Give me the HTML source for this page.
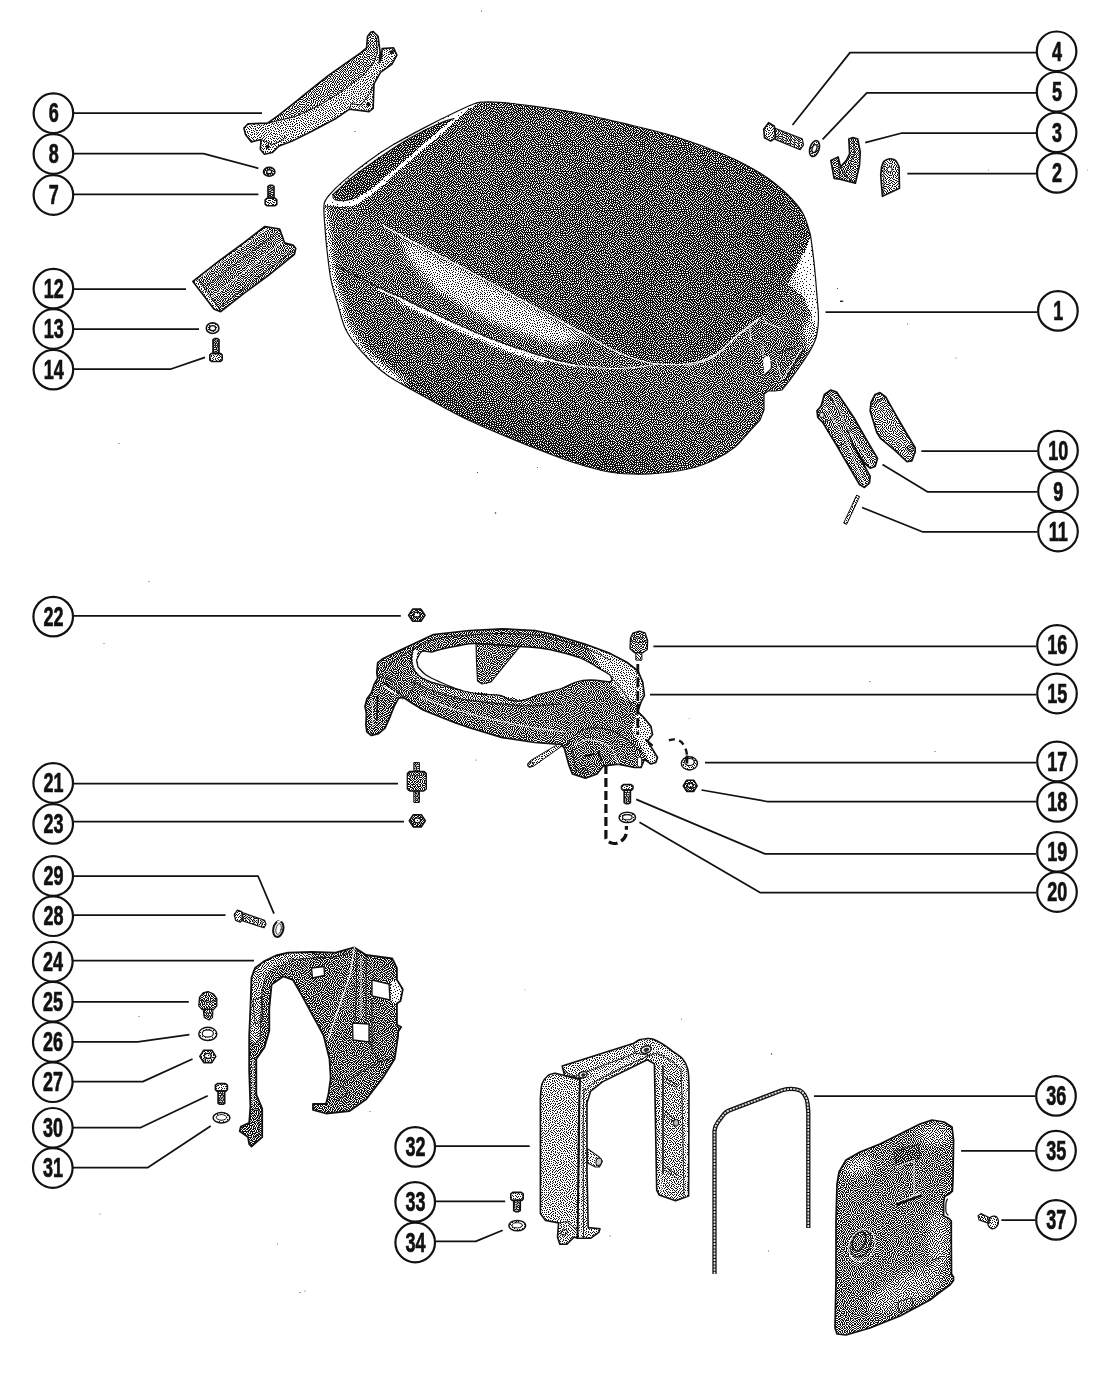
<!DOCTYPE html>
<html lang="en">
<head>
<meta charset="utf-8">
<title>Cowl and support frame - exploded parts diagram</title>
<style>
html,body{margin:0;padding:0;background:#fff;}
body{width:1100px;height:1382px;overflow:hidden;font-family:"Liberation Sans",sans-serif;}
svg{display:block;}
.ld{fill:none;stroke:#111;stroke-width:1.75;stroke-linejoin:round;}
.cc{fill:#fff;stroke:#111;stroke-width:2.2;}
.cn{font-family:"Liberation Sans",sans-serif;font-weight:700;font-size:27.5px;fill:#111;stroke:#111;stroke-width:0.7;text-anchor:middle;}
.o{fill:none;stroke:#111;stroke-width:1.1;stroke-linejoin:round;stroke-linecap:round;}
.o2{fill:none;stroke:#111;stroke-width:1.6;stroke-linejoin:round;stroke-linecap:round;}
.w{fill:none;stroke:#fff;stroke-width:1.2;stroke-linejoin:round;stroke-linecap:round;}
.dash{fill:none;stroke:#111;stroke-width:2.2;stroke-dasharray:7 3.5;}
</style>
</head>
<body>
<svg width="1100" height="1382" viewBox="0 0 1100 1382">
<defs>
<filter id="thr" x="0" y="0" width="1100" height="1382" filterUnits="userSpaceOnUse" color-interpolation-filters="sRGB">
<feComponentTransfer><feFuncR type="discrete" tableValues="0.07 1"/><feFuncG type="discrete" tableValues="0.07 1"/><feFuncB type="discrete" tableValues="0.07 1"/></feComponentTransfer>
</filter>
<pattern id="bn" x="0" y="0" width="64" height="64" patternUnits="userSpaceOnUse" shape-rendering="crispEdges">
<path fill="#020202" d="M36 0h1v1h-1zM63 0h1v1h-1zM29 1h1v1h-1zM46 1h1v1h-1zM17 2h1v1h-1zM8 3h1v1h-1zM56 5h1v1h-1zM37 6h1v1h-1zM42 8h1v1h-1zM51 8h1v1h-1zM23 9h1v1h-1zM12 10h1v1h-1zM61 11h1v1h-1zM5 13h1v1h-1zM36 14h1v1h-1zM20 15h1v1h-1zM29 15h1v1h-1zM42 17h1v1h-1zM55 18h1v1h-1zM0 20h1v1h-1zM7 21h1v1h-1zM17 22h1v1h-1zM24 22h1v1h-1zM33 22h1v1h-1zM49 22h1v1h-1zM1 28h1v1h-1zM17 28h1v1h-1zM41 28h1v1h-1zM58 29h1v1h-1zM5 32h1v1h-1zM23 33h1v1h-1zM31 33h1v1h-1zM11 34h1v1h-1zM51 35h1v1h-1zM58 35h1v1h-1zM36 36h1v1h-1zM42 38h1v1h-1zM1 39h1v1h-1zM28 39h1v1h-1zM16 40h1v1h-1zM6 41h1v1h-1zM52 41h1v1h-1zM38 43h1v1h-1zM20 44h1v1h-1zM5 47h1v1h-1zM51 47h1v1h-1zM59 47h1v1h-1zM44 48h1v1h-1zM28 50h1v1h-1zM10 51h1v1h-1zM17 52h1v1h-1zM33 52h1v1h-1zM51 53h1v1h-1zM43 54h1v1h-1zM59 54h1v1h-1zM4 56h1v1h-1zM37 57h1v1h-1zM27 58h1v1h-1zM13 59h1v1h-1zM21 60h1v1h-1zM7 61h1v1h-1zM41 61h1v1h-1zM57 62h1v1h-1zM51 63h1v1h-1z"/>
<path fill="#060606" d="M22 1h1v1h-1zM3 2h1v1h-1zM12 2h1v1h-1zM51 3h1v1h-1zM27 5h1v1h-1zM45 5h1v1h-1zM1 8h1v1h-1zM5 8h1v1h-1zM18 8h1v1h-1zM33 8h1v1h-1zM29 10h1v1h-1zM46 10h1v1h-1zM39 11h1v1h-1zM17 12h1v1h-1zM1 14h1v1h-1zM25 14h1v1h-1zM48 14h1v1h-1zM52 14h1v1h-1zM57 14h1v1h-1zM10 15h1v1h-1zM26 18h1v1h-1zM50 18h1v1h-1zM14 19h1v1h-1zM38 21h1v1h-1zM11 23h1v1h-1zM42 23h1v1h-1zM61 23h1v1h-1zM52 26h1v1h-1zM22 27h1v1h-1zM31 27h1v1h-1zM48 27h1v1h-1zM6 28h1v1h-1zM27 28h1v1h-1zM10 29h1v1h-1zM35 31h1v1h-1zM0 32h1v1h-1zM42 32h1v1h-1zM54 32h1v1h-1zM18 34h1v1h-1zM46 35h1v1h-1zM21 39h1v1h-1zM56 39h1v1h-1zM34 40h1v1h-1zM11 41h1v1h-1zM47 43h1v1h-1zM61 43h1v1h-1zM26 44h1v1h-1zM10 45h1v1h-1zM1 46h1v1h-1zM13 48h1v1h-1zM55 48h1v1h-1zM21 49h1v1h-1zM36 49h1v1h-1zM0 52h1v1h-1zM39 52h1v1h-1zM25 53h1v1h-1zM20 56h1v1h-1zM31 56h1v1h-1zM47 56h1v1h-1zM0 57h1v1h-1zM54 58h1v1h-1zM32 60h1v1h-1zM46 60h1v1h-1zM17 62h1v1h-1z"/>
<path fill="#0a0a0a" d="M43 0h1v1h-1zM54 1h1v1h-1zM33 2h1v1h-1zM0 4h1v1h-1zM40 4h1v1h-1zM14 5h1v1h-1zM11 6h1v1h-1zM21 6h1v1h-1zM59 7h1v1h-1zM57 10h1v1h-1zM8 11h1v1h-1zM32 12h1v1h-1zM13 13h1v1h-1zM42 13h1v1h-1zM33 16h1v1h-1zM2 17h1v1h-1zM9 18h1v1h-1zM17 18h1v1h-1zM45 19h1v1h-1zM57 21h1v1h-1zM3 22h1v1h-1zM53 22h1v1h-1zM20 24h1v1h-1zM27 24h1v1h-1zM5 25h1v1h-1zM38 25h1v1h-1zM58 25h1v1h-1zM14 26h1v1h-1zM35 27h1v1h-1zM45 29h1v1h-1zM21 30h1v1h-1zM38 32h1v1h-1zM50 32h1v1h-1zM14 33h1v1h-1zM27 33h1v1h-1zM62 35h1v1h-1zM8 38h1v1h-1zM12 38h1v1h-1zM48 38h1v1h-1zM61 39h1v1h-1zM25 41h1v1h-1zM30 42h1v1h-1zM44 42h1v1h-1zM3 43h1v1h-1zM54 44h1v1h-1zM41 45h1v1h-1zM17 46h1v1h-1zM24 47h1v1h-1zM32 49h1v1h-1zM40 49h1v1h-1zM46 51h1v1h-1zM57 51h1v1h-1zM4 52h1v1h-1zM14 53h1v1h-1zM7 54h1v1h-1zM54 54h1v1h-1zM9 58h1v1h-1zM43 58h1v1h-1zM50 59h1v1h-1zM59 59h1v1h-1zM36 60h1v1h-1zM1 61h1v1h-1zM11 62h1v1h-1zM24 62h1v1h-1z"/>
<path fill="#0e0e0e" d="M5 0h1v1h-1zM25 2h1v1h-1zM30 4h1v1h-1zM59 4h1v1h-1zM34 5h1v1h-1zM48 7h1v1h-1zM26 9h1v1h-1zM54 9h1v1h-1zM35 11h1v1h-1zM49 11h1v1h-1zM61 14h1v1h-1zM39 15h1v1h-1zM14 16h1v1h-1zM45 16h1v1h-1zM58 17h1v1h-1zM29 18h1v1h-1zM38 18h1v1h-1zM5 19h1v1h-1zM23 19h1v1h-1zM34 19h1v1h-1zM60 20h1v1h-1zM30 23h1v1h-1zM45 23h1v1h-1zM55 25h1v1h-1zM9 26h1v1h-1zM62 26h1v1h-1zM38 29h1v1h-1zM55 29h1v1h-1zM13 30h1v1h-1zM32 30h1v1h-1zM47 32h1v1h-1zM61 32h1v1h-1zM3 34h1v1h-1zM8 35h1v1h-1zM22 36h1v1h-1zM28 36h1v1h-1zM55 36h1v1h-1zM16 37h1v1h-1zM33 37h1v1h-1zM4 38h1v1h-1zM25 38h1v1h-1zM39 38h1v1h-1zM33 43h1v1h-1zM58 44h1v1h-1zM13 45h1v1h-1zM36 46h1v1h-1zM48 46h1v1h-1zM28 47h1v1h-1zM2 49h1v1h-1zM51 50h1v1h-1zM60 50h1v1h-1zM22 52h1v1h-1zM36 53h1v1h-1zM29 54h1v1h-1zM10 55h1v1h-1zM14 56h1v1h-1zM23 56h1v1h-1zM40 57h1v1h-1zM4 59h1v1h-1zM18 59h1v1h-1zM62 60h1v1h-1zM29 61h1v1h-1zM54 61h1v1h-1zM14 63h1v1h-1z"/>
<path fill="#121212" d="M9 0h1v1h-1zM57 1h1v1h-1zM61 2h1v1h-1zM20 3h1v1h-1zM36 3h1v1h-1zM43 3h1v1h-1zM48 4h1v1h-1zM6 5h1v1h-1zM17 5h1v1h-1zM53 5h1v1h-1zM8 8h1v1h-1zM14 8h1v1h-1zM62 8h1v1h-1zM20 10h1v1h-1zM0 11h1v1h-1zM3 11h1v1h-1zM23 12h1v1h-1zM54 12h1v1h-1zM45 13h1v1h-1zM17 15h1v1h-1zM7 16h1v1h-1zM20 18h1v1h-1zM62 18h1v1h-1zM42 20h1v1h-1zM21 21h1v1h-1zM27 21h1v1h-1zM14 23h1v1h-1zM36 23h1v1h-1zM2 25h1v1h-1zM24 29h1v1h-1zM62 29h1v1h-1zM3 30h1v1h-1zM29 30h1v1h-1zM16 31h1v1h-1zM9 32h1v1h-1zM57 32h1v1h-1zM43 35h1v1h-1zM45 38h1v1h-1zM53 38h1v1h-1zM49 41h1v1h-1zM14 42h1v1h-1zM41 42h1v1h-1zM0 43h1v1h-1zM17 43h1v1h-1zM6 44h1v1h-1zM23 44h1v1h-1zM51 44h1v1h-1zM30 45h1v1h-1zM44 45h1v1h-1zM33 46h1v1h-1zM62 46h1v1h-1zM8 47h1v1h-1zM18 49h1v1h-1zM48 49h1v1h-1zM63 49h1v1h-1zM25 50h1v1h-1zM7 51h1v1h-1zM43 51h1v1h-1zM54 51h1v1h-1zM17 55h1v1h-1zM57 57h1v1h-1zM48 62h1v1h-1zM60 62h1v1h-1zM39 63h1v1h-1z"/>
<path fill="#161616" d="M19 0h1v1h-1zM32 0h1v1h-1zM49 1h1v1h-1zM39 2h1v1h-1zM23 4h1v1h-1zM62 5h1v1h-1zM3 6h1v1h-1zM31 7h1v1h-1zM45 8h1v1h-1zM37 9h1v1h-1zM15 11h1v1h-1zM27 12h1v1h-1zM4 16h1v1h-1zM22 16h1v1h-1zM53 17h1v1h-1zM48 19h1v1h-1zM31 20h1v1h-1zM52 20h1v1h-1zM10 21h1v1h-1zM0 24h1v1h-1zM7 24h1v1h-1zM47 24h1v1h-1zM18 25h1v1h-1zM34 25h1v1h-1zM41 25h1v1h-1zM25 26h1v1h-1zM12 27h1v1h-1zM44 27h1v1h-1zM49 29h1v1h-1zM52 30h1v1h-1zM19 31h1v1h-1zM33 34h1v1h-1zM40 34h1v1h-1zM5 35h1v1h-1zM25 35h1v1h-1zM13 36h1v1h-1zM19 36h1v1h-1zM0 37h1v1h-1zM59 37h1v1h-1zM30 38h1v1h-1zM38 40h1v1h-1zM19 41h1v1h-1zM22 41h1v1h-1zM9 42h1v1h-1zM56 42h1v1h-1zM39 46h1v1h-1zM15 50h1v1h-1zM30 52h1v1h-1zM20 53h1v1h-1zM61 53h1v1h-1zM40 54h1v1h-1zM48 54h1v1h-1zM2 55h1v1h-1zM26 55h1v1h-1zM35 55h1v1h-1zM52 56h1v1h-1zM62 56h1v1h-1zM34 58h1v1h-1zM25 59h1v1h-1zM15 60h1v1h-1zM39 60h1v1h-1zM4 62h1v1h-1zM34 62h1v1h-1zM27 63h1v1h-1z"/>
<path fill="#1a1a1a" d="M2 0h1v1h-1zM15 2h1v1h-1zM5 3h1v1h-1zM9 5h1v1h-1zM42 6h1v1h-1zM24 7h1v1h-1zM28 7h1v1h-1zM39 7h1v1h-1zM56 7h1v1h-1zM43 11h1v1h-1zM52 11h1v1h-1zM10 12h1v1h-1zM59 12h1v1h-1zM20 13h1v1h-1zM30 13h1v1h-1zM55 15h1v1h-1zM49 16h1v1h-1zM63 16h1v1h-1zM36 17h1v1h-1zM12 18h1v1h-1zM18 20h1v1h-1zM40 22h1v1h-1zM56 23h1v1h-1zM23 24h1v1h-1zM50 25h1v1h-1zM29 26h1v1h-1zM60 27h1v1h-1zM19 28h1v1h-1zM7 30h1v1h-1zM26 31h1v1h-1zM44 32h1v1h-1zM21 33h1v1h-1zM36 34h1v1h-1zM53 34h1v1h-1zM1 35h1v1h-1zM30 35h1v1h-1zM49 35h1v1h-1zM36 38h1v1h-1zM51 38h1v1h-1zM32 40h1v1h-1zM46 40h1v1h-1zM58 40h1v1h-1zM3 41h1v1h-1zM63 41h1v1h-1zM28 42h1v1h-1zM36 42h1v1h-1zM56 46h1v1h-1zM20 47h1v1h-1zM10 48h1v1h-1zM5 49h1v1h-1zM12 52h1v1h-1zM45 54h1v1h-1zM56 54h1v1h-1zM12 57h1v1h-1zM45 57h1v1h-1zM49 57h1v1h-1zM60 57h1v1h-1zM6 58h1v1h-1zM22 58h1v1h-1zM30 58h1v1h-1zM10 60h1v1h-1zM52 60h1v1h-1zM21 62h1v1h-1zM45 62h1v1h-1z"/>
<path fill="#1e1e1e" d="M59 0h1v1h-1zM41 1h1v1h-1zM27 2h1v1h-1zM55 3h1v1h-1zM50 6h1v1h-1zM35 8h1v1h-1zM10 9h1v1h-1zM16 9h1v1h-1zM59 9h1v1h-1zM6 10h1v1h-1zM32 10h1v1h-1zM41 10h1v1h-1zM38 13h1v1h-1zM8 14h1v1h-1zM33 14h1v1h-1zM24 16h1v1h-1zM27 16h1v1h-1zM60 16h1v1h-1zM31 17h1v1h-1zM40 19h1v1h-1zM2 20h1v1h-1zM36 20h1v1h-1zM55 20h1v1h-1zM13 21h1v1h-1zM46 21h1v1h-1zM63 22h1v1h-1zM59 23h1v1h-1zM16 25h1v1h-1zM32 25h1v1h-1zM44 25h1v1h-1zM4 27h1v1h-1zM56 27h1v1h-1zM53 28h1v1h-1zM15 29h1v1h-1zM34 29h1v1h-1zM40 31h1v1h-1zM59 31h1v1h-1zM16 34h1v1h-1zM39 36h1v1h-1zM10 37h1v1h-1zM18 38h1v1h-1zM14 39h1v1h-1zM43 40h1v1h-1zM54 41h1v1h-1zM59 42h1v1h-1zM3 46h1v1h-1zM53 46h1v1h-1zM15 47h1v1h-1zM42 47h1v1h-1zM46 47h1v1h-1zM30 48h1v1h-1zM57 49h1v1h-1zM34 50h1v1h-1zM38 50h1v1h-1zM27 52h1v1h-1zM49 52h1v1h-1zM0 54h1v1h-1zM32 54h1v1h-1zM38 55h1v1h-1zM7 56h1v1h-1zM16 57h1v1h-1zM2 58h1v1h-1zM56 60h1v1h-1zM43 61h1v1h-1z"/>
<path fill="#222222" d="M12 0h1v1h-1zM24 0h1v1h-1zM7 1h1v1h-1zM52 1h1v1h-1zM0 2h1v1h-1zM46 3h1v1h-1zM2 4h1v1h-1zM12 4h1v1h-1zM32 4h1v1h-1zM25 5h1v1h-1zM19 6h1v1h-1zM53 7h1v1h-1zM3 9h1v1h-1zM48 9h1v1h-1zM25 11h1v1h-1zM56 12h1v1h-1zM50 13h1v1h-1zM63 13h1v1h-1zM3 14h1v1h-1zM15 14h1v1h-1zM12 15h1v1h-1zM43 15h1v1h-1zM47 17h1v1h-1zM58 19h1v1h-1zM29 21h1v1h-1zM5 22h1v1h-1zM51 23h1v1h-1zM11 25h1v1h-1zM39 27h1v1h-1zM0 30h1v1h-1zM43 30h1v1h-1zM47 30h1v1h-1zM11 31h1v1h-1zM29 32h1v1h-1zM7 33h1v1h-1zM56 34h1v1h-1zM60 34h1v1h-1zM6 37h1v1h-1zM23 38h1v1h-1zM8 40h1v1h-1zM12 43h1v1h-1zM8 44h1v1h-1zM15 44h1v1h-1zM35 44h1v1h-1zM49 44h1v1h-1zM22 46h1v1h-1zM26 48h1v1h-1zM61 48h1v1h-1zM53 49h1v1h-1zM23 50h1v1h-1zM2 51h1v1h-1zM19 51h1v1h-1zM41 51h1v1h-1zM9 53h1v1h-1zM5 54h1v1h-1zM23 54h1v1h-1zM28 56h1v1h-1zM42 56h1v1h-1zM48 59h1v1h-1zM26 61h1v1h-1zM31 62h1v1h-1zM37 62h1v1h-1zM63 62h1v1h-1zM55 63h1v1h-1z"/>
<path fill="#262626" d="M16 0h1v1h-1zM10 2h1v1h-1zM31 2h1v1h-1zM57 3h1v1h-1zM38 4h1v1h-1zM0 6h1v1h-1zM16 7h1v1h-1zM12 8h1v1h-1zM21 8h1v1h-1zM18 10h1v1h-1zM47 12h1v1h-1zM22 14h1v1h-1zM41 15h1v1h-1zM51 16h1v1h-1zM0 18h1v1h-1zM7 18h1v1h-1zM25 20h1v1h-1zM50 20h1v1h-1zM15 21h1v1h-1zM44 21h1v1h-1zM19 22h1v1h-1zM9 23h1v1h-1zM25 24h1v1h-1zM53 24h1v1h-1zM36 25h1v1h-1zM0 26h1v1h-1zM20 26h1v1h-1zM46 26h1v1h-1zM8 28h1v1h-1zM29 28h1v1h-1zM51 28h1v1h-1zM36 29h1v1h-1zM23 31h1v1h-1zM2 32h1v1h-1zM33 32h1v1h-1zM41 36h1v1h-1zM2 37h1v1h-1zM57 37h1v1h-1zM62 37h1v1h-1zM10 39h1v1h-1zM40 40h1v1h-1zM28 45h1v1h-1zM46 45h1v1h-1zM60 45h1v1h-1zM34 48h1v1h-1zM38 48h1v1h-1zM8 49h1v1h-1zM12 50h1v1h-1zM36 51h1v1h-1zM62 51h1v1h-1zM59 52h1v1h-1zM12 54h1v1h-1zM50 55h1v1h-1zM33 56h1v1h-1zM55 56h1v1h-1zM18 57h1v1h-1zM25 57h1v1h-1zM0 59h1v1h-1zM41 59h1v1h-1zM23 60h1v1h-1zM13 61h1v1h-1zM19 61h1v1h-1zM50 61h1v1h-1zM9 62h1v1h-1z"/>
<path fill="#2a2a2a" d="M34 0h1v1h-1zM47 0h1v1h-1zM61 0h1v1h-1zM46 6h1v1h-1zM60 6h1v1h-1zM7 7h1v1h-1zM30 9h1v1h-1zM39 9h1v1h-1zM63 9h1v1h-1zM37 11h1v1h-1zM40 13h1v1h-1zM27 14h1v1h-1zM59 14h1v1h-1zM31 15h1v1h-1zM18 16h1v1h-1zM40 17h1v1h-1zM11 19h1v1h-1zM62 20h1v1h-1zM1 22h1v1h-1zM38 23h1v1h-1zM60 25h1v1h-1zM7 26h1v1h-1zM33 27h1v1h-1zM60 29h1v1h-1zM5 30h1v1h-1zM52 32h1v1h-1zM25 33h1v1h-1zM45 33h1v1h-1zM38 34h1v1h-1zM32 36h1v1h-1zM47 36h1v1h-1zM53 36h1v1h-1zM26 37h1v1h-1zM6 39h1v1h-1zM30 40h1v1h-1zM36 40h1v1h-1zM50 40h1v1h-1zM1 41h1v1h-1zM61 41h1v1h-1zM24 42h1v1h-1zM42 43h1v1h-1zM31 44h1v1h-1zM56 44h1v1h-1zM19 45h1v1h-1zM63 45h1v1h-1zM11 46h1v1h-1zM26 46h1v1h-1zM50 48h1v1h-1zM42 49h1v1h-1zM46 49h1v1h-1zM30 50h1v1h-1zM53 52h1v1h-1zM2 53h1v1h-1zM16 54h1v1h-1zM58 55h1v1h-1zM20 58h1v1h-1zM38 58h1v1h-1zM52 58h1v1h-1zM62 58h1v1h-1zM34 60h1v1h-1zM7 63h1v1h-1zM29 63h1v1h-1zM41 63h1v1h-1zM53 63h1v1h-1z"/>
<path fill="#2e2e2e" d="M37 1h1v1h-1zM44 2h1v1h-1zM59 2h1v1h-1zM18 3h1v1h-1zM53 3h1v1h-1zM15 4h1v1h-1zM28 4h1v1h-1zM30 6h1v1h-1zM26 7h1v1h-1zM44 10h1v1h-1zM51 10h1v1h-1zM21 11h1v1h-1zM2 12h1v1h-1zM34 12h1v1h-1zM7 13h1v1h-1zM18 13h1v1h-1zM46 15h1v1h-1zM35 16h1v1h-1zM56 16h1v1h-1zM15 17h1v1h-1zM4 18h1v1h-1zM44 18h1v1h-1zM60 18h1v1h-1zM28 19h1v1h-1zM32 19h1v1h-1zM8 20h1v1h-1zM22 22h1v1h-1zM35 22h1v1h-1zM4 24h1v1h-1zM13 24h1v1h-1zM27 26h1v1h-1zM37 27h1v1h-1zM42 27h1v1h-1zM58 27h1v1h-1zM56 30h1v1h-1zM18 32h1v1h-1zM12 33h1v1h-1zM48 33h1v1h-1zM63 33h1v1h-1zM21 35h1v1h-1zM15 36h1v1h-1zM44 37h1v1h-1zM50 37h1v1h-1zM20 38h1v1h-1zM63 39h1v1h-1zM13 40h1v1h-1zM27 40h1v1h-1zM21 42h1v1h-1zM52 43h1v1h-1zM4 44h1v1h-1zM39 44h1v1h-1zM7 46h1v1h-1zM0 48h1v1h-1zM16 49h1v1h-1zM56 52h1v1h-1zM42 53h1v1h-1zM46 53h1v1h-1zM19 54h1v1h-1zM32 58h1v1h-1zM7 59h1v1h-1zM45 59h1v1h-1zM28 60h1v1h-1zM3 61h1v1h-1zM59 61h1v1h-1z"/>
<path fill="#323232" d="M21 0h1v1h-1zM26 0h1v1h-1zM22 3h1v1h-1zM34 3h1v1h-1zM49 3h1v1h-1zM62 3h1v1h-1zM4 5h1v1h-1zM43 5h1v1h-1zM51 5h1v1h-1zM35 6h1v1h-1zM40 6h1v1h-1zM56 9h1v1h-1zM5 11h1v1h-1zM12 12h1v1h-1zM29 12h1v1h-1zM54 14h1v1h-1zM5 15h1v1h-1zM38 16h1v1h-1zM10 17h1v1h-1zM24 18h1v1h-1zM21 19h1v1h-1zM53 19h1v1h-1zM48 21h1v1h-1zM32 23h1v1h-1zM29 24h1v1h-1zM22 25h1v1h-1zM48 25h1v1h-1zM16 27h1v1h-1zM24 27h1v1h-1zM3 28h1v1h-1zM13 28h1v1h-1zM21 28h1v1h-1zM26 29h1v1h-1zM31 29h1v1h-1zM41 30h1v1h-1zM36 32h1v1h-1zM28 34h1v1h-1zM42 34h1v1h-1zM10 35h1v1h-1zM34 35h1v1h-1zM34 38h1v1h-1zM54 39h1v1h-1zM59 39h1v1h-1zM4 40h1v1h-1zM17 41h1v1h-1zM46 42h1v1h-1zM1 44h1v1h-1zM37 45h1v1h-1zM18 47h1v1h-1zM31 47h1v1h-1zM57 47h1v1h-1zM3 48h1v1h-1zM23 48h1v1h-1zM5 51h1v1h-1zM14 51h1v1h-1zM48 51h1v1h-1zM34 53h1v1h-1zM62 54h1v1h-1zM21 55h1v1h-1zM10 57h1v1h-1zM35 57h1v1h-1zM16 59h1v1h-1zM57 59h1v1h-1zM1 63h1v1h-1z"/>
<path fill="#363636" d="M45 0h1v1h-1zM14 1h1v1h-1zM41 3h1v1h-1zM10 4h1v1h-1zM13 6h1v1h-1zM23 6h1v1h-1zM32 6h1v1h-1zM58 6h1v1h-1zM10 7h1v1h-1zM44 7h1v1h-1zM61 9h1v1h-1zM1 10h1v1h-1zM14 10h1v1h-1zM27 10h1v1h-1zM34 10h1v1h-1zM1 16h1v1h-1zM16 19h1v1h-1zM4 20h1v1h-1zM59 21h1v1h-1zM26 22h1v1h-1zM55 22h1v1h-1zM16 23h1v1h-1zM40 24h1v1h-1zM62 24h1v1h-1zM54 26h1v1h-1zM10 27h1v1h-1zM50 27h1v1h-1zM46 28h1v1h-1zM63 28h1v1h-1zM9 30h1v1h-1zM18 30h1v1h-1zM50 30h1v1h-1zM14 31h1v1h-1zM62 31h1v1h-1zM58 33h1v1h-1zM4 36h1v1h-1zM24 36h1v1h-1zM60 36h1v1h-1zM24 40h1v1h-1zM48 40h1v1h-1zM7 42h1v1h-1zM34 42h1v1h-1zM39 42h1v1h-1zM50 42h1v1h-1zM10 43h1v1h-1zM24 45h1v1h-1zM50 46h1v1h-1zM40 47h1v1h-1zM59 49h1v1h-1zM44 50h1v1h-1zM55 50h1v1h-1zM21 51h1v1h-1zM32 51h1v1h-1zM24 52h1v1h-1zM38 53h1v1h-1zM27 54h1v1h-1zM52 54h1v1h-1zM44 56h1v1h-1zM14 58h1v1h-1zM47 58h1v1h-1zM11 59h1v1h-1zM5 61h1v1h-1zM15 62h1v1h-1zM49 63h1v1h-1z"/>
<path fill="#3a3a3a" d="M56 0h1v1h-1zM4 1h1v1h-1zM25 3h1v1h-1zM7 4h1v1h-1zM20 5h1v1h-1zM54 6h1v1h-1zM2 7h1v1h-1zM49 8h1v1h-1zM9 10h1v1h-1zM24 10h1v1h-1zM54 10h1v1h-1zM58 11h1v1h-1zM62 12h1v1h-1zM10 13h1v1h-1zM24 13h1v1h-1zM44 13h1v1h-1zM62 15h1v1h-1zM19 17h1v1h-1zM34 18h1v1h-1zM37 19h1v1h-1zM12 21h1v1h-1zM43 22h1v1h-1zM57 24h1v1h-1zM38 30h1v1h-1zM54 30h1v1h-1zM31 31h1v1h-1zM45 31h1v1h-1zM4 33h1v1h-1zM20 33h1v1h-1zM55 33h1v1h-1zM13 35h1v1h-1zM7 36h1v1h-1zM17 36h1v1h-1zM29 37h1v1h-1zM37 37h1v1h-1zM32 38h1v1h-1zM18 39h1v1h-1zM41 39h1v1h-1zM57 41h1v1h-1zM5 42h1v1h-1zM32 42h1v1h-1zM19 43h1v1h-1zM27 43h1v1h-1zM43 44h1v1h-1zM34 45h1v1h-1zM14 46h1v1h-1zM54 47h1v1h-1zM11 49h1v1h-1zM27 49h1v1h-1zM0 50h1v1h-1zM51 51h1v1h-1zM8 52h1v1h-1zM44 52h1v1h-1zM13 55h1v1h-1zM60 55h1v1h-1zM8 56h1v1h-1zM40 56h1v1h-1zM3 57h1v1h-1zM29 57h1v1h-1zM30 60h1v1h-1zM61 60h1v1h-1zM38 61h1v1h-1zM47 61h1v1h-1zM18 63h1v1h-1z"/>
<path fill="#3e3e3e" d="M11 0h1v1h-1zM30 0h1v1h-1zM39 0h1v1h-1zM19 1h1v1h-1zM1 2h1v1h-1zM29 3h1v1h-1zM48 5h1v1h-1zM62 6h1v1h-1zM5 7h1v1h-1zM37 7h1v1h-1zM28 8h1v1h-1zM41 12h1v1h-1zM51 12h1v1h-1zM15 13h1v1h-1zM35 14h1v1h-1zM50 15h1v1h-1zM58 15h1v1h-1zM12 16h1v1h-1zM53 16h1v1h-1zM6 17h1v1h-1zM22 17h1v1h-1zM28 17h1v1h-1zM46 18h1v1h-1zM57 18h1v1h-1zM43 19h1v1h-1zM19 20h1v1h-1zM40 20h1v1h-1zM34 21h1v1h-1zM51 21h1v1h-1zM2 23h1v1h-1zM7 23h1v1h-1zM48 23h1v1h-1zM43 25h1v1h-1zM2 26h1v1h-1zM24 31h1v1h-1zM28 31h1v1h-1zM9 33h1v1h-1zM0 34h1v1h-1zM50 34h1v1h-1zM45 35h1v1h-1zM15 38h1v1h-1zM47 38h1v1h-1zM44 40h1v1h-1zM15 42h1v1h-1zM54 43h1v1h-1zM62 43h1v1h-1zM16 45h1v1h-1zM43 46h1v1h-1zM35 47h1v1h-1zM6 48h1v1h-1zM17 51h1v1h-1zM4 54h1v1h-1zM30 54h1v1h-1zM1 56h1v1h-1zM51 57h1v1h-1zM24 58h1v1h-1zM36 59h1v1h-1zM55 59h1v1h-1zM2 60h1v1h-1zM8 60h1v1h-1zM43 60h1v1h-1zM33 62h1v1h-1zM52 62h1v1h-1zM23 63h1v1h-1z"/>
<path fill="#424242" d="M35 1h1v1h-1zM50 1h1v1h-1zM6 2h1v1h-1zM13 3h1v1h-1zM36 4h1v1h-1zM60 4h1v1h-1zM19 8h1v1h-1zM41 8h1v1h-1zM57 8h1v1h-1zM31 11h1v1h-1zM19 12h1v1h-1zM9 16h1v1h-1zM25 16h1v1h-1zM51 18h1v1h-1zM2 19h1v1h-1zM23 21h1v1h-1zM31 21h1v1h-1zM61 21h1v1h-1zM28 22h1v1h-1zM18 24h1v1h-1zM34 24h1v1h-1zM31 25h1v1h-1zM40 26h1v1h-1zM18 27h1v1h-1zM12 29h1v1h-1zM22 29h1v1h-1zM43 29h1v1h-1zM2 30h1v1h-1zM7 31h1v1h-1zM48 31h1v1h-1zM16 33h1v1h-1zM34 33h1v1h-1zM40 33h1v1h-1zM6 34h1v1h-1zM23 34h1v1h-1zM27 35h1v1h-1zM55 37h1v1h-1zM2 39h1v1h-1zM20 40h1v1h-1zM52 40h1v1h-1zM29 43h1v1h-1zM45 43h1v1h-1zM5 45h1v1h-1zM21 45h1v1h-1zM58 45h1v1h-1zM12 47h1v1h-1zM48 48h1v1h-1zM52 48h1v1h-1zM20 49h1v1h-1zM3 50h1v1h-1zM9 50h1v1h-1zM26 51h1v1h-1zM11 53h1v1h-1zM57 53h1v1h-1zM24 55h1v1h-1zM37 55h1v1h-1zM46 55h1v1h-1zM54 56h1v1h-1zM5 57h1v1h-1zM58 57h1v1h-1zM17 60h1v1h-1zM62 62h1v1h-1zM43 63h1v1h-1zM58 63h1v1h-1z"/>
<path fill="#464646" d="M23 2h1v1h-1zM47 2h1v1h-1zM8 6h1v1h-1zM15 6h1v1h-1zM46 8h1v1h-1zM7 9h1v1h-1zM43 9h1v1h-1zM52 9h1v1h-1zM22 10h1v1h-1zM45 11h1v1h-1zM36 12h1v1h-1zM48 12h1v1h-1zM56 13h1v1h-1zM0 14h1v1h-1zM37 15h1v1h-1zM16 16h1v1h-1zM30 16h1v1h-1zM43 16h1v1h-1zM61 17h1v1h-1zM30 19h1v1h-1zM6 20h1v1h-1zM21 23h1v1h-1zM9 24h1v1h-1zM51 24h1v1h-1zM6 27h1v1h-1zM57 28h1v1h-1zM40 29h1v1h-1zM21 31h1v1h-1zM60 33h1v1h-1zM31 34h1v1h-1zM47 34h1v1h-1zM11 36h1v1h-1zM63 36h1v1h-1zM21 37h1v1h-1zM40 37h1v1h-1zM26 39h1v1h-1zM11 40h1v1h-1zM37 41h1v1h-1zM42 41h1v1h-1zM48 42h1v1h-1zM22 43h1v1h-1zM25 43h1v1h-1zM12 44h1v1h-1zM32 45h1v1h-1zM52 45h1v1h-1zM9 46h1v1h-1zM37 47h1v1h-1zM63 47h1v1h-1zM14 49h1v1h-1zM49 50h1v1h-1zM40 51h1v1h-1zM61 51h1v1h-1zM15 52h1v1h-1zM29 52h1v1h-1zM6 53h1v1h-1zM18 53h1v1h-1zM49 54h1v1h-1zM15 55h1v1h-1zM27 59h1v1h-1zM12 61h1v1h-1zM22 61h1v1h-1zM25 61h1v1h-1zM36 62h1v1h-1zM3 63h1v1h-1z"/>
<path fill="#4a4a4a" d="M9 1h1v1h-1zM63 1h1v1h-1zM38 2h1v1h-1zM45 4h1v1h-1zM55 4h1v1h-1zM1 5h1v1h-1zM18 5h1v1h-1zM25 8h1v1h-1zM4 9h1v1h-1zM36 9h1v1h-1zM17 10h1v1h-1zM60 10h1v1h-1zM7 12h1v1h-1zM4 13h1v1h-1zM53 13h1v1h-1zM60 13h1v1h-1zM28 14h1v1h-1zM32 14h1v1h-1zM47 15h1v1h-1zM13 18h1v1h-1zM26 19h1v1h-1zM10 20h1v1h-1zM47 20h1v1h-1zM54 21h1v1h-1zM37 22h1v1h-1zM58 22h1v1h-1zM45 24h1v1h-1zM13 25h1v1h-1zM61 27h1v1h-1zM33 28h1v1h-1zM48 28h1v1h-1zM16 30h1v1h-1zM60 30h1v1h-1zM57 31h1v1h-1zM12 32h1v1h-1zM52 33h1v1h-1zM2 35h1v1h-1zM19 35h1v1h-1zM37 35h1v1h-1zM57 35h1v1h-1zM52 36h1v1h-1zM43 37h1v1h-1zM61 38h1v1h-1zM23 39h1v1h-1zM55 40h1v1h-1zM60 41h1v1h-1zM2 42h1v1h-1zM2 45h1v1h-1zM48 45h1v1h-1zM29 46h1v1h-1zM60 46h1v1h-1zM45 47h1v1h-1zM35 51h1v1h-1zM41 54h1v1h-1zM33 55h1v1h-1zM63 55h1v1h-1zM11 56h1v1h-1zM18 56h1v1h-1zM60 58h1v1h-1zM20 59h1v1h-1zM40 59h1v1h-1zM49 60h1v1h-1zM53 60h1v1h-1zM6 63h1v1h-1z"/>
<path fill="#4e4e4e" d="M27 1h1v1h-1zM20 2h1v1h-1zM42 2h1v1h-1zM16 3h1v1h-1zM4 4h1v1h-1zM26 4h1v1h-1zM39 5h1v1h-1zM57 5h1v1h-1zM29 6h1v1h-1zM22 7h1v1h-1zM34 7h1v1h-1zM31 8h1v1h-1zM11 10h1v1h-1zM49 10h1v1h-1zM26 12h1v1h-1zM22 13h1v1h-1zM33 17h1v1h-1zM48 17h1v1h-1zM41 18h1v1h-1zM56 19h1v1h-1zM16 20h1v1h-1zM41 22h1v1h-1zM54 24h1v1h-1zM24 25h1v1h-1zM15 27h1v1h-1zM26 27h1v1h-1zM54 27h1v1h-1zM5 29h1v1h-1zM27 30h1v1h-1zM34 30h1v1h-1zM37 31h1v1h-1zM43 33h1v1h-1zM9 37h1v1h-1zM49 37h1v1h-1zM57 38h1v1h-1zM38 39h1v1h-1zM29 40h1v1h-1zM36 43h1v1h-1zM58 43h1v1h-1zM18 44h1v1h-1zM40 44h1v1h-1zM55 45h1v1h-1zM17 48h1v1h-1zM33 48h1v1h-1zM24 49h1v1h-1zM29 49h1v1h-1zM6 50h1v1h-1zM58 50h1v1h-1zM37 52h1v1h-1zM47 52h1v1h-1zM63 52h1v1h-1zM22 53h1v1h-1zM54 53h1v1h-1zM9 54h1v1h-1zM26 56h1v1h-1zM22 57h1v1h-1zM42 57h1v1h-1zM0 60h1v1h-1zM5 60h1v1h-1zM58 60h1v1h-1zM20 62h1v1h-1zM28 62h1v1h-1zM40 62h1v1h-1zM55 62h1v1h-1z"/>
<path fill="#525252" d="M17 0h1v1h-1zM32 1h1v1h-1zM60 1h1v1h-1zM53 2h1v1h-1zM56 2h1v1h-1zM21 4h1v1h-1zM50 4h1v1h-1zM41 5h1v1h-1zM17 7h1v1h-1zM51 7h1v1h-1zM55 7h1v1h-1zM61 7h1v1h-1zM0 8h1v1h-1zM40 10h1v1h-1zM13 11h1v1h-1zM55 11h1v1h-1zM63 11h1v1h-1zM13 14h1v1h-1zM7 15h1v1h-1zM19 15h1v1h-1zM23 15h1v1h-1zM3 16h1v1h-1zM55 17h1v1h-1zM36 18h1v1h-1zM63 19h1v1h-1zM8 22h1v1h-1zM46 22h1v1h-1zM5 23h1v1h-1zM12 23h1v1h-1zM15 24h1v1h-1zM28 25h1v1h-1zM63 25h1v1h-1zM4 26h1v1h-1zM37 26h1v1h-1zM57 26h1v1h-1zM30 28h1v1h-1zM19 29h1v1h-1zM3 32h1v1h-1zM29 33h1v1h-1zM14 34h1v1h-1zM62 34h1v1h-1zM54 35h1v1h-1zM31 36h1v1h-1zM35 36h1v1h-1zM13 37h1v1h-1zM27 37h1v1h-1zM5 38h1v1h-1zM16 39h1v1h-1zM50 39h1v1h-1zM9 41h1v1h-1zM13 41h1v1h-1zM27 41h1v1h-1zM1 47h1v1h-1zM21 47h1v1h-1zM41 48h1v1h-1zM61 49h1v1h-1zM53 50h1v1h-1zM31 53h1v1h-1zM30 56h1v1h-1zM49 56h1v1h-1zM56 56h1v1h-1zM33 59h1v1h-1zM46 62h1v1h-1zM13 63h1v1h-1z"/>
<path fill="#565656" d="M11 3h1v1h-1zM33 4h1v1h-1zM47 6h1v1h-1zM13 8h1v1h-1zM33 9h1v1h-1zM47 10h1v1h-1zM28 11h1v1h-1zM1 12h1v1h-1zM38 12h1v1h-1zM46 13h1v1h-1zM11 14h1v1h-1zM17 14h1v1h-1zM40 14h1v1h-1zM18 18h1v1h-1zM8 19h1v1h-1zM22 20h1v1h-1zM33 20h1v1h-1zM38 20h1v1h-1zM0 22h1v1h-1zM26 23h1v1h-1zM39 24h1v1h-1zM49 24h1v1h-1zM60 24h1v1h-1zM11 26h1v1h-1zM21 26h1v1h-1zM45 27h1v1h-1zM9 28h1v1h-1zM24 28h1v1h-1zM36 28h1v1h-1zM0 29h1v1h-1zM52 29h1v1h-1zM50 31h1v1h-1zM55 31h1v1h-1zM25 32h1v1h-1zM1 33h1v1h-1zM3 37h1v1h-1zM46 37h1v1h-1zM7 39h1v1h-1zM35 39h1v1h-1zM63 40h1v1h-1zM31 41h1v1h-1zM7 44h1v1h-1zM14 44h1v1h-1zM60 44h1v1h-1zM25 46h1v1h-1zM4 47h1v1h-1zM37 49h1v1h-1zM56 49h1v1h-1zM19 50h1v1h-1zM31 50h1v1h-1zM45 50h1v1h-1zM1 53h1v1h-1zM35 54h1v1h-1zM6 55h1v1h-1zM15 57h1v1h-1zM8 58h1v1h-1zM63 58h1v1h-1zM29 59h1v1h-1zM38 59h1v1h-1zM44 59h1v1h-1zM9 61h1v1h-1zM16 61h1v1h-1zM31 61h1v1h-1zM25 63h1v1h-1z"/>
<path fill="#5a5a5a" d="M51 0h1v1h-1zM2 3h1v1h-1zM58 3h1v1h-1zM52 4h1v1h-1zM63 4h1v1h-1zM24 5h1v1h-1zM38 8h1v1h-1zM20 9h1v1h-1zM16 12h1v1h-1zM34 13h1v1h-1zM58 13h1v1h-1zM43 14h1v1h-1zM49 14h1v1h-1zM26 15h1v1h-1zM52 15h1v1h-1zM59 16h1v1h-1zM0 17h1v1h-1zM39 17h1v1h-1zM49 19h1v1h-1zM59 19h1v1h-1zM14 20h1v1h-1zM3 21h1v1h-1zM30 22h1v1h-1zM19 23h1v1h-1zM8 25h1v1h-1zM42 26h1v1h-1zM51 26h1v1h-1zM1 27h1v1h-1zM46 30h1v1h-1zM10 31h1v1h-1zM17 32h1v1h-1zM32 32h1v1h-1zM39 32h1v1h-1zM8 34h1v1h-1zM26 34h1v1h-1zM33 40h1v1h-1zM45 40h1v1h-1zM40 41h1v1h-1zM18 42h1v1h-1zM53 42h1v1h-1zM50 43h1v1h-1zM46 44h1v1h-1zM63 44h1v1h-1zM27 47h1v1h-1zM58 47h1v1h-1zM9 48h1v1h-1zM12 51h1v1h-1zM3 52h1v1h-1zM50 52h1v1h-1zM27 53h1v1h-1zM60 53h1v1h-1zM43 55h1v1h-1zM53 55h1v1h-1zM36 56h1v1h-1zM39 56h1v1h-1zM61 56h1v1h-1zM46 57h1v1h-1zM12 58h1v1h-1zM56 58h1v1h-1zM51 59h1v1h-1zM35 61h1v1h-1zM44 62h1v1h-1zM0 63h1v1h-1zM61 63h1v1h-1z"/>
<path fill="#5e5e5e" d="M48 0h1v1h-1zM54 0h1v1h-1zM40 1h1v1h-1zM44 1h1v1h-1zM8 2h1v1h-1zM30 2h1v1h-1zM12 5h1v1h-1zM31 5h1v1h-1zM37 5h1v1h-1zM6 6h1v1h-1zM43 7h1v1h-1zM9 8h1v1h-1zM58 8h1v1h-1zM2 9h1v1h-1zM15 9h1v1h-1zM42 11h1v1h-1zM9 12h1v1h-1zM31 13h1v1h-1zM2 15h1v1h-1zM21 17h1v1h-1zM52 18h1v1h-1zM28 20h1v1h-1zM44 20h1v1h-1zM25 21h1v1h-1zM52 22h1v1h-1zM17 26h1v1h-1zM30 26h1v1h-1zM34 26h1v1h-1zM47 26h1v1h-1zM39 28h1v1h-1zM59 28h1v1h-1zM14 29h1v1h-1zM42 31h1v1h-1zM63 31h1v1h-1zM6 32h1v1h-1zM22 32h1v1h-1zM35 33h1v1h-1zM49 33h1v1h-1zM41 35h1v1h-1zM59 35h1v1h-1zM23 36h1v1h-1zM18 37h1v1h-1zM0 38h1v1h-1zM31 38h1v1h-1zM59 38h1v1h-1zM23 41h1v1h-1zM10 44h1v1h-1zM38 45h1v1h-1zM32 47h1v1h-1zM49 47h1v1h-1zM43 49h1v1h-1zM1 50h1v1h-1zM22 50h1v1h-1zM39 50h1v1h-1zM42 52h1v1h-1zM21 54h1v1h-1zM3 55h1v1h-1zM32 57h1v1h-1zM17 58h1v1h-1zM3 59h1v1h-1zM23 59h1v1h-1zM10 63h1v1h-1zM32 63h1v1h-1zM37 63h1v1h-1z"/>
<path fill="#626262" d="M15 0h1v1h-1zM2 1h1v1h-1zM24 1h1v1h-1zM35 2h1v1h-1zM43 4h1v1h-1zM27 6h1v1h-1zM53 8h1v1h-1zM4 11h1v1h-1zM21 12h1v1h-1zM6 14h1v1h-1zM14 15h1v1h-1zM34 15h1v1h-1zM11 17h1v1h-1zM44 17h1v1h-1zM3 18h1v1h-1zM31 18h1v1h-1zM17 21h1v1h-1zM20 21h1v1h-1zM56 21h1v1h-1zM10 22h1v1h-1zM62 22h1v1h-1zM23 23h1v1h-1zM43 23h1v1h-1zM2 24h1v1h-1zM36 24h1v1h-1zM43 28h1v1h-1zM55 28h1v1h-1zM28 29h1v1h-1zM53 31h1v1h-1zM14 32h1v1h-1zM59 32h1v1h-1zM19 33h1v1h-1zM16 35h1v1h-1zM44 35h1v1h-1zM38 36h1v1h-1zM11 38h1v1h-1zM52 38h1v1h-1zM47 40h1v1h-1zM0 42h1v1h-1zM4 42h1v1h-1zM16 42h1v1h-1zM56 43h1v1h-1zM28 44h1v1h-1zM42 45h1v1h-1zM6 46h1v1h-1zM19 46h1v1h-1zM61 47h1v1h-1zM15 48h1v1h-1zM7 49h1v1h-1zM24 51h1v1h-1zM28 51h1v1h-1zM10 52h1v1h-1zM58 52h1v1h-1zM14 54h1v1h-1zM25 54h1v1h-1zM57 55h1v1h-1zM20 57h1v1h-1zM27 57h1v1h-1zM53 58h1v1h-1zM14 60h1v1h-1zM19 60h1v1h-1zM57 61h1v1h-1zM50 62h1v1h-1zM22 63h1v1h-1z"/>
<path fill="#666666" d="M48 2h1v1h-1zM14 3h1v1h-1zM19 4h1v1h-1zM61 4h1v1h-1zM49 6h1v1h-1zM3 7h1v1h-1zM63 7h1v1h-1zM23 8h1v1h-1zM28 9h1v1h-1zM50 9h1v1h-1zM19 11h1v1h-1zM53 11h1v1h-1zM41 16h1v1h-1zM57 16h1v1h-1zM5 17h1v1h-1zM26 17h1v1h-1zM15 18h1v1h-1zM54 19h1v1h-1zM35 20h1v1h-1zM14 22h1v1h-1zM50 22h1v1h-1zM33 23h1v1h-1zM6 25h1v1h-1zM56 25h1v1h-1zM19 26h1v1h-1zM59 26h1v1h-1zM7 29h1v1h-1zM11 29h1v1h-1zM25 30h1v1h-1zM4 31h1v1h-1zM30 31h1v1h-1zM46 33h1v1h-1zM29 35h1v1h-1zM48 36h1v1h-1zM61 36h1v1h-1zM28 38h1v1h-1zM3 39h1v1h-1zM43 39h1v1h-1zM35 41h1v1h-1zM12 42h1v1h-1zM20 42h1v1h-1zM43 42h1v1h-1zM33 44h1v1h-1zM23 46h1v1h-1zM47 47h1v1h-1zM4 49h1v1h-1zM50 49h1v1h-1zM33 50h1v1h-1zM6 52h1v1h-1zM20 52h1v1h-1zM52 52h1v1h-1zM55 52h1v1h-1zM16 53h1v1h-1zM44 53h1v1h-1zM39 54h1v1h-1zM47 54h1v1h-1zM51 55h1v1h-1zM1 58h1v1h-1zM49 58h1v1h-1zM42 59h1v1h-1zM60 60h1v1h-1zM27 61h1v1h-1zM42 62h1v1h-1zM8 63h1v1h-1z"/>
<path fill="#6a6a6a" d="M28 0h1v1h-1zM13 1h1v1h-1zM58 1h1v1h-1zM5 2h1v1h-1zM51 2h1v1h-1zM27 3h1v1h-1zM16 5h1v1h-1zM33 6h1v1h-1zM20 7h1v1h-1zM11 8h1v1h-1zM40 8h1v1h-1zM60 8h1v1h-1zM38 10h1v1h-1zM62 10h1v1h-1zM23 11h1v1h-1zM30 11h1v1h-1zM33 11h1v1h-1zM14 12h1v1h-1zM9 14h1v1h-1zM38 14h1v1h-1zM62 14h1v1h-1zM21 15h1v1h-1zM45 15h1v1h-1zM8 17h1v1h-1zM23 18h1v1h-1zM61 19h1v1h-1zM12 20h1v1h-1zM5 21h1v1h-1zM42 21h1v1h-1zM39 22h1v1h-1zM60 22h1v1h-1zM26 25h1v1h-1zM23 26h1v1h-1zM49 26h1v1h-1zM63 27h1v1h-1zM17 29h1v1h-1zM36 30h1v1h-1zM58 30h1v1h-1zM1 31h1v1h-1zM10 33h1v1h-1zM37 33h1v1h-1zM55 34h1v1h-1zM55 38h1v1h-1zM9 39h1v1h-1zM5 40h1v1h-1zM18 40h1v1h-1zM58 41h1v1h-1zM26 42h1v1h-1zM31 43h1v1h-1zM50 45h1v1h-1zM53 47h1v1h-1zM12 48h1v1h-1zM25 48h1v1h-1zM39 48h1v1h-1zM35 49h1v1h-1zM17 50h1v1h-1zM47 50h1v1h-1zM19 55h1v1h-1zM28 55h1v1h-1zM9 56h1v1h-1zM59 56h1v1h-1zM36 58h1v1h-1zM31 59h1v1h-1zM2 62h1v1h-1z"/>
<path fill="#6e6e6e" d="M21 1h1v1h-1zM18 2h1v1h-1zM62 2h1v1h-1zM39 3h1v1h-1zM9 4h1v1h-1zM47 4h1v1h-1zM22 5h1v1h-1zM52 6h1v1h-1zM47 8h1v1h-1zM7 10h1v1h-1zM25 10h1v1h-1zM57 11h1v1h-1zM50 12h1v1h-1zM25 13h1v1h-1zM55 14h1v1h-1zM29 16h1v1h-1zM46 19h1v1h-1zM1 20h1v1h-1zM28 23h1v1h-1zM31 24h1v1h-1zM53 25h1v1h-1zM13 27h1v1h-1zM28 27h1v1h-1zM32 28h1v1h-1zM3 29h1v1h-1zM48 29h1v1h-1zM20 30h1v1h-1zM61 30h1v1h-1zM27 32h1v1h-1zM51 34h1v1h-1zM4 35h1v1h-1zM33 35h1v1h-1zM1 36h1v1h-1zM8 36h1v1h-1zM20 36h1v1h-1zM25 37h1v1h-1zM22 38h1v1h-1zM37 38h1v1h-1zM40 38h1v1h-1zM15 40h1v1h-1zM61 40h1v1h-1zM55 41h1v1h-1zM38 42h1v1h-1zM8 43h1v1h-1zM22 44h1v1h-1zM36 44h1v1h-1zM3 45h1v1h-1zM16 46h1v1h-1zM45 46h1v1h-1zM30 47h1v1h-1zM19 48h1v1h-1zM22 48h1v1h-1zM33 53h1v1h-1zM0 55h1v1h-1zM12 55h1v1h-1zM5 58h1v1h-1zM11 60h1v1h-1zM25 60h1v1h-1zM47 60h1v1h-1zM6 61h1v1h-1zM39 61h1v1h-1zM63 61h1v1h-1zM18 62h1v1h-1zM35 63h1v1h-1z"/>
<path fill="#727272" d="M4 0h1v1h-1zM42 0h1v1h-1zM55 1h1v1h-1zM31 3h1v1h-1zM54 4h1v1h-1zM35 5h1v1h-1zM59 5h1v1h-1zM10 6h1v1h-1zM14 7h1v1h-1zM30 8h1v1h-1zM35 9h1v1h-1zM44 9h1v1h-1zM55 9h1v1h-1zM11 11h1v1h-1zM44 12h1v1h-1zM60 12h1v1h-1zM2 13h1v1h-1zM28 13h1v1h-1zM32 16h1v1h-1zM36 16h1v1h-1zM62 16h1v1h-1zM50 17h1v1h-1zM19 19h1v1h-1zM39 19h1v1h-1zM17 23h1v1h-1zM57 23h1v1h-1zM21 24h1v1h-1zM46 24h1v1h-1zM10 25h1v1h-1zM39 26h1v1h-1zM23 29h1v1h-1zM44 30h1v1h-1zM8 31h1v1h-1zM33 31h1v1h-1zM41 33h1v1h-1zM22 34h1v1h-1zM12 35h1v1h-1zM57 36h1v1h-1zM14 37h1v1h-1zM34 37h1v1h-1zM21 40h1v1h-1zM51 41h1v1h-1zM48 43h1v1h-1zM25 44h1v1h-1zM53 45h1v1h-1zM0 46h1v1h-1zM12 46h1v1h-1zM35 46h1v1h-1zM40 46h1v1h-1zM56 47h1v1h-1zM2 48h1v1h-1zM62 50h1v1h-1zM38 51h1v1h-1zM13 52h1v1h-1zM62 53h1v1h-1zM24 56h1v1h-1zM34 56h1v1h-1zM44 57h1v1h-1zM39 58h1v1h-1zM55 60h1v1h-1zM53 62h1v1h-1zM30 63h1v1h-1zM46 63h1v1h-1zM59 63h1v1h-1z"/>
<path fill="#767676" d="M38 0h1v1h-1zM11 1h1v1h-1zM45 2h1v1h-1zM24 3h1v1h-1zM6 4h1v1h-1zM1 6h1v1h-1zM25 6h1v1h-1zM44 6h1v1h-1zM6 8h1v1h-1zM6 12h1v1h-1zM19 14h1v1h-1zM51 14h1v1h-1zM54 16h1v1h-1zM13 17h1v1h-1zM17 17h1v1h-1zM42 19h1v1h-1zM24 20h1v1h-1zM58 20h1v1h-1zM36 21h1v1h-1zM47 22h1v1h-1zM54 23h1v1h-1zM42 24h1v1h-1zM15 25h1v1h-1zM61 25h1v1h-1zM8 27h1v1h-1zM50 28h1v1h-1zM39 30h1v1h-1zM57 33h1v1h-1zM62 33h1v1h-1zM24 34h1v1h-1zM39 35h1v1h-1zM6 36h1v1h-1zM42 36h1v1h-1zM50 36h1v1h-1zM12 39h1v1h-1zM1 40h1v1h-1zM25 40h1v1h-1zM7 41h1v1h-1zM29 41h1v1h-1zM62 42h1v1h-1zM5 43h1v1h-1zM41 43h1v1h-1zM17 44h1v1h-1zM57 45h1v1h-1zM61 45h1v1h-1zM43 47h1v1h-1zM59 48h1v1h-1zM54 49h1v1h-1zM26 50h1v1h-1zM42 50h1v1h-1zM8 51h1v1h-1zM59 51h1v1h-1zM35 52h1v1h-1zM40 53h1v1h-1zM8 54h1v1h-1zM22 55h1v1h-1zM31 55h1v1h-1zM6 56h1v1h-1zM16 56h1v1h-1zM48 56h1v1h-1zM13 57h1v1h-1zM61 58h1v1h-1zM9 59h1v1h-1zM33 61h1v1h-1z"/>
<path fill="#7a7a7a" d="M33 1h1v1h-1zM37 3h1v1h-1zM3 4h1v1h-1zM29 5h1v1h-1zM56 6h1v1h-1zM36 7h1v1h-1zM17 9h1v1h-1zM59 10h1v1h-1zM40 12h1v1h-1zM36 13h1v1h-1zM47 13h1v1h-1zM30 14h1v1h-1zM0 15h1v1h-1zM60 15h1v1h-1zM46 17h1v1h-1zM1 18h1v1h-1zM6 19h1v1h-1zM10 19h1v1h-1zM27 19h1v1h-1zM51 20h1v1h-1zM32 21h1v1h-1zM6 22h1v1h-1zM0 23h1v1h-1zM3 25h1v1h-1zM32 26h1v1h-1zM52 27h1v1h-1zM20 28h1v1h-1zM61 28h1v1h-1zM12 31h1v1h-1zM51 31h1v1h-1zM15 32h1v1h-1zM45 37h1v1h-1zM31 39h1v1h-1zM49 39h1v1h-1zM57 39h1v1h-1zM53 40h1v1h-1zM46 41h1v1h-1zM2 43h1v1h-1zM60 43h1v1h-1zM44 44h1v1h-1zM8 45h1v1h-1zM27 45h1v1h-1zM10 47h1v1h-1zM28 48h1v1h-1zM10 50h1v1h-1zM13 50h1v1h-1zM31 52h1v1h-1zM45 52h1v1h-1zM3 53h1v1h-1zM49 53h1v1h-1zM37 54h1v1h-1zM55 54h1v1h-1zM41 55h1v1h-1zM45 55h1v1h-1zM54 57h1v1h-1zM26 58h1v1h-1zM58 58h1v1h-1zM37 60h1v1h-1zM45 60h1v1h-1zM23 61h1v1h-1zM51 61h1v1h-1zM14 62h1v1h-1zM20 63h1v1h-1zM57 63h1v1h-1z"/>
<path fill="#7e7e7e" d="M7 0h1v1h-1zM0 1h1v1h-1zM16 1h1v1h-1zM28 2h1v1h-1zM41 4h1v1h-1zM18 6h1v1h-1zM39 6h1v1h-1zM26 8h1v1h-1zM21 9h1v1h-1zM32 9h1v1h-1zM0 10h1v1h-1zM46 11h1v1h-1zM4 14h1v1h-1zM42 14h1v1h-1zM16 15h1v1h-1zM24 15h1v1h-1zM48 16h1v1h-1zM33 18h1v1h-1zM9 21h1v1h-1zM37 24h1v1h-1zM35 26h1v1h-1zM45 26h1v1h-1zM4 28h1v1h-1zM15 28h1v1h-1zM30 29h1v1h-1zM41 29h1v1h-1zM56 29h1v1h-1zM46 31h1v1h-1zM5 33h1v1h-1zM30 33h1v1h-1zM44 33h1v1h-1zM53 33h1v1h-1zM2 34h1v1h-1zM48 34h1v1h-1zM17 35h1v1h-1zM30 36h1v1h-1zM53 37h1v1h-1zM19 38h1v1h-1zM62 38h1v1h-1zM41 40h1v1h-1zM10 42h1v1h-1zM33 42h1v1h-1zM14 43h1v1h-1zM23 43h1v1h-1zM30 44h1v1h-1zM14 47h1v1h-1zM38 47h1v1h-1zM63 48h1v1h-1zM45 49h1v1h-1zM51 49h1v1h-1zM56 50h1v1h-1zM0 51h1v1h-1zM18 52h1v1h-1zM24 53h1v1h-1zM28 53h1v1h-1zM58 54h1v1h-1zM2 56h1v1h-1zM63 57h1v1h-1zM29 58h1v1h-1zM41 58h1v1h-1zM15 59h1v1h-1zM21 59h1v1h-1zM34 59h1v1h-1zM26 63h1v1h-1z"/>
<path fill="#818181" d="M52 0h1v1h-1zM62 0h1v1h-1zM60 2h1v1h-1zM57 4h1v1h-1zM8 5h1v1h-1zM4 6h1v1h-1zM12 6h1v1h-1zM13 9h1v1h-1zM42 9h1v1h-1zM2 10h1v1h-1zM5 10h1v1h-1zM16 11h1v1h-1zM36 11h1v1h-1zM52 12h1v1h-1zM12 13h1v1h-1zM20 17h1v1h-1zM38 17h1v1h-1zM59 18h1v1h-1zM29 20h1v1h-1zM49 20h1v1h-1zM63 20h1v1h-1zM40 21h1v1h-1zM45 21h1v1h-1zM53 21h1v1h-1zM15 22h1v1h-1zM4 23h1v1h-1zM25 23h1v1h-1zM34 23h1v1h-1zM11 24h1v1h-1zM58 24h1v1h-1zM0 25h1v1h-1zM11 28h1v1h-1zM26 28h1v1h-1zM37 28h1v1h-1zM47 28h1v1h-1zM1 29h1v1h-1zM53 29h1v1h-1zM20 32h1v1h-1zM55 32h1v1h-1zM35 34h1v1h-1zM9 35h1v1h-1zM26 35h1v1h-1zM63 35h1v1h-1zM7 38h1v1h-1zM16 38h1v1h-1zM47 45h1v1h-1zM31 46h1v1h-1zM51 46h1v1h-1zM7 48h1v1h-1zM36 48h1v1h-1zM31 49h1v1h-1zM4 51h1v1h-1zM15 51h1v1h-1zM11 54h1v1h-1zM17 54h1v1h-1zM61 55h1v1h-1zM50 57h1v1h-1zM18 58h1v1h-1zM46 58h1v1h-1zM6 59h1v1h-1zM48 61h1v1h-1zM61 61h1v1h-1zM5 62h1v1h-1zM12 62h1v1h-1z"/>
<path fill="#858585" d="M49 0h1v1h-1zM25 1h1v1h-1zM0 3h1v1h-1zM21 3h1v1h-1zM50 3h1v1h-1zM17 4h1v1h-1zM46 5h1v1h-1zM41 7h1v1h-1zM50 7h1v1h-1zM54 7h1v1h-1zM9 9h1v1h-1zM26 11h1v1h-1zM0 13h1v1h-1zM33 13h1v1h-1zM57 13h1v1h-1zM9 15h1v1h-1zM6 16h1v1h-1zM28 16h1v1h-1zM25 18h1v1h-1zM35 18h1v1h-1zM56 18h1v1h-1zM21 20h1v1h-1zM18 21h1v1h-1zM12 22h1v1h-1zM44 23h1v1h-1zM49 23h1v1h-1zM52 24h1v1h-1zM19 25h1v1h-1zM29 25h1v1h-1zM5 26h1v1h-1zM55 26h1v1h-1zM2 27h1v1h-1zM41 27h1v1h-1zM34 28h1v1h-1zM17 31h1v1h-1zM49 31h1v1h-1zM20 34h1v1h-1zM32 34h1v1h-1zM59 34h1v1h-1zM14 35h1v1h-1zM60 37h1v1h-1zM24 38h1v1h-1zM33 39h1v1h-1zM46 39h1v1h-1zM39 40h1v1h-1zM59 40h1v1h-1zM57 42h1v1h-1zM53 43h1v1h-1zM0 44h1v1h-1zM11 44h1v1h-1zM20 45h1v1h-1zM4 46h1v1h-1zM55 46h1v1h-1zM22 51h1v1h-1zM26 52h1v1h-1zM52 53h1v1h-1zM7 57h1v1h-1zM23 57h1v1h-1zM38 57h1v1h-1zM11 58h1v1h-1zM1 60h1v1h-1zM41 60h1v1h-1zM16 62h1v1h-1zM40 63h1v1h-1z"/>
<path fill="#898989" d="M36 1h1v1h-1zM9 2h1v1h-1zM41 2h1v1h-1zM33 3h1v1h-1zM44 3h1v1h-1zM14 4h1v1h-1zM61 6h1v1h-1zM58 7h1v1h-1zM16 8h1v1h-1zM30 10h1v1h-1zM50 10h1v1h-1zM56 10h1v1h-1zM9 11h1v1h-1zM18 12h1v1h-1zM61 12h1v1h-1zM21 13h1v1h-1zM54 13h1v1h-1zM40 15h1v1h-1zM11 16h1v1h-1zM43 17h1v1h-1zM52 17h1v1h-1zM62 17h1v1h-1zM30 18h1v1h-1zM48 18h1v1h-1zM2 21h1v1h-1zM13 26h1v1h-1zM23 27h1v1h-1zM44 28h1v1h-1zM6 30h1v1h-1zM23 30h1v1h-1zM34 31h1v1h-1zM61 31h1v1h-1zM41 32h1v1h-1zM11 33h1v1h-1zM38 33h1v1h-1zM56 36h1v1h-1zM2 38h1v1h-1zM43 38h1v1h-1zM27 39h1v1h-1zM36 39h1v1h-1zM10 40h1v1h-1zM14 40h1v1h-1zM45 42h1v1h-1zM35 43h1v1h-1zM51 43h1v1h-1zM38 44h1v1h-1zM17 47h1v1h-1zM34 47h1v1h-1zM47 48h1v1h-1zM20 50h1v1h-1zM41 50h1v1h-1zM29 51h1v1h-1zM33 51h1v1h-1zM49 51h1v1h-1zM60 52h1v1h-1zM1 54h1v1h-1zM5 55h1v1h-1zM29 55h1v1h-1zM3 58h1v1h-1zM53 59h1v1h-1zM8 61h1v1h-1zM30 61h1v1h-1zM44 61h1v1h-1zM56 62h1v1h-1z"/>
<path fill="#8d8d8d" d="M1 0h1v1h-1zM23 0h1v1h-1zM31 0h1v1h-1zM44 0h1v1h-1zM6 1h1v1h-1zM18 1h1v1h-1zM54 2h1v1h-1zM11 4h1v1h-1zM8 7h1v1h-1zM29 7h1v1h-1zM33 7h1v1h-1zM4 8h1v1h-1zM24 8h1v1h-1zM46 9h1v1h-1zM53 10h1v1h-1zM3 12h1v1h-1zM24 12h1v1h-1zM43 12h1v1h-1zM49 13h1v1h-1zM26 14h1v1h-1zM45 14h1v1h-1zM56 15h1v1h-1zM4 19h1v1h-1zM13 19h1v1h-1zM57 20h1v1h-1zM26 21h1v1h-1zM20 22h1v1h-1zM31 22h1v1h-1zM62 23h1v1h-1zM41 24h1v1h-1zM9 29h1v1h-1zM14 30h1v1h-1zM63 30h1v1h-1zM24 32h1v1h-1zM7 34h1v1h-1zM52 35h1v1h-1zM5 37h1v1h-1zM11 37h1v1h-1zM29 38h1v1h-1zM51 39h1v1h-1zM19 40h1v1h-1zM22 40h1v1h-1zM2 41h1v1h-1zM48 41h1v1h-1zM20 43h1v1h-1zM15 45h1v1h-1zM41 46h1v1h-1zM59 46h1v1h-1zM58 49h1v1h-1zM52 50h1v1h-1zM37 51h1v1h-1zM7 53h1v1h-1zM47 53h1v1h-1zM34 54h1v1h-1zM21 56h1v1h-1zM53 56h1v1h-1zM33 57h1v1h-1zM56 57h1v1h-1zM62 59h1v1h-1zM18 60h1v1h-1zM27 60h1v1h-1zM58 61h1v1h-1zM10 62h1v1h-1zM34 63h1v1h-1z"/>
<path fill="#919191" d="M4 3h1v1h-1zM7 3h1v1h-1zM35 4h1v1h-1zM49 5h1v1h-1zM54 5h1v1h-1zM63 5h1v1h-1zM22 6h1v1h-1zM45 7h1v1h-1zM19 9h1v1h-1zM62 9h1v1h-1zM39 10h1v1h-1zM48 11h1v1h-1zM8 13h1v1h-1zM16 13h1v1h-1zM2 16h1v1h-1zM34 16h1v1h-1zM23 17h1v1h-1zM8 18h1v1h-1zM54 18h1v1h-1zM17 19h1v1h-1zM55 23h1v1h-1zM6 24h1v1h-1zM17 24h1v1h-1zM33 25h1v1h-1zM47 25h1v1h-1zM43 26h1v1h-1zM58 28h1v1h-1zM32 29h1v1h-1zM51 29h1v1h-1zM27 31h1v1h-1zM43 31h1v1h-1zM1 32h1v1h-1zM8 32h1v1h-1zM13 33h1v1h-1zM17 33h1v1h-1zM61 34h1v1h-1zM3 36h1v1h-1zM35 37h1v1h-1zM38 37h1v1h-1zM41 37h1v1h-1zM58 37h1v1h-1zM13 38h1v1h-1zM56 40h1v1h-1zM27 42h1v1h-1zM6 43h1v1h-1zM16 43h1v1h-1zM40 43h1v1h-1zM55 43h1v1h-1zM62 45h1v1h-1zM23 47h1v1h-1zM1 49h1v1h-1zM41 52h1v1h-1zM13 53h1v1h-1zM63 53h1v1h-1zM50 54h1v1h-1zM31 58h1v1h-1zM48 58h1v1h-1zM24 59h1v1h-1zM4 60h1v1h-1zM13 60h1v1h-1zM20 61h1v1h-1zM0 62h1v1h-1zM38 62h1v1h-1zM47 63h1v1h-1z"/>
<path fill="#959595" d="M13 2h1v1h-1zM57 2h1v1h-1zM47 3h1v1h-1zM29 4h1v1h-1zM2 5h1v1h-1zM26 5h1v1h-1zM38 5h1v1h-1zM42 5h1v1h-1zM0 7h1v1h-1zM27 9h1v1h-1zM58 9h1v1h-1zM35 10h1v1h-1zM14 11h1v1h-1zM29 13h1v1h-1zM23 14h1v1h-1zM37 14h1v1h-1zM53 15h1v1h-1zM15 16h1v1h-1zM41 19h1v1h-1zM37 21h1v1h-1zM60 21h1v1h-1zM23 22h1v1h-1zM8 23h1v1h-1zM39 23h1v1h-1zM59 25h1v1h-1zM26 26h1v1h-1zM38 26h1v1h-1zM7 27h1v1h-1zM21 27h1v1h-1zM62 27h1v1h-1zM18 28h1v1h-1zM36 31h1v1h-1zM58 31h1v1h-1zM50 33h1v1h-1zM45 34h1v1h-1zM27 36h1v1h-1zM22 37h1v1h-1zM48 37h1v1h-1zM54 38h1v1h-1zM62 40h1v1h-1zM43 41h1v1h-1zM59 43h1v1h-1zM18 45h1v1h-1zM33 45h1v1h-1zM8 46h1v1h-1zM2 47h1v1h-1zM26 47h1v1h-1zM44 47h1v1h-1zM20 48h1v1h-1zM62 48h1v1h-1zM10 49h1v1h-1zM5 50h1v1h-1zM16 50h1v1h-1zM19 53h1v1h-1zM56 53h1v1h-1zM25 55h1v1h-1zM10 56h1v1h-1zM43 56h1v1h-1zM36 57h1v1h-1zM59 58h1v1h-1zM50 60h1v1h-1zM3 62h1v1h-1zM54 62h1v1h-1zM60 63h1v1h-1z"/>
<path fill="#999999" d="M20 0h1v1h-1zM3 1h1v1h-1zM38 1h1v1h-1zM23 3h1v1h-1zM32 5h1v1h-1zM52 5h1v1h-1zM37 8h1v1h-1zM48 8h1v1h-1zM52 8h1v1h-1zM22 11h1v1h-1zM32 11h1v1h-1zM39 13h1v1h-1zM19 16h1v1h-1zM50 16h1v1h-1zM58 16h1v1h-1zM28 18h1v1h-1zM37 18h1v1h-1zM7 20h1v1h-1zM29 23h1v1h-1zM1 24h1v1h-1zM22 24h1v1h-1zM16 26h1v1h-1zM50 26h1v1h-1zM30 30h1v1h-1zM3 31h1v1h-1zM39 31h1v1h-1zM28 33h1v1h-1zM24 35h1v1h-1zM36 35h1v1h-1zM18 36h1v1h-1zM44 36h1v1h-1zM32 37h1v1h-1zM51 37h1v1h-1zM63 37h1v1h-1zM6 40h1v1h-1zM32 41h1v1h-1zM36 41h1v1h-1zM13 42h1v1h-1zM23 42h1v1h-1zM3 44h1v1h-1zM12 45h1v1h-1zM25 45h1v1h-1zM29 45h1v1h-1zM49 45h1v1h-1zM29 48h1v1h-1zM54 48h1v1h-1zM13 49h1v1h-1zM25 49h1v1h-1zM39 49h1v1h-1zM45 51h1v1h-1zM55 51h1v1h-1zM1 52h1v1h-1zM5 53h1v1h-1zM10 53h1v1h-1zM23 53h1v1h-1zM43 53h1v1h-1zM15 54h1v1h-1zM36 54h1v1h-1zM14 57h1v1h-1zM19 57h1v1h-1zM28 57h1v1h-1zM35 60h1v1h-1zM25 62h1v1h-1zM28 63h1v1h-1z"/>
<path fill="#9d9d9d" d="M10 0h1v1h-1zM14 0h1v1h-1zM42 1h1v1h-1zM26 2h1v1h-1zM52 2h1v1h-1zM19 3h1v1h-1zM60 3h1v1h-1zM5 5h1v1h-1zM15 7h1v1h-1zM19 7h1v1h-1zM11 9h1v1h-1zM41 11h1v1h-1zM55 12h1v1h-1zM63 12h1v1h-1zM11 13h1v1h-1zM4 15h1v1h-1zM13 15h1v1h-1zM32 15h1v1h-1zM10 18h1v1h-1zM22 19h1v1h-1zM15 20h1v1h-1zM34 20h1v1h-1zM46 20h1v1h-1zM54 20h1v1h-1zM43 21h1v1h-1zM63 21h1v1h-1zM35 23h1v1h-1zM14 24h1v1h-1zM9 25h1v1h-1zM29 27h1v1h-1zM54 28h1v1h-1zM25 29h1v1h-1zM46 29h1v1h-1zM11 30h1v1h-1zM19 30h1v1h-1zM22 31h1v1h-1zM56 31h1v1h-1zM5 34h1v1h-1zM54 34h1v1h-1zM40 35h1v1h-1zM47 35h1v1h-1zM9 38h1v1h-1zM17 40h1v1h-1zM4 41h1v1h-1zM8 41h1v1h-1zM29 42h1v1h-1zM63 42h1v1h-1zM45 44h1v1h-1zM37 46h1v1h-1zM6 47h1v1h-1zM49 48h1v1h-1zM60 49h1v1h-1zM35 50h1v1h-1zM31 54h1v1h-1zM18 55h1v1h-1zM39 55h1v1h-1zM47 55h1v1h-1zM51 56h1v1h-1zM1 57h1v1h-1zM4 57h1v1h-1zM44 58h1v1h-1zM32 61h1v1h-1zM42 61h1v1h-1zM50 63h1v1h-1z"/>
<path fill="#a1a1a1" d="M57 0h1v1h-1zM30 1h1v1h-1zM47 1h1v1h-1zM16 2h1v1h-1zM58 5h1v1h-1zM2 8h1v1h-1zM55 8h1v1h-1zM22 9h1v1h-1zM5 12h1v1h-1zM58 12h1v1h-1zM18 14h1v1h-1zM60 14h1v1h-1zM48 15h1v1h-1zM41 17h1v1h-1zM45 17h1v1h-1zM60 17h1v1h-1zM32 18h1v1h-1zM63 18h1v1h-1zM51 19h1v1h-1zM11 21h1v1h-1zM49 21h1v1h-1zM57 22h1v1h-1zM3 23h1v1h-1zM27 23h1v1h-1zM24 24h1v1h-1zM50 24h1v1h-1zM5 28h1v1h-1zM38 28h1v1h-1zM16 29h1v1h-1zM35 29h1v1h-1zM52 31h1v1h-1zM31 32h1v1h-1zM46 32h1v1h-1zM43 34h1v1h-1zM57 34h1v1h-1zM0 35h1v1h-1zM11 35h1v1h-1zM15 35h1v1h-1zM20 37h1v1h-1zM0 39h1v1h-1zM25 39h1v1h-1zM44 39h1v1h-1zM60 39h1v1h-1zM38 41h1v1h-1zM42 44h1v1h-1zM22 45h1v1h-1zM52 47h1v1h-1zM32 48h1v1h-1zM42 48h1v1h-1zM57 48h1v1h-1zM23 49h1v1h-1zM8 50h1v1h-1zM18 50h1v1h-1zM27 50h1v1h-1zM11 51h1v1h-1zM60 54h1v1h-1zM8 55h1v1h-1zM55 55h1v1h-1zM63 56h1v1h-1zM41 57h1v1h-1zM16 58h1v1h-1zM54 60h1v1h-1zM7 62h1v1h-1zM22 62h1v1h-1z"/>
<path fill="#a5a5a5" d="M34 1h1v1h-1zM49 2h1v1h-1zM44 5h1v1h-1zM12 7h1v1h-1zM27 7h1v1h-1zM35 7h1v1h-1zM39 8h1v1h-1zM7 11h1v1h-1zM20 11h1v1h-1zM52 13h1v1h-1zM44 15h1v1h-1zM8 16h1v1h-1zM26 16h1v1h-1zM37 16h1v1h-1zM2 18h1v1h-1zM20 19h1v1h-1zM30 20h1v1h-1zM4 21h1v1h-1zM47 23h1v1h-1zM60 23h1v1h-1zM45 25h1v1h-1zM62 25h1v1h-1zM36 26h1v1h-1zM53 26h1v1h-1zM0 27h1v1h-1zM11 27h1v1h-1zM57 27h1v1h-1zM42 29h1v1h-1zM48 30h1v1h-1zM5 31h1v1h-1zM60 32h1v1h-1zM63 32h1v1h-1zM3 33h1v1h-1zM26 33h1v1h-1zM33 33h1v1h-1zM22 35h1v1h-1zM4 39h1v1h-1zM48 39h1v1h-1zM34 41h1v1h-1zM25 42h1v1h-1zM49 43h1v1h-1zM9 44h1v1h-1zM1 45h1v1h-1zM6 45h1v1h-1zM54 45h1v1h-1zM4 48h1v1h-1zM16 48h1v1h-1zM63 50h1v1h-1zM31 51h1v1h-1zM47 51h1v1h-1zM53 51h1v1h-1zM21 53h1v1h-1zM3 54h1v1h-1zM53 54h1v1h-1zM27 55h1v1h-1zM58 56h1v1h-1zM10 58h1v1h-1zM51 58h1v1h-1zM22 59h1v1h-1zM56 59h1v1h-1zM63 60h1v1h-1zM52 61h1v1h-1zM5 63h1v1h-1zM17 63h1v1h-1z"/>
<path fill="#a9a9a9" d="M53 0h1v1h-1zM62 1h1v1h-1zM11 2h1v1h-1zM1 3h1v1h-1zM40 3h1v1h-1zM15 5h1v1h-1zM21 5h1v1h-1zM7 6h1v1h-1zM60 7h1v1h-1zM32 8h1v1h-1zM0 9h1v1h-1zM6 9h1v1h-1zM37 10h1v1h-1zM43 10h1v1h-1zM29 11h1v1h-1zM14 13h1v1h-1zM35 13h1v1h-1zM2 14h1v1h-1zM0 16h1v1h-1zM21 16h1v1h-1zM4 17h1v1h-1zM25 19h1v1h-1zM44 19h1v1h-1zM39 20h1v1h-1zM51 22h1v1h-1zM10 23h1v1h-1zM12 25h1v1h-1zM20 25h1v1h-1zM40 25h1v1h-1zM31 26h1v1h-1zM60 28h1v1h-1zM21 29h1v1h-1zM28 30h1v1h-1zM48 32h1v1h-1zM19 34h1v1h-1zM54 36h1v1h-1zM1 37h1v1h-1zM17 38h1v1h-1zM30 39h1v1h-1zM39 39h1v1h-1zM12 40h1v1h-1zM15 41h1v1h-1zM50 41h1v1h-1zM53 41h1v1h-1zM11 42h1v1h-1zM19 42h1v1h-1zM37 43h1v1h-1zM57 44h1v1h-1zM35 45h1v1h-1zM10 46h1v1h-1zM3 51h1v1h-1zM16 52h1v1h-1zM38 52h1v1h-1zM29 53h1v1h-1zM58 53h1v1h-1zM12 56h1v1h-1zM25 58h1v1h-1zM8 59h1v1h-1zM37 59h1v1h-1zM47 59h1v1h-1zM29 60h1v1h-1zM59 60h1v1h-1zM40 61h1v1h-1zM12 63h1v1h-1z"/>
<path fill="#adadad" d="M22 2h1v1h-1zM37 2h1v1h-1zM32 3h1v1h-1zM56 3h1v1h-1zM24 4h1v1h-1zM10 5h1v1h-1zM47 7h1v1h-1zM24 9h1v1h-1zM15 10h1v1h-1zM2 11h1v1h-1zM12 11h1v1h-1zM51 11h1v1h-1zM60 11h1v1h-1zM46 12h1v1h-1zM27 13h1v1h-1zM41 14h1v1h-1zM6 15h1v1h-1zM30 15h1v1h-1zM16 17h1v1h-1zM57 17h1v1h-1zM6 18h1v1h-1zM14 18h1v1h-1zM61 20h1v1h-1zM16 22h1v1h-1zM31 23h1v1h-1zM56 24h1v1h-1zM3 26h1v1h-1zM24 26h1v1h-1zM49 27h1v1h-1zM14 28h1v1h-1zM2 29h1v1h-1zM8 29h1v1h-1zM54 31h1v1h-1zM10 32h1v1h-1zM39 34h1v1h-1zM31 35h1v1h-1zM60 35h1v1h-1zM34 36h1v1h-1zM7 37h1v1h-1zM46 38h1v1h-1zM41 41h1v1h-1zM1 42h1v1h-1zM60 42h1v1h-1zM27 44h1v1h-1zM32 44h1v1h-1zM47 44h1v1h-1zM52 44h1v1h-1zM13 46h1v1h-1zM20 46h1v1h-1zM46 48h1v1h-1zM43 50h1v1h-1zM50 51h1v1h-1zM58 51h1v1h-1zM25 52h1v1h-1zM34 52h1v1h-1zM44 54h1v1h-1zM32 55h1v1h-1zM34 57h1v1h-1zM61 57h1v1h-1zM2 59h1v1h-1zM12 60h1v1h-1zM15 61h1v1h-1zM36 63h1v1h-1zM45 63h1v1h-1z"/>
<path fill="#b1b1b1" d="M8 0h1v1h-1zM40 0h1v1h-1zM28 1h1v1h-1zM59 1h1v1h-1zM45 3h1v1h-1zM27 4h1v1h-1zM62 4h1v1h-1zM17 6h1v1h-1zM42 7h1v1h-1zM57 7h1v1h-1zM29 8h1v1h-1zM45 9h1v1h-1zM18 11h1v1h-1zM31 12h1v1h-1zM20 14h1v1h-1zM63 14h1v1h-1zM39 16h1v1h-1zM36 19h1v1h-1zM47 19h1v1h-1zM56 20h1v1h-1zM1 21h1v1h-1zM8 21h1v1h-1zM28 21h1v1h-1zM33 21h1v1h-1zM41 21h1v1h-1zM13 22h1v1h-1zM18 23h1v1h-1zM37 23h1v1h-1zM27 25h1v1h-1zM46 27h1v1h-1zM40 28h1v1h-1zM63 29h1v1h-1zM33 30h1v1h-1zM59 30h1v1h-1zM15 31h1v1h-1zM36 33h1v1h-1zM50 35h1v1h-1zM9 36h1v1h-1zM25 36h1v1h-1zM29 36h1v1h-1zM15 37h1v1h-1zM41 38h1v1h-1zM56 38h1v1h-1zM20 39h1v1h-1zM28 40h1v1h-1zM39 45h1v1h-1zM28 46h1v1h-1zM58 46h1v1h-1zM63 46h1v1h-1zM40 48h1v1h-1zM34 49h1v1h-1zM9 52h1v1h-1zM61 52h1v1h-1zM42 55h1v1h-1zM17 56h1v1h-1zM37 56h1v1h-1zM46 56h1v1h-1zM30 57h1v1h-1zM18 61h1v1h-1zM24 61h1v1h-1zM49 61h1v1h-1zM27 62h1v1h-1zM61 62h1v1h-1zM33 63h1v1h-1z"/>
<path fill="#b5b5b5" d="M55 0h1v1h-1zM13 5h1v1h-1zM36 5h1v1h-1zM50 5h1v1h-1zM55 5h1v1h-1zM24 6h1v1h-1zM31 6h1v1h-1zM9 7h1v1h-1zM50 8h1v1h-1zM60 9h1v1h-1zM27 11h1v1h-1zM34 11h1v1h-1zM37 12h1v1h-1zM47 14h1v1h-1zM58 14h1v1h-1zM11 15h1v1h-1zM35 15h1v1h-1zM55 16h1v1h-1zM24 17h1v1h-1zM30 17h1v1h-1zM21 22h1v1h-1zM53 23h1v1h-1zM43 24h1v1h-1zM7 25h1v1h-1zM19 27h1v1h-1zM28 28h1v1h-1zM37 30h1v1h-1zM13 31h1v1h-1zM41 31h1v1h-1zM44 31h1v1h-1zM7 32h1v1h-1zM19 32h1v1h-1zM22 33h1v1h-1zM34 39h1v1h-1zM53 39h1v1h-1zM21 41h1v1h-1zM31 42h1v1h-1zM55 42h1v1h-1zM43 43h1v1h-1zM24 44h1v1h-1zM46 46h1v1h-1zM60 47h1v1h-1zM11 48h1v1h-1zM18 48h1v1h-1zM29 50h1v1h-1zM37 50h1v1h-1zM6 51h1v1h-1zM20 51h1v1h-1zM23 51h1v1h-1zM40 52h1v1h-1zM14 55h1v1h-1zM49 55h1v1h-1zM8 57h1v1h-1zM21 57h1v1h-1zM32 59h1v1h-1zM39 59h1v1h-1zM43 59h1v1h-1zM6 60h1v1h-1zM10 61h1v1h-1zM36 61h1v1h-1zM46 61h1v1h-1zM1 62h1v1h-1zM30 62h1v1h-1zM42 63h1v1h-1z"/>
<path fill="#b9b9b9" d="M4 2h1v1h-1zM43 2h1v1h-1zM9 3h1v1h-1zM30 3h1v1h-1zM35 3h1v1h-1zM19 5h1v1h-1zM60 5h1v1h-1zM21 7h1v1h-1zM62 7h1v1h-1zM8 9h1v1h-1zM34 9h1v1h-1zM41 9h1v1h-1zM4 10h1v1h-1zM48 10h1v1h-1zM10 11h1v1h-1zM50 14h1v1h-1zM28 15h1v1h-1zM18 17h1v1h-1zM39 18h1v1h-1zM49 18h1v1h-1zM12 19h1v1h-1zM23 20h1v1h-1zM45 22h1v1h-1zM59 22h1v1h-1zM56 26h1v1h-1zM60 26h1v1h-1zM9 27h1v1h-1zM34 27h1v1h-1zM50 29h1v1h-1zM57 29h1v1h-1zM25 31h1v1h-1zM15 33h1v1h-1zM51 33h1v1h-1zM9 34h1v1h-1zM29 34h1v1h-1zM6 35h1v1h-1zM42 35h1v1h-1zM12 36h1v1h-1zM46 36h1v1h-1zM27 38h1v1h-1zM37 39h1v1h-1zM58 39h1v1h-1zM23 40h1v1h-1zM17 42h1v1h-1zM47 42h1v1h-1zM21 43h1v1h-1zM34 43h1v1h-1zM13 44h1v1h-1zM62 44h1v1h-1zM50 47h1v1h-1zM8 48h1v1h-1zM21 48h1v1h-1zM2 50h1v1h-1zM14 50h1v1h-1zM48 50h1v1h-1zM32 53h1v1h-1zM20 55h1v1h-1zM23 55h1v1h-1zM55 58h1v1h-1zM19 59h1v1h-1zM56 61h1v1h-1zM59 62h1v1h-1zM19 63h1v1h-1zM63 63h1v1h-1z"/>
<path fill="#bdbdbd" d="M22 0h1v1h-1zM25 0h1v1h-1zM15 3h1v1h-1zM52 3h1v1h-1zM47 5h1v1h-1zM38 6h1v1h-1zM4 7h1v1h-1zM18 9h1v1h-1zM53 9h1v1h-1zM56 11h1v1h-1zM23 13h1v1h-1zM43 13h1v1h-1zM7 14h1v1h-1zM16 14h1v1h-1zM61 15h1v1h-1zM42 16h1v1h-1zM52 16h1v1h-1zM27 18h1v1h-1zM1 19h1v1h-1zM9 19h1v1h-1zM52 19h1v1h-1zM60 19h1v1h-1zM17 20h1v1h-1zM25 22h1v1h-1zM41 23h1v1h-1zM5 24h1v1h-1zM33 24h1v1h-1zM63 24h1v1h-1zM51 25h1v1h-1zM15 26h1v1h-1zM43 27h1v1h-1zM23 28h1v1h-1zM54 29h1v1h-1zM56 33h1v1h-1zM1 34h1v1h-1zM37 36h1v1h-1zM58 36h1v1h-1zM4 37h1v1h-1zM23 37h1v1h-1zM61 37h1v1h-1zM50 38h1v1h-1zM8 39h1v1h-1zM0 40h1v1h-1zM26 41h1v1h-1zM45 41h1v1h-1zM8 42h1v1h-1zM5 44h1v1h-1zM17 45h1v1h-1zM32 46h1v1h-1zM42 46h1v1h-1zM25 47h1v1h-1zM37 48h1v1h-1zM55 49h1v1h-1zM61 50h1v1h-1zM51 52h1v1h-1zM12 53h1v1h-1zM37 53h1v1h-1zM26 54h1v1h-1zM63 54h1v1h-1zM5 56h1v1h-1zM26 57h1v1h-1zM52 57h1v1h-1zM14 59h1v1h-1zM28 59h1v1h-1z"/>
<path fill="#c1c1c1" d="M1 1h1v1h-1zM6 3h1v1h-1zM17 3h1v1h-1zM0 5h1v1h-1zM28 5h1v1h-1zM40 5h1v1h-1zM14 9h1v1h-1zM31 9h1v1h-1zM24 11h1v1h-1zM62 11h1v1h-1zM39 12h1v1h-1zM32 13h1v1h-1zM13 16h1v1h-1zM46 16h1v1h-1zM34 17h1v1h-1zM43 18h1v1h-1zM32 20h1v1h-1zM6 21h1v1h-1zM35 21h1v1h-1zM55 21h1v1h-1zM38 24h1v1h-1zM17 25h1v1h-1zM30 25h1v1h-1zM1 26h1v1h-1zM48 26h1v1h-1zM31 28h1v1h-1zM4 29h1v1h-1zM61 29h1v1h-1zM17 30h1v1h-1zM29 31h1v1h-1zM34 32h1v1h-1zM59 33h1v1h-1zM13 34h1v1h-1zM17 34h1v1h-1zM20 35h1v1h-1zM48 35h1v1h-1zM55 35h1v1h-1zM14 38h1v1h-1zM42 39h1v1h-1zM3 40h1v1h-1zM40 42h1v1h-1zM51 42h1v1h-1zM58 42h1v1h-1zM56 45h1v1h-1zM15 46h1v1h-1zM1 48h1v1h-1zM44 49h1v1h-1zM52 49h1v1h-1zM54 52h1v1h-1zM45 53h1v1h-1zM48 53h1v1h-1zM1 55h1v1h-1zM34 55h1v1h-1zM56 55h1v1h-1zM60 56h1v1h-1zM39 57h1v1h-1zM48 57h1v1h-1zM0 58h1v1h-1zM35 58h1v1h-1zM60 59h1v1h-1zM3 60h1v1h-1zM21 61h1v1h-1zM15 63h1v1h-1zM48 63h1v1h-1z"/>
<path fill="#c5c5c5" d="M3 0h1v1h-1zM20 1h1v1h-1zM45 1h1v1h-1zM51 1h1v1h-1zM55 2h1v1h-1zM63 2h1v1h-1zM38 3h1v1h-1zM59 3h1v1h-1zM42 4h1v1h-1zM33 5h1v1h-1zM2 6h1v1h-1zM6 7h1v1h-1zM52 7h1v1h-1zM44 8h1v1h-1zM57 9h1v1h-1zM44 11h1v1h-1zM54 11h1v1h-1zM0 12h1v1h-1zM49 12h1v1h-1zM9 13h1v1h-1zM56 14h1v1h-1zM22 15h1v1h-1zM21 18h1v1h-1zM58 18h1v1h-1zM3 19h1v1h-1zM19 21h1v1h-1zM47 21h1v1h-1zM35 25h1v1h-1zM22 26h1v1h-1zM41 26h1v1h-1zM25 28h1v1h-1zM52 28h1v1h-1zM13 29h1v1h-1zM44 29h1v1h-1zM1 30h1v1h-1zM9 31h1v1h-1zM24 33h1v1h-1zM42 33h1v1h-1zM3 35h1v1h-1zM31 37h1v1h-1zM39 37h1v1h-1zM31 40h1v1h-1zM6 42h1v1h-1zM29 44h1v1h-1zM59 44h1v1h-1zM51 45h1v1h-1zM44 46h1v1h-1zM48 47h1v1h-1zM55 47h1v1h-1zM14 48h1v1h-1zM27 48h1v1h-1zM6 49h1v1h-1zM40 50h1v1h-1zM56 51h1v1h-1zM14 52h1v1h-1zM43 52h1v1h-1zM10 54h1v1h-1zM51 54h1v1h-1zM3 56h1v1h-1zM49 59h1v1h-1zM16 60h1v1h-1zM26 60h1v1h-1zM34 61h1v1h-1zM38 63h1v1h-1z"/>
<path fill="#c9c9c9" d="M6 0h1v1h-1zM12 1h1v1h-1zM31 1h1v1h-1zM26 3h1v1h-1zM48 3h1v1h-1zM11 7h1v1h-1zM25 7h1v1h-1zM28 10h1v1h-1zM20 12h1v1h-1zM3 13h1v1h-1zM61 13h1v1h-1zM53 14h1v1h-1zM25 15h1v1h-1zM38 15h1v1h-1zM10 16h1v1h-1zM54 17h1v1h-1zM62 19h1v1h-1zM27 20h1v1h-1zM14 21h1v1h-1zM52 21h1v1h-1zM1 23h1v1h-1zM12 24h1v1h-1zM48 24h1v1h-1zM25 25h1v1h-1zM58 26h1v1h-1zM5 27h1v1h-1zM17 27h1v1h-1zM20 31h1v1h-1zM38 31h1v1h-1zM53 32h1v1h-1zM62 32h1v1h-1zM47 33h1v1h-1zM27 34h1v1h-1zM17 37h1v1h-1zM52 37h1v1h-1zM11 39h1v1h-1zM62 41h1v1h-1zM15 43h1v1h-1zM2 44h1v1h-1zM36 45h1v1h-1zM5 46h1v1h-1zM30 46h1v1h-1zM22 47h1v1h-1zM62 47h1v1h-1zM30 49h1v1h-1zM11 50h1v1h-1zM24 50h1v1h-1zM32 50h1v1h-1zM27 51h1v1h-1zM63 51h1v1h-1zM7 52h1v1h-1zM4 53h1v1h-1zM17 53h1v1h-1zM40 55h1v1h-1zM15 56h1v1h-1zM29 56h1v1h-1zM45 56h1v1h-1zM24 57h1v1h-1zM42 58h1v1h-1zM10 59h1v1h-1zM52 59h1v1h-1zM58 59h1v1h-1zM44 60h1v1h-1zM51 62h1v1h-1z"/>
<path fill="#cdcdcd" d="M27 0h1v1h-1zM60 0h1v1h-1zM17 1h1v1h-1zM3 3h1v1h-1zM12 3h1v1h-1zM8 4h1v1h-1zM22 4h1v1h-1zM53 4h1v1h-1zM14 6h1v1h-1zM45 6h1v1h-1zM40 7h1v1h-1zM49 7h1v1h-1zM17 8h1v1h-1zM22 8h1v1h-1zM17 11h1v1h-1zM59 11h1v1h-1zM6 13h1v1h-1zM14 14h1v1h-1zM34 14h1v1h-1zM31 16h1v1h-1zM16 18h1v1h-1zM39 21h1v1h-1zM7 22h1v1h-1zM29 22h1v1h-1zM15 23h1v1h-1zM20 23h1v1h-1zM58 23h1v1h-1zM54 25h1v1h-1zM27 27h1v1h-1zM35 28h1v1h-1zM6 29h1v1h-1zM39 29h1v1h-1zM26 30h1v1h-1zM32 31h1v1h-1zM0 33h1v1h-1zM39 33h1v1h-1zM33 36h1v1h-1zM43 36h1v1h-1zM62 36h1v1h-1zM21 38h1v1h-1zM35 38h1v1h-1zM5 39h1v1h-1zM45 39h1v1h-1zM55 39h1v1h-1zM60 40h1v1h-1zM10 41h1v1h-1zM19 44h1v1h-1zM23 45h1v1h-1zM40 45h1v1h-1zM3 47h1v1h-1zM35 48h1v1h-1zM46 50h1v1h-1zM59 50h1v1h-1zM19 52h1v1h-1zM35 53h1v1h-1zM39 53h1v1h-1zM7 55h1v1h-1zM7 58h1v1h-1zM13 58h1v1h-1zM31 60h1v1h-1zM38 60h1v1h-1zM13 62h1v1h-1zM43 62h1v1h-1zM9 63h1v1h-1z"/>
<path fill="#d1d1d1" d="M8 1h1v1h-1zM23 1h1v1h-1zM14 2h1v1h-1zM29 2h1v1h-1zM34 2h1v1h-1zM40 2h1v1h-1zM30 5h1v1h-1zM57 6h1v1h-1zM36 8h1v1h-1zM1 9h1v1h-1zM12 9h1v1h-1zM25 9h1v1h-1zM51 9h1v1h-1zM26 13h1v1h-1zM41 13h1v1h-1zM1 15h1v1h-1zM18 15h1v1h-1zM49 17h1v1h-1zM5 18h1v1h-1zM11 18h1v1h-1zM19 18h1v1h-1zM37 20h1v1h-1zM43 20h1v1h-1zM58 21h1v1h-1zM61 22h1v1h-1zM3 24h1v1h-1zM44 24h1v1h-1zM10 26h1v1h-1zM32 27h1v1h-1zM2 28h1v1h-1zM56 28h1v1h-1zM47 29h1v1h-1zM4 32h1v1h-1zM34 34h1v1h-1zM37 34h1v1h-1zM52 34h1v1h-1zM63 38h1v1h-1zM24 39h1v1h-1zM51 40h1v1h-1zM18 41h1v1h-1zM56 41h1v1h-1zM3 42h1v1h-1zM37 42h1v1h-1zM9 45h1v1h-1zM26 45h1v1h-1zM19 47h1v1h-1zM33 47h1v1h-1zM39 47h1v1h-1zM49 49h1v1h-1zM4 50h1v1h-1zM21 50h1v1h-1zM2 52h1v1h-1zM22 54h1v1h-1zM42 54h1v1h-1zM61 54h1v1h-1zM36 55h1v1h-1zM32 56h1v1h-1zM21 58h1v1h-1zM5 59h1v1h-1zM46 59h1v1h-1zM62 61h1v1h-1zM23 62h1v1h-1zM31 63h1v1h-1zM54 63h1v1h-1z"/>
<path fill="#d5d5d5" d="M35 0h1v1h-1zM58 0h1v1h-1zM61 3h1v1h-1zM20 4h1v1h-1zM34 6h1v1h-1zM63 8h1v1h-1zM38 9h1v1h-1zM47 9h1v1h-1zM8 10h1v1h-1zM21 10h1v1h-1zM40 11h1v1h-1zM13 12h1v1h-1zM44 14h1v1h-1zM51 15h1v1h-1zM59 15h1v1h-1zM7 17h1v1h-1zM27 17h1v1h-1zM63 17h1v1h-1zM40 18h1v1h-1zM31 19h1v1h-1zM0 21h1v1h-1zM24 21h1v1h-1zM50 21h1v1h-1zM11 22h1v1h-1zM22 23h1v1h-1zM8 24h1v1h-1zM28 24h1v1h-1zM61 26h1v1h-1zM38 27h1v1h-1zM12 28h1v1h-1zM10 30h1v1h-1zM22 30h1v1h-1zM49 30h1v1h-1zM30 32h1v1h-1zM45 32h1v1h-1zM58 32h1v1h-1zM6 33h1v1h-1zM10 36h1v1h-1zM49 36h1v1h-1zM28 37h1v1h-1zM32 39h1v1h-1zM47 39h1v1h-1zM14 41h1v1h-1zM28 41h1v1h-1zM11 43h1v1h-1zM30 43h1v1h-1zM44 43h1v1h-1zM63 43h1v1h-1zM48 44h1v1h-1zM53 44h1v1h-1zM11 47h1v1h-1zM58 48h1v1h-1zM17 49h1v1h-1zM57 52h1v1h-1zM30 53h1v1h-1zM11 55h1v1h-1zM54 55h1v1h-1zM57 56h1v1h-1zM17 57h1v1h-1zM63 59h1v1h-1zM2 61h1v1h-1zM29 62h1v1h-1zM41 62h1v1h-1zM4 63h1v1h-1z"/>
<path fill="#d9d9d9" d="M46 0h1v1h-1zM50 2h1v1h-1zM58 4h1v1h-1zM5 6h1v1h-1zM16 6h1v1h-1zM43 6h1v1h-1zM27 8h1v1h-1zM54 8h1v1h-1zM59 8h1v1h-1zM3 10h1v1h-1zM33 10h1v1h-1zM30 12h1v1h-1zM37 13h1v1h-1zM10 14h1v1h-1zM3 17h1v1h-1zM35 17h1v1h-1zM45 18h1v1h-1zM55 19h1v1h-1zM9 20h1v1h-1zM4 22h1v1h-1zM34 22h1v1h-1zM54 22h1v1h-1zM32 24h1v1h-1zM14 25h1v1h-1zM20 27h1v1h-1zM53 27h1v1h-1zM62 28h1v1h-1zM35 30h1v1h-1zM42 30h1v1h-1zM55 30h1v1h-1zM2 31h1v1h-1zM18 31h1v1h-1zM11 32h1v1h-1zM49 32h1v1h-1zM21 34h1v1h-1zM14 36h1v1h-1zM26 36h1v1h-1zM45 36h1v1h-1zM1 38h1v1h-1zM58 38h1v1h-1zM17 39h1v1h-1zM35 40h1v1h-1zM42 40h1v1h-1zM49 40h1v1h-1zM54 42h1v1h-1zM24 43h1v1h-1zM34 44h1v1h-1zM61 44h1v1h-1zM0 47h1v1h-1zM7 47h1v1h-1zM53 48h1v1h-1zM41 49h1v1h-1zM9 51h1v1h-1zM34 51h1v1h-1zM46 52h1v1h-1zM28 54h1v1h-1zM59 55h1v1h-1zM50 56h1v1h-1zM22 60h1v1h-1zM33 60h1v1h-1zM40 60h1v1h-1zM55 61h1v1h-1zM19 62h1v1h-1zM49 62h1v1h-1z"/>
<path fill="#dddddd" d="M19 2h1v1h-1zM1 4h1v1h-1zM25 4h1v1h-1zM37 4h1v1h-1zM46 4h1v1h-1zM11 5h1v1h-1zM51 6h1v1h-1zM55 6h1v1h-1zM30 7h1v1h-1zM20 8h1v1h-1zM42 10h1v1h-1zM61 10h1v1h-1zM50 11h1v1h-1zM45 12h1v1h-1zM55 13h1v1h-1zM5 14h1v1h-1zM29 14h1v1h-1zM23 16h1v1h-1zM47 16h1v1h-1zM61 16h1v1h-1zM14 17h1v1h-1zM24 19h1v1h-1zM48 20h1v1h-1zM42 22h1v1h-1zM50 23h1v1h-1zM39 25h1v1h-1zM46 25h1v1h-1zM6 26h1v1h-1zM16 28h1v1h-1zM45 28h1v1h-1zM29 29h1v1h-1zM59 29h1v1h-1zM51 30h1v1h-1zM30 34h1v1h-1zM18 35h1v1h-1zM61 35h1v1h-1zM5 36h1v1h-1zM40 36h1v1h-1zM56 37h1v1h-1zM13 39h1v1h-1zM7 40h1v1h-1zM39 41h1v1h-1zM7 43h1v1h-1zM14 45h1v1h-1zM45 45h1v1h-1zM29 47h1v1h-1zM26 49h1v1h-1zM16 51h1v1h-1zM23 52h1v1h-1zM0 53h1v1h-1zM53 53h1v1h-1zM6 54h1v1h-1zM20 54h1v1h-1zM2 57h1v1h-1zM11 57h1v1h-1zM53 57h1v1h-1zM62 57h1v1h-1zM28 58h1v1h-1zM57 58h1v1h-1zM17 59h1v1h-1zM9 60h1v1h-1zM6 62h1v1h-1zM11 63h1v1h-1zM16 63h1v1h-1z"/>
<path fill="#e1e1e1" d="M0 0h1v1h-1zM37 0h1v1h-1zM43 1h1v1h-1zM56 1h1v1h-1zM49 4h1v1h-1zM10 10h1v1h-1zM1 11h1v1h-1zM6 11h1v1h-1zM25 12h1v1h-1zM35 12h1v1h-1zM17 13h1v1h-1zM48 13h1v1h-1zM21 14h1v1h-1zM53 18h1v1h-1zM29 19h1v1h-1zM33 19h1v1h-1zM5 20h1v1h-1zM13 20h1v1h-1zM20 20h1v1h-1zM38 22h1v1h-1zM19 24h1v1h-1zM61 24h1v1h-1zM23 25h1v1h-1zM52 25h1v1h-1zM57 25h1v1h-1zM20 29h1v1h-1zM16 32h1v1h-1zM23 32h1v1h-1zM26 32h1v1h-1zM40 32h1v1h-1zM12 34h1v1h-1zM44 34h1v1h-1zM23 35h1v1h-1zM53 35h1v1h-1zM2 36h1v1h-1zM8 37h1v1h-1zM38 38h1v1h-1zM19 39h1v1h-1zM26 40h1v1h-1zM22 42h1v1h-1zM41 44h1v1h-1zM4 45h1v1h-1zM49 46h1v1h-1zM54 46h1v1h-1zM24 48h1v1h-1zM45 48h1v1h-1zM9 49h1v1h-1zM62 49h1v1h-1zM36 50h1v1h-1zM50 50h1v1h-1zM13 51h1v1h-1zM42 51h1v1h-1zM26 53h1v1h-1zM13 54h1v1h-1zM9 55h1v1h-1zM19 56h1v1h-1zM25 56h1v1h-1zM38 56h1v1h-1zM31 57h1v1h-1zM43 57h1v1h-1zM35 59h1v1h-1zM26 62h1v1h-1zM58 62h1v1h-1zM52 63h1v1h-1z"/>
<path fill="#e5e5e5" d="M10 1h1v1h-1zM26 1h1v1h-1zM48 1h1v1h-1zM32 2h1v1h-1zM54 3h1v1h-1zM5 4h1v1h-1zM18 4h1v1h-1zM9 6h1v1h-1zM28 6h1v1h-1zM63 6h1v1h-1zM23 7h1v1h-1zM3 8h1v1h-1zM15 8h1v1h-1zM53 12h1v1h-1zM57 12h1v1h-1zM3 15h1v1h-1zM33 15h1v1h-1zM42 15h1v1h-1zM37 17h1v1h-1zM56 17h1v1h-1zM59 17h1v1h-1zM16 21h1v1h-1zM46 23h1v1h-1zM10 24h1v1h-1zM26 24h1v1h-1zM35 24h1v1h-1zM63 26h1v1h-1zM36 27h1v1h-1zM42 28h1v1h-1zM49 28h1v1h-1zM8 30h1v1h-1zM62 30h1v1h-1zM35 32h1v1h-1zM56 32h1v1h-1zM8 33h1v1h-1zM58 34h1v1h-1zM63 34h1v1h-1zM32 35h1v1h-1zM10 38h1v1h-1zM60 38h1v1h-1zM29 39h1v1h-1zM0 41h1v1h-1zM59 41h1v1h-1zM49 42h1v1h-1zM18 43h1v1h-1zM26 43h1v1h-1zM32 43h1v1h-1zM37 44h1v1h-1zM0 45h1v1h-1zM21 46h1v1h-1zM57 46h1v1h-1zM61 46h1v1h-1zM16 47h1v1h-1zM36 47h1v1h-1zM30 51h1v1h-1zM60 51h1v1h-1zM57 54h1v1h-1zM16 55h1v1h-1zM48 55h1v1h-1zM54 59h1v1h-1zM24 60h1v1h-1zM51 60h1v1h-1zM37 61h1v1h-1zM45 61h1v1h-1z"/>
<path fill="#e9e9e9" d="M33 0h1v1h-1zM41 0h1v1h-1zM61 1h1v1h-1zM7 2h1v1h-1zM44 4h1v1h-1zM61 5h1v1h-1zM36 6h1v1h-1zM7 8h1v1h-1zM34 8h1v1h-1zM31 10h1v1h-1zM45 10h1v1h-1zM55 10h1v1h-1zM38 11h1v1h-1zM11 12h1v1h-1zM15 12h1v1h-1zM22 12h1v1h-1zM63 15h1v1h-1zM17 16h1v1h-1zM9 17h1v1h-1zM51 17h1v1h-1zM42 18h1v1h-1zM0 19h1v1h-1zM45 20h1v1h-1zM59 20h1v1h-1zM32 22h1v1h-1zM63 23h1v1h-1zM55 24h1v1h-1zM42 25h1v1h-1zM8 26h1v1h-1zM12 26h1v1h-1zM28 26h1v1h-1zM3 27h1v1h-1zM45 30h1v1h-1zM13 32h1v1h-1zM2 33h1v1h-1zM24 37h1v1h-1zM36 37h1v1h-1zM42 37h1v1h-1zM49 38h1v1h-1zM52 39h1v1h-1zM33 41h1v1h-1zM44 41h1v1h-1zM13 43h1v1h-1zM57 43h1v1h-1zM52 46h1v1h-1zM13 47h1v1h-1zM41 47h1v1h-1zM31 48h1v1h-1zM3 49h1v1h-1zM54 50h1v1h-1zM18 51h1v1h-1zM39 51h1v1h-1zM50 53h1v1h-1zM33 54h1v1h-1zM46 54h1v1h-1zM4 55h1v1h-1zM0 56h1v1h-1zM22 56h1v1h-1zM4 58h1v1h-1zM40 58h1v1h-1zM12 59h1v1h-1zM48 60h1v1h-1zM0 61h1v1h-1zM60 61h1v1h-1z"/>
<path fill="#ededed" d="M15 1h1v1h-1zM39 1h1v1h-1zM24 2h1v1h-1zM13 4h1v1h-1zM34 4h1v1h-1zM3 5h1v1h-1zM41 6h1v1h-1zM18 7h1v1h-1zM46 7h1v1h-1zM61 8h1v1h-1zM40 9h1v1h-1zM49 9h1v1h-1zM13 10h1v1h-1zM26 10h1v1h-1zM51 13h1v1h-1zM59 13h1v1h-1zM31 14h1v1h-1zM39 14h1v1h-1zM46 14h1v1h-1zM27 15h1v1h-1zM22 18h1v1h-1zM18 19h1v1h-1zM11 20h1v1h-1zM2 22h1v1h-1zM27 22h1v1h-1zM16 24h1v1h-1zM4 25h1v1h-1zM49 25h1v1h-1zM27 29h1v1h-1zM12 30h1v1h-1zM24 30h1v1h-1zM31 30h1v1h-1zM53 30h1v1h-1zM6 31h1v1h-1zM60 31h1v1h-1zM41 34h1v1h-1zM49 34h1v1h-1zM28 35h1v1h-1zM56 35h1v1h-1zM16 36h1v1h-1zM21 36h1v1h-1zM3 38h1v1h-1zM22 39h1v1h-1zM37 40h1v1h-1zM54 40h1v1h-1zM16 41h1v1h-1zM4 43h1v1h-1zM9 43h1v1h-1zM28 43h1v1h-1zM46 43h1v1h-1zM18 46h1v1h-1zM9 47h1v1h-1zM7 50h1v1h-1zM57 50h1v1h-1zM1 51h1v1h-1zM38 54h1v1h-1zM35 56h1v1h-1zM45 58h1v1h-1zM7 60h1v1h-1zM20 60h1v1h-1zM14 61h1v1h-1zM28 61h1v1h-1zM2 63h1v1h-1zM21 63h1v1h-1z"/>
<path fill="#f1f1f1" d="M50 0h1v1h-1zM2 2h1v1h-1zM28 3h1v1h-1zM39 4h1v1h-1zM51 4h1v1h-1zM56 4h1v1h-1zM23 5h1v1h-1zM56 8h1v1h-1zM19 10h1v1h-1zM1 13h1v1h-1zM12 14h1v1h-1zM8 15h1v1h-1zM57 15h1v1h-1zM25 17h1v1h-1zM32 17h1v1h-1zM38 19h1v1h-1zM50 19h1v1h-1zM9 22h1v1h-1zM36 22h1v1h-1zM56 22h1v1h-1zM24 23h1v1h-1zM40 23h1v1h-1zM30 24h1v1h-1zM21 25h1v1h-1zM33 26h1v1h-1zM59 27h1v1h-1zM0 28h1v1h-1zM7 28h1v1h-1zM18 29h1v1h-1zM40 30h1v1h-1zM37 32h1v1h-1zM18 33h1v1h-1zM46 34h1v1h-1zM7 35h1v1h-1zM35 35h1v1h-1zM62 39h1v1h-1zM2 40h1v1h-1zM12 41h1v1h-1zM50 44h1v1h-1zM43 45h1v1h-1zM59 45h1v1h-1zM2 46h1v1h-1zM27 46h1v1h-1zM34 46h1v1h-1zM38 46h1v1h-1zM12 49h1v1h-1zM22 49h1v1h-1zM47 49h1v1h-1zM25 51h1v1h-1zM44 51h1v1h-1zM52 51h1v1h-1zM28 52h1v1h-1zM32 52h1v1h-1zM62 52h1v1h-1zM8 53h1v1h-1zM15 53h1v1h-1zM27 56h1v1h-1zM41 56h1v1h-1zM9 57h1v1h-1zM59 57h1v1h-1zM15 58h1v1h-1zM32 62h1v1h-1zM44 63h1v1h-1zM56 63h1v1h-1z"/>
<path fill="#f5f5f5" d="M18 0h1v1h-1zM46 2h1v1h-1zM31 4h1v1h-1zM7 5h1v1h-1zM59 6h1v1h-1zM13 7h1v1h-1zM29 9h1v1h-1zM36 10h1v1h-1zM63 10h1v1h-1zM4 12h1v1h-1zM19 13h1v1h-1zM40 16h1v1h-1zM1 17h1v1h-1zM12 17h1v1h-1zM47 18h1v1h-1zM61 18h1v1h-1zM7 19h1v1h-1zM15 19h1v1h-1zM26 20h1v1h-1zM18 22h1v1h-1zM44 22h1v1h-1zM52 23h1v1h-1zM14 27h1v1h-1zM40 27h1v1h-1zM47 27h1v1h-1zM55 27h1v1h-1zM22 28h1v1h-1zM33 29h1v1h-1zM4 30h1v1h-1zM47 31h1v1h-1zM54 33h1v1h-1zM61 33h1v1h-1zM15 34h1v1h-1zM25 34h1v1h-1zM51 36h1v1h-1zM12 37h1v1h-1zM30 37h1v1h-1zM47 37h1v1h-1zM6 38h1v1h-1zM40 39h1v1h-1zM24 41h1v1h-1zM42 42h1v1h-1zM21 44h1v1h-1zM55 44h1v1h-1zM7 45h1v1h-1zM60 48h1v1h-1zM15 49h1v1h-1zM5 52h1v1h-1zM21 52h1v1h-1zM36 52h1v1h-1zM55 53h1v1h-1zM44 55h1v1h-1zM62 55h1v1h-1zM55 57h1v1h-1zM19 58h1v1h-1zM23 58h1v1h-1zM33 58h1v1h-1zM50 58h1v1h-1zM30 59h1v1h-1zM61 59h1v1h-1zM4 61h1v1h-1zM11 61h1v1h-1zM53 61h1v1h-1zM39 62h1v1h-1z"/>
<path fill="#f9f9f9" d="M13 0h1v1h-1zM21 2h1v1h-1zM58 2h1v1h-1zM10 3h1v1h-1zM63 3h1v1h-1zM20 6h1v1h-1zM53 6h1v1h-1zM38 7h1v1h-1zM43 8h1v1h-1zM5 9h1v1h-1zM23 10h1v1h-1zM58 10h1v1h-1zM47 11h1v1h-1zM8 12h1v1h-1zM33 12h1v1h-1zM42 12h1v1h-1zM24 14h1v1h-1zM15 15h1v1h-1zM36 15h1v1h-1zM54 15h1v1h-1zM44 16h1v1h-1zM29 17h1v1h-1zM35 19h1v1h-1zM57 19h1v1h-1zM3 20h1v1h-1zM22 21h1v1h-1zM62 21h1v1h-1zM48 22h1v1h-1zM1 25h1v1h-1zM30 27h1v1h-1zM37 29h1v1h-1zM15 30h1v1h-1zM51 32h1v1h-1zM32 33h1v1h-1zM4 34h1v1h-1zM0 36h1v1h-1zM19 37h1v1h-1zM54 37h1v1h-1zM9 40h1v1h-1zM57 40h1v1h-1zM20 41h1v1h-1zM30 41h1v1h-1zM47 41h1v1h-1zM35 42h1v1h-1zM1 43h1v1h-1zM16 44h1v1h-1zM47 46h1v1h-1zM43 48h1v1h-1zM56 48h1v1h-1zM0 49h1v1h-1zM19 49h1v1h-1zM28 49h1v1h-1zM33 49h1v1h-1zM38 49h1v1h-1zM48 52h1v1h-1zM2 54h1v1h-1zM13 56h1v1h-1zM47 57h1v1h-1zM26 59h1v1h-1zM42 60h1v1h-1zM8 62h1v1h-1zM35 62h1v1h-1zM24 63h1v1h-1zM62 63h1v1h-1z"/>
<path fill="#fdfdfd" d="M29 0h1v1h-1zM5 1h1v1h-1zM53 1h1v1h-1zM36 2h1v1h-1zM42 3h1v1h-1zM16 4h1v1h-1zM26 6h1v1h-1zM48 6h1v1h-1zM1 7h1v1h-1zM32 7h1v1h-1zM10 8h1v1h-1zM16 10h1v1h-1zM52 10h1v1h-1zM28 12h1v1h-1zM62 13h1v1h-1zM49 15h1v1h-1zM5 16h1v1h-1zM20 16h1v1h-1zM41 20h1v1h-1zM53 20h1v1h-1zM30 21h1v1h-1zM6 23h1v1h-1zM13 23h1v1h-1zM59 24h1v1h-1zM37 25h1v1h-1zM18 26h1v1h-1zM44 26h1v1h-1zM25 27h1v1h-1zM51 27h1v1h-1zM10 28h1v1h-1zM57 30h1v1h-1zM0 31h1v1h-1zM21 32h1v1h-1zM28 32h1v1h-1zM43 32h1v1h-1zM10 34h1v1h-1zM38 35h1v1h-1zM59 36h1v1h-1zM26 38h1v1h-1zM33 38h1v1h-1zM44 38h1v1h-1zM15 39h1v1h-1zM5 41h1v1h-1zM52 42h1v1h-1zM61 42h1v1h-1zM39 43h1v1h-1zM11 45h1v1h-1zM31 45h1v1h-1zM24 46h1v1h-1zM5 48h1v1h-1zM51 48h1v1h-1zM11 52h1v1h-1zM41 53h1v1h-1zM59 53h1v1h-1zM18 54h1v1h-1zM24 54h1v1h-1zM30 55h1v1h-1zM52 55h1v1h-1zM6 57h1v1h-1zM37 58h1v1h-1zM1 59h1v1h-1zM57 60h1v1h-1zM17 61h1v1h-1zM47 62h1v1h-1z"/>
</pattern>

<filter id="blur1" x="-20%" y="-20%" width="140%" height="140%"><feGaussianBlur stdDeviation="1"/></filter>
<filter id="blur2" x="-20%" y="-20%" width="140%" height="140%"><feGaussianBlur stdDeviation="2"/></filter>
<filter id="blur3" x="-20%" y="-20%" width="140%" height="140%"><feGaussianBlur stdDeviation="3.2"/></filter>
<filter id="blur5" x="-20%" y="-20%" width="140%" height="140%"><feGaussianBlur stdDeviation="5"/></filter>
<linearGradient id="cowlSkirt" gradientUnits="userSpaceOnUse" x1="560" y1="330" x2="520" y2="450">
<stop offset="0" stop-color="#626262"/><stop offset="0.6" stop-color="#585858"/><stop offset="1" stop-color="#3c3c3c"/></linearGradient>
<linearGradient id="cowlTop" gradientUnits="userSpaceOnUse" x1="480" y1="110" x2="700" y2="340">
<stop offset="0" stop-color="#5a5a5a"/><stop offset="1" stop-color="#4e4e4e"/></linearGradient>
<linearGradient id="cowlWedge" gradientUnits="userSpaceOnUse" x1="790" y1="292" x2="816" y2="284">
<stop offset="0" stop-color="#a0a0a0"/><stop offset="0.5" stop-color="#dcdcdc"/><stop offset="1" stop-color="#f4f4f4"/></linearGradient>
<clipPath id="cowlClip"><path d="M482,102C485,102 492.8,101.8 500,102.3C507.2,102.8 512.5,103.3 525,105C537.5,106.7 558.3,109.4 575,112.5C591.7,115.6 608.3,119.7 625,123.7C641.7,127.7 658.3,131.3 675,136.5C691.7,141.7 710.4,148.7 725,155C739.6,161.3 752.1,167.9 762.5,174.5C772.9,181.1 780.8,188 787.5,194.5C794.2,201 799.2,206.8 803,213.5C806.8,220.2 809.2,231.4 810.5,235L810.5,235C811.1,239.5 813,252.8 814,262C815,271.2 815.8,280.7 816.5,290C817.2,299.3 818.5,310.3 818.5,318C818.5,325.7 817.8,330.7 816.5,336C815.2,341.3 813.2,345 810.5,350C807.8,355 803.4,361 800,366C796.6,371 793,376 790,380C787,384 783.3,388.3 782,390L782,390 L775,391 L768,391 L764,394 L764,410 L760,420L760,420C758,422.2 752.2,428.5 748,433C743.8,437.5 740.5,442.6 735,447C729.5,451.4 722.5,455.9 715,459.5C707.5,463.1 700.8,466.1 690,468.5C679.2,470.9 663,473.1 650,473.8C637,474.5 624.5,474.3 612,472.5C599.5,470.7 587.5,466.9 575,463C562.5,459.1 549.5,453.8 537,449C524.5,444.2 512.5,439.3 500,434C487.5,428.7 474.5,423.2 462,417C449.5,410.8 437.5,404 425,397C412.5,390 397.5,382.5 387,375C376.5,367.5 368.8,359.5 362,352C355.2,344.5 350,337.8 346,330C342,322.2 340.5,313.3 338,305C335.5,296.7 332.8,289.2 331,280C329.2,270.8 328.1,259.7 327,250C325.9,240.3 324.9,226.7 324.5,222L324.5,222C324.4,220 323.9,213.2 323.9,210C323.9,206.8 323.6,205.1 324.5,202.5C325.4,199.9 326.6,198.2 329.6,194.7C332.6,191.2 336.4,187 342.7,181.6C349,176.2 359.1,168 367.3,162C375.5,156 382.3,151.3 391.8,145.6C401.3,139.9 413.6,133.3 424.5,127.6C435.4,121.9 449.1,115.2 457.3,111.3C465.5,107.4 469.5,105.5 473.6,104C477.7,102.5 480.6,102.3 482,102Z"/></clipPath>

<clipPath id="covClip"><path d="M837,1184 L839,1172 L846,1160 L860,1152 L880,1144 L900,1134 L920,1124 L932,1120 L944,1122 L952,1127 L953.6,1140 L953,1180 L952.4,1191 L949,1194 L944.7,1196.4 L943.6,1202 L943.6,1216 L949,1218.5 L951.3,1221 L951.3,1240 L951.5,1274 L953.5,1277 L953.5,1280.5 L950.2,1284.7 L938.2,1293.5 L930,1300 L900,1316 L870,1328 L846,1335 L837,1334 L835,1328 L836,1280 L836,1220Z"/></clipPath>
</defs>
<rect x="0" y="0" width="1100" height="1382" fill="#fff"/>
<g id="shade" filter="url(#thr)">
<rect x="0" y="0" width="1100" height="1382" fill="#fff"/>
<!-- 10_cowl.shade -->
<path d="M482,102C485,102 492.8,101.8 500,102.3C507.2,102.8 512.5,103.3 525,105C537.5,106.7 558.3,109.4 575,112.5C591.7,115.6 608.3,119.7 625,123.7C641.7,127.7 658.3,131.3 675,136.5C691.7,141.7 710.4,148.7 725,155C739.6,161.3 752.1,167.9 762.5,174.5C772.9,181.1 780.8,188 787.5,194.5C794.2,201 799.2,206.8 803,213.5C806.8,220.2 809.2,231.4 810.5,235L810.5,235C811.1,239.5 813,252.8 814,262C815,271.2 815.8,280.7 816.5,290C817.2,299.3 818.5,310.3 818.5,318C818.5,325.7 817.8,330.7 816.5,336C815.2,341.3 813.2,345 810.5,350C807.8,355 803.4,361 800,366C796.6,371 793,376 790,380C787,384 783.3,388.3 782,390L782,390 L775,391 L768,391 L764,394 L764,410 L760,420L760,420C758,422.2 752.2,428.5 748,433C743.8,437.5 740.5,442.6 735,447C729.5,451.4 722.5,455.9 715,459.5C707.5,463.1 700.8,466.1 690,468.5C679.2,470.9 663,473.1 650,473.8C637,474.5 624.5,474.3 612,472.5C599.5,470.7 587.5,466.9 575,463C562.5,459.1 549.5,453.8 537,449C524.5,444.2 512.5,439.3 500,434C487.5,428.7 474.5,423.2 462,417C449.5,410.8 437.5,404 425,397C412.5,390 397.5,382.5 387,375C376.5,367.5 368.8,359.5 362,352C355.2,344.5 350,337.8 346,330C342,322.2 340.5,313.3 338,305C335.5,296.7 332.8,289.2 331,280C329.2,270.8 328.1,259.7 327,250C325.9,240.3 324.9,226.7 324.5,222L324.5,222C324.4,220 323.9,213.2 323.9,210C323.9,206.8 323.6,205.1 324.5,202.5C325.4,199.9 326.6,198.2 329.6,194.7C332.6,191.2 336.4,187 342.7,181.6C349,176.2 359.1,168 367.3,162C375.5,156 382.3,151.3 391.8,145.6C401.3,139.9 413.6,133.3 424.5,127.6C435.4,121.9 449.1,115.2 457.3,111.3C465.5,107.4 469.5,105.5 473.6,104C477.7,102.5 480.6,102.3 482,102Z" fill="url(#cowlSkirt)"/>
<g clip-path="url(#cowlClip)">
<path d="M318,200C318.3,204.2 319.2,216.7 320,225C320.8,233.3 321.8,240.8 323,250C324.2,259.2 325.2,270.8 327,280C328.8,289.2 331.5,296.7 334,305C336.5,313.3 338.3,322.2 342,330C345.7,337.8 350,345 356,352C362,359 370.7,366 378,372C385.3,378 396.3,385.3 400,388" fill="none" stroke="#fff" stroke-width="16" filter="url(#blur3)"/>
<path d="M400,238 L450,263 L500,290 L540,312 L585,337 L560,345 L520,333 L480,316 L440,292 L410,262Z" fill="#fff" fill-opacity="0.62" filter="url(#blur3)"/>
<path d="M400,301C405,303.3 418.3,309.5 430,315C441.7,320.5 456.7,328.2 470,334C483.3,339.8 497.5,345.5 510,350C522.5,354.5 539.2,359.2 545,361" fill="none" stroke="#fff" stroke-opacity="0.9" stroke-width="4" filter="url(#blur1)"/>
</g>
<path d="M482,102C485,102 492.8,101.8 500,102.3C507.2,102.8 512.5,103.3 525,105C537.5,106.7 558.3,109.4 575,112.5C591.7,115.6 608.3,119.7 625,123.7C641.7,127.7 658.3,131.3 675,136.5C691.7,141.7 710.4,148.7 725,155C739.6,161.3 752.1,167.9 762.5,174.5C772.9,181.1 780.8,188 787.5,194.5C794.2,201 799.2,206.8 803,213.5C806.8,220.2 809.2,231.4 810.5,235L810.5,238C809.2,242 806.4,253.3 803,262C799.6,270.7 797.2,280.8 790,290C782.8,299.2 768.8,310 760,317.5C751.2,325 745,328.8 737.5,335C730,341.2 723.3,350.2 715,355C706.7,359.8 697.1,362.5 687.5,364C677.9,365.5 665.4,364.6 657.5,364C649.6,363.4 647.5,362.8 640,360.5C632.5,358.2 621.3,354.2 612.5,350C603.7,345.8 599.1,341.7 587,335C574.9,328.3 554.5,317.8 540,310C525.5,302.2 515,296.2 500,288C485,279.8 466.7,269.8 450,261C433.3,252.2 411.1,240.9 400,235C388.9,229.1 390.3,229.3 383.6,225.8C376.9,222.3 366.3,217.1 360,214C353.7,210.9 348.3,208.2 346,207L346,207C348.2,206.3 354.2,205.5 359.1,202.9C364,200.3 370.1,195.9 375.5,191.5C380.9,187.1 385,182.7 391.8,176.7C398.6,170.7 408.2,162.6 416.4,155.5C424.6,148.4 433,141.3 440.9,134.2C448.8,127.1 458.3,117.6 463.8,112.9C469.3,108.2 471,107.8 474,106C477,104.2 480.7,102.7 482,102Z" fill="url(#cowlTop)"/>
<path d="M324.5,202.5C325.4,201.2 326.6,198.2 329.6,194.7C332.6,191.2 336.4,187 342.7,181.6C349,176.2 359.1,168 367.3,162C375.5,156 382.3,151.3 391.8,145.6C401.3,139.9 413.6,133.3 424.5,127.6C435.4,121.9 449.1,115.2 457.3,111.3C465.5,107.4 469.5,105.5 473.6,104C477.7,102.5 480.6,102.3 482,102L482,102C480.7,102.7 477,104.2 474,106C471,107.8 469.3,108.2 463.8,112.9C458.3,117.6 448.8,127.1 440.9,134.2C433,141.3 424.6,148.4 416.4,155.5C408.2,162.6 398.6,170.7 391.8,176.7C385,182.7 380.9,187.1 375.5,191.5C370.1,195.9 364,200.3 359.1,202.9C354.2,205.5 348.2,206.3 346,207L336,206 L326,204Z" fill="#f5f5f5"/>
<path d="M332.9,194.7C335.9,192 343.8,184.1 350.9,178.4C358,172.7 365.9,167 375.5,160.4C385.1,153.8 397.3,145.4 408.2,139.1C419.1,132.8 433.3,126.1 440.9,122.7C448.5,119.3 451.8,119.3 454,118.6L454,118.6C451.8,120.4 447.2,124 440.9,129.3C434.6,134.6 424.6,143.4 416.4,150.5C408.2,157.6 399.2,165.5 391.8,171.8C384.4,178.1 377.6,184.1 372.2,188.2C366.8,192.3 363.5,194.3 359.1,196.4C354.7,198.5 350.1,200 346,200.5C341.9,201 336.7,200.6 334.5,199.6C332.3,198.6 333.2,195.5 332.9,194.7Z" fill="#474747"/>
<path d="M810.7,237.5 L800.9,259.1 L795.5,270 L787.8,284.2 L796,291 L804.2,297.3 L808.5,308.2 L815.1,324.5 L817.5,335 L818.5,318 L816.2,286.4 L812.9,259.1Z" fill="url(#cowlWedge)"/>
<g clip-path="url(#cowlClip)"><path d="M819,300L819,345L808,352L803,330Z" fill="#fff" fill-opacity="0.5" filter="url(#blur2)"/></g>
<!-- 20_p06.shade -->
<path d="M373.2,31.5 L378.1,36.4 L380.2,52.7 L379.2,62.5 L381.4,57.6 L382.2,48.6 L393.6,47.8 L396.9,55.2 L392,64.2 L380.5,72.4 L374,83.8 L373.2,108.4 L369.1,111.6 L349.5,109.2 L336.4,118.2 L311.8,131.3 L292.2,141.1 L279.1,146 L272.5,152.5 L264.4,154.2 L260.3,149.3 L261.1,139.5 L251.3,141.9 L245.5,134.5 L243.9,128 L248,123.9 L267.6,123.1 L279.1,114.9 L295.5,101.8 L311.8,88.7 L328.2,75.6 L344.5,64.2 L360.9,52.7 L366.6,47.8 L367.5,36.4 L370.7,32.3Z" fill="#b2b2b2"/>
<path d="M269.3,122.8 L279.1,114.9 L295.5,101.8 L311.8,88.7 L328.2,75.6 L344.5,64.2 L360.9,52.7 L366.6,47.8 L368.3,38 L372.4,33.1 L376.5,38 L377.3,52.7 L374,62.5 L364.2,74 L344.5,89.5 L320,105.1 L295.5,116.5Z" fill="#858585"/>
<!-- 21_small_tl.shade -->
<ellipse cx="269.2" cy="171.8" rx="5.7" ry="4.4" fill="#8c8c8c"/>
<ellipse cx="269.2" cy="171.8" rx="2.6" ry="2" fill="#fff"/>
<path d="M268,186.4 L269.5,185.4 L272.5,185.4 L274,186.4 L274,198.3 L268,198.3Z" fill="#8c8c8c"/>
<path d="M265.2,199.8 L266.8,198.3 L275.2,198.3 L276.8,199.8 L276.8,204.3 L274.8,205.8 L267.2,205.8 L265.2,204.3Z" fill="#a3a3a3"/>
<path d="M264.9,226.5 L279.6,229 L282.9,238 L284.5,242.9 L293.5,245.4 L295.7,248.6 L294.4,254.4 L268.2,275.6 L243.6,293.6 L220.7,311.6 L214.2,309.2 L192.9,281.4 L219.1,260.9 L243.6,242.9Z" fill="#7a7a7a"/>
<path d="M192.9,281.4 L198.1,279.2 L218.8,308 L220.7,311.6 L214.2,309.2Z" fill="#b2b2b2"/>
<ellipse cx="212.6" cy="328.2" rx="6.3" ry="5.3" fill="#cccccc"/>
<ellipse cx="212.6" cy="328.2" rx="3.1" ry="2.6" fill="#fff"/>
<path d="M213,339.6 L214.5,338.6 L217.5,338.6 L219,339.6 L219,353.5 L213,353.5Z" fill="#8c8c8c"/>
<path d="M209.8,355 L211.2,353.5 L220.8,353.5 L222.2,355 L222.2,360 L220.2,361.5 L211.8,361.5 L209.8,360Z" fill="#a3a3a3"/>
<!-- 22_small_tr.shade -->
<path d="M774.4,128 L802.2,138.8 L803.5,144.8 L800.2,149.7 L775.2,139.4Z" fill="#949494"/>
<path d="M763.7,129.3 L768.6,122.7 L774.4,126.3 L775.7,137.5 L770.8,141.1 L764.5,137.8Z" fill="#a6a6a6"/>
<ellipse cx="814.5" cy="148.6" rx="4.6" ry="8.2" fill="#bfbfbf" transform="rotate(18 814.5 148.6)"/>
<ellipse cx="814.5" cy="148.6" rx="2.3" ry="4.1" fill="#fff" transform="rotate(18 814.5 148.6)"/>
<path d="M848.8,139.1 L852.9,137.5 L857.8,139.1 L860.3,152.2 L859.5,165.3 L855.4,183.3 L839.8,179.2 L834.1,178.4 L830.8,160.4 L838.2,157.1 L840.6,166.9 L846.4,160.4 L849.6,153.8Z" fill="#808080"/>
<path d="M881.5,166.9C882,166 882.6,162.5 884,161.2C885.4,159.8 887.8,158.9 889.7,158.7C891.6,158.6 893.9,159 895.5,160.4C897,161.7 898.5,165.8 899.1,166.9L899.1,166.9 L899.5,188.2 L882.4,196.4 L880.7,175.1 L881.5,166.9Z" fill="#999999"/>
<circle class="" style="fill:#fff;" cx="889.7" cy="169.4" r="2.6"/>
<!-- 23_small_rm.shade -->
<path d="M824.4,394.5 L830.9,390 L836.6,392.1 L853.8,417.5 L866.9,440.4 L877.5,458.4 L875.1,466.5 L870.2,468.2 L864.5,463.3 L860.4,456.7 L852.2,443.6 L870.2,476.4 L869.4,482.9 L864.5,487.5 L859.5,484.5 L837.5,446.9 L822.7,422.4 L817.8,417.5 L817,410.9 L821.1,406Z" fill="#808080"/>
<path d="M875.1,394.5 L880,392.6 L885.7,397 L896.4,415.8 L907.8,435.5 L915.2,447.7 L915.2,451.8 L911.9,460.8 L907,461.6 L894.7,450.2 L880.8,438.7 L876.7,432.2 L870.2,410.9 L871,402.7Z" fill="#949494"/>
<path d="M857,495.3 L859.6,496.6 L846.6,524.4 L844,523.2Z" fill="#a6a6a6"/>
<!-- 30_frame.shade -->
<path d="M376.8,672.7 L377.7,662.7 L382.3,659.1 L391.4,654.5 L400.5,650 L410.6,645.2 L433.5,634.5 L469.5,630.5 L502.3,628.8 L535,630.5 L552.7,634.4 L585.5,644.2 L610,653.4 L626.4,662 L637.8,670.7 L642.7,682.2 L644.4,695.3 L641.1,701.8 L637.8,711.6 L644.4,718.2 L650.9,726.4 L652.5,734.5 L647.6,741.1 L657.5,757.5 L655.8,762.4 L650.9,764 L644.4,759.3 L641.1,767.5 L634.5,767.5 L618.2,764.2 L603.5,765.8 L596.9,774 L585.5,778.1 L572.4,774 L569.1,765.8 L564.2,747.8 L560.9,744.5 L535,742.5 L502.3,737.6 L469.5,727.8 L455,722.7 L436.8,715.5 L423.2,710 L411.4,702.7 L403.2,697.3 L398.6,698.2 L394.1,706.4 L389.5,718.2 L385,728.2 L378.6,733.6 L371.4,735.5 L366.8,731.8 L365.9,724.5 L366.4,713.6 L365,706.4 L366.8,699.1 L371.4,692.7 L374.1,684.5 L377.7,678.2Z" fill="#6b6b6b"/>
<path d="M416.5,660C417.4,658.6 419.4,652.8 422,651.5C424.6,650.2 429,652.3 432,652C435,651.7 435.3,650.6 440,649.5C444.7,648.4 454,646.5 460,645.5C466,644.5 466,643.3 476,643.5C486,643.7 509.3,645.8 520,646.5C530.7,647.2 533.3,647.1 540,648C546.7,648.9 553.3,650.3 560,652C566.7,653.7 574.7,656 580,658C585.3,660 588.7,662.2 592,664C595.3,665.8 597,667.2 600,669C603,670.8 608,673.2 610,675C612,676.8 611.7,679.2 612,680L610,682C606.7,681.7 595.7,680 590,680C584.3,680 581,680.5 576,682C571,683.5 566,687 560,689C554,691 545,692.5 540,694C535,695.5 533.3,696.8 530,698C526.7,699.2 523.3,700.7 520,701C516.7,701.3 513.3,700.9 510,700C506.7,699.1 505,696.5 500,695.5C495,694.5 486.7,694.9 480,694C473.3,693.1 466.7,692 460,690C453.3,688 445.7,684.5 440,682C434.3,679.5 429.7,677.5 426,675C422.3,672.5 419.3,668.3 418,667Z" fill="#ffffff"/>
<path d="M476,643.5 L476.5,662 L477.5,681 L482,684 L491,682 L520,646.5Z" fill="#737373"/>
<path d="M585.5,644.2 L610,653.4 L626.4,662 L637.8,670.7 L642.7,682.2 L644.4,695.3 L641.1,701.8 L625,700 L612,684 L610.8,677.3 L601.8,669Z" fill="#bfbfbf"/>
<path d="M415.5,662.4 L420.5,675.5 L436.8,683.6 L461.4,691 L502.3,695 L518.6,699.5 L528.2,698.5 L530,704 L500,702 L460,698 L430,690 L412,678Z" fill="#8c8c8c"/>
<path d="M637.8,711.6 L644.4,718.2 L650.9,726.4 L652.5,734.5 L647.6,741.1 L657.5,757.5 L655.8,762.4 L650.9,764 L640,745 L632,730Z" fill="#cccccc"/>
<path d="M560,743.5 L562,746 L533,766.5 L529,767 L527.5,764 L530,761Z" fill="#b2b2b2"/>
<!-- 31_frame_hw.shade -->
<path d="M425,615.2 L420.9,621.3 L412.7,621.3 L408.6,615.2 L412.7,609.1 L420.9,609.1Z" fill="#666666"/>
<ellipse cx="416.8" cy="614.7" rx="3.3" ry="2.4" fill="#d9d9d9"/>
<path d="M414.2,762.5 L419.4,762.5 L419.4,771.5 L414.2,771.5Z" fill="#8c8c8c"/>
<path d="M414.2,791 L419.4,791 L419.4,802.5 L414.2,802.5Z" fill="#8c8c8c"/>
<path d="M407.3,773.5 L409.3,771.5 L424.3,771.5 L426.3,773.5 L426.3,789 L423.8,791 L409.8,791 L407.3,789Z" fill="#737373"/>
<path d="M425.3,820.8 L421.3,826.9 L413.3,826.9 L409.3,820.8 L413.3,814.7 L421.3,814.7Z" fill="#666666"/>
<ellipse cx="417.3" cy="820.3" rx="3.2" ry="2.4" fill="#d9d9d9"/>
<path d="M630.5,638 L632.9,633.1 L639.5,631.1 L645.2,633.1 L647.6,640.5 L647.3,649.5 L642.7,652.7 L634.5,652.7 L630,648.6Z" fill="#808080"/>
<path d="M636.2,652.7 L641.9,652.7 L641.9,660.1 L636.2,660.1Z" fill="#999999"/>
<ellipse cx="689.4" cy="763.4" rx="8" ry="6.6" fill="#b2b2b2"/>
<ellipse cx="689.4" cy="762" rx="4.6" ry="3.4" fill="#fff"/>
<path d="M697.2,785.8 L693.7,791.4 L686.7,791.4 L683.2,785.8 L686.7,780.2 L693.7,780.2Z" fill="#737373"/>
<ellipse cx="690.2" cy="785.3" rx="2.8" ry="2.3" fill="#d9d9d9"/>
<path d="M624.2,790.1 L630.4,790.1 L630.4,802.6 L628.8,803.6 L625.8,803.6 L624.2,802.6Z" fill="#a6a6a6"/>
<path d="M621.5,786.1 L623.5,784.6 L631,784.6 L633,786.1 L633,788.6 L631.5,790.1 L623,790.1 L621.5,788.6Z" fill="#b8b8b8"/>
<ellipse cx="627.3" cy="817.4" rx="8.2" ry="5.2" fill="#d9d9d9"/>
<!-- 40_bracket.shade -->
<path d="M251.5,977.5 L255,968 L264.5,961 L276,955.5 L288.2,952.6 L311.8,952 L335.5,952.6 L354.4,947.4 L366.2,955 L392.2,958.5 L396.9,968 L396.9,979.8 L402.8,989.3 L400.5,1001 L396.9,1003.5 L396.9,1024.7 L401.2,1027 L398.1,1031.8 L398.1,1035.5 L394.6,1059.1 L382.7,1078 L366.2,1099.3 L349.6,1111.1 L326,1113.5 L313,1110 L313,1104 L326,1104 L328.4,1094.5 L330.7,1078 L329.5,1059.1 L323.6,1035.5 L316.5,1022.4 L302.4,996.4 L292.9,979.8 L283.5,976.3 L271.6,984.5 L269.3,1008.2 L269.3,1030.7 L264.5,1047.3 L256.3,1059.1 L256.3,1094.5 L262.2,1108.7 L262.2,1137.1 L251.5,1146.5 L249.2,1144.2 L248,1137.1 L239.7,1131.2 L240.9,1126.5 L249.2,1122.9 L250.4,1106.4 L249.2,1070.9 L249.2,1035.5 L250.4,1008.2Z" fill="#666666"/>
<path d="M251.5,977.5 L255,968 L264.5,961 L276,955.5 L288.2,952.6 L311.8,952 L312,958 L290,960 L275,966 L266,975 L262,990 L260,1040 L249.2,1043 L250.4,1008.2Z" fill="#999999"/>
<path d="M391,982 L396.9,979.8 L402.8,989.3 L400.5,1001 L396.9,1003.5 L391,1001Z" fill="#d9d9d9"/>
<path d="M311.5,968 L324,966.5 L324.5,975.5 L312.5,978Z" fill="#ffffff"/>
<path d="M372,980 L389,984 L390,1000 L372,996Z" fill="#ffffff"/>
<path d="M352.5,1023 L369,1024 L369,1042 L353,1040Z" fill="#ffffff"/>
<!-- 41_bracket_hw.shade -->
<path d="M242.1,912.5 L264.5,920.3 L266,924.3 L264.1,927.8 L242.1,920.7Z" fill="#999999"/>
<path d="M234.3,914.8 L237.4,910.1 L241.6,911.7 L243.3,917.9 L240.4,922.1 L235.7,920.3Z" fill="#b2b2b2"/>
<path d="M199.5,997.5 L203.1,992.8 L207.8,991.6 L213.7,994 L216.8,998.7 L216.8,1005.8 L213.7,1009.4 L201.9,1009.4 L198.8,1005.8Z" fill="#737373"/>
<path d="M203.1,1009.4 L213,1009.4 L212.5,1017.6 L209,1020 L204.3,1017.6Z" fill="#808080"/>
<ellipse cx="207.8" cy="1033.9" rx="9" ry="6.6" fill="#e0e0e0"/>
<path d="M215.8,1056.4 L211.8,1062.6 L203.8,1062.6 L199.8,1056.4 L203.8,1050.2 L211.8,1050.2Z" fill="#a6a6a6"/>
<ellipse cx="207.8" cy="1055.9" rx="3.2" ry="2.5" fill="#d9d9d9"/>
<path d="M218.1,1091.1 L224.7,1091.1 L224.7,1103.2 L223.1,1104.2 L219.8,1104.2 L218.1,1103.2Z" fill="#a6a6a6"/>
<path d="M215.4,1085.1 L217.4,1083.6 L225.4,1083.6 L227.4,1085.1 L227.4,1089.6 L225.9,1091.1 L216.9,1091.1 L215.4,1089.6Z" fill="#b8b8b8"/>
<ellipse cx="221.5" cy="1117.7" rx="8.4" ry="5.2" fill="#d9d9d9"/>
<!-- 50_housing.shade -->
<path d="M540.4,1098C540.7,1095.6 540.8,1087.6 542.1,1083.8C543.4,1080.1 545.8,1077.3 548,1075.5C550.2,1073.8 553.9,1073.6 555.1,1073.2L564.5,1075.5 L579.9,1079.1L578.7,1170.9 L577.5,1238.3 L574,1237.1 L566.9,1244.2 L559.8,1244.2 L557.5,1237.1 L558.6,1222.9 L545.6,1220.5 L540.4,1213.5Z" fill="#adadad"/>
<path d="M562.2,1066.1 L633.1,1043.6L633.1,1043.6C634.2,1043 637.4,1040.6 639.5,1039.8C641.6,1039 643.8,1038.8 646,1038.7C648.2,1038.6 649.8,1038.2 652.6,1039.1C655.4,1040 659.8,1042.3 663,1044.3C666.2,1046.2 668.8,1048.4 672,1050.8C675.2,1053.2 679.9,1055.7 682.5,1058.7C685.1,1061.7 686.6,1064.6 687.7,1069C688.8,1073.4 688.8,1082.3 689,1085L688.6,1196.1 L675.6,1200.8 L659.1,1194.9 L656.7,1190.2 L654.4,1063.7 L647.3,1059.7 L602.4,1081.9 L590.5,1091.4 L587,1102.7 L587,1170.9 L588.2,1227.6 L600,1228.8 L598.8,1232.4 L590.5,1238.3 L577.5,1238.3 L578.7,1114.5 L579.9,1079.1 L564.5,1075.5 L563.4,1070.8Z" fill="#b2b2b2"/>
<path d="M654.4,1063.7 L663.8,1060.2 L678,1067.3 L681.5,1081.5 L682.7,1194.9 L675.6,1200.8 L659.1,1194.9 L656.7,1190.2Z" fill="#a3a3a3"/>
<path d="M587.5,1148.8 L598.8,1156.6 L602.4,1161.3 L599.5,1167 L595.3,1167 L587.5,1163Z" fill="#bfbfbf"/>
<!-- 51_housing_hw.shade -->
<path d="M513.7,1200.4 L520.3,1200.4 L520.3,1210.6 L518.6,1211.6 L515.4,1211.6 L513.7,1210.6Z" fill="#a6a6a6"/>
<path d="M510.8,1193.9 L512.8,1192.4 L521.2,1192.4 L523.2,1193.9 L523.2,1198.9 L521.8,1200.4 L512.2,1200.4 L510.8,1198.9Z" fill="#b8b8b8"/>
<ellipse cx="517.3" cy="1225.6" rx="8.4" ry="5.2" fill="#cccccc"/>
<path d="M978,1215.6 L981,1213.6 L990,1218 L989,1223.6 L979,1220Z" fill="#8c8c8c"/>
<ellipse cx="993.2" cy="1222.4" rx="5.2" ry="6.4" fill="#b2b2b2" transform="rotate(15 993.2 1222.4)"/>
<!-- 52_cover.shade -->
<path d="M837,1184 L839,1172 L846,1160 L860,1152 L880,1144 L900,1134 L920,1124 L932,1120 L944,1122 L952,1127 L953.6,1140 L953,1180 L952.4,1191 L949,1194 L944.7,1196.4 L943.6,1202 L943.6,1216 L949,1218.5 L951.3,1221 L951.3,1240 L951.5,1274 L953.5,1277 L953.5,1280.5 L950.2,1284.7 L938.2,1293.5 L930,1300 L900,1316 L870,1328 L846,1335 L837,1334 L835,1328 L836,1280 L836,1220Z" fill="#737373"/>
<g clip-path="url(#covClip)">
<ellipse cx="858" cy="1166" rx="14" ry="8" fill="#fff" fill-opacity="0.45" filter="url(#blur3)" transform="rotate(-25 858 1166)"/>
<ellipse cx="935" cy="1135" rx="16" ry="10" fill="#fff" fill-opacity="0.35" filter="url(#blur3)"/>
<ellipse cx="905" cy="1290" rx="40" ry="14" fill="#fff" fill-opacity="0.3" filter="url(#blur3)" transform="rotate(-25 905 1290)"/>
<ellipse cx="938" cy="1240" rx="10" ry="30" fill="#fff" fill-opacity="0.3" filter="url(#blur3)"/>
</g>
<path d="M894,1151 L918,1144.4 L920,1158 L912,1166 L896.4,1167Z" fill="#525252"/>
<!-- 90_specks.shade -->

<rect x="0" y="0" width="1100" height="1382" fill="url(#bn)" opacity="0.5"/>
</g>
<g id="lines">
<!-- 10_cowl.line -->
<path class="o" style="stroke-width:1.2" d="M482,102C485,102 492.8,101.8 500,102.3C507.2,102.8 512.5,103.3 525,105C537.5,106.7 558.3,109.4 575,112.5C591.7,115.6 608.3,119.7 625,123.7C641.7,127.7 658.3,131.3 675,136.5C691.7,141.7 710.4,148.7 725,155C739.6,161.3 752.1,167.9 762.5,174.5C772.9,181.1 780.8,188 787.5,194.5C794.2,201 799.2,206.8 803,213.5C806.8,220.2 809.2,231.4 810.5,235L810.5,235C811.1,239.5 813,252.8 814,262C815,271.2 815.8,280.7 816.5,290C817.2,299.3 818.5,310.3 818.5,318C818.5,325.7 817.8,330.7 816.5,336C815.2,341.3 813.2,345 810.5,350C807.8,355 803.4,361 800,366C796.6,371 793,376 790,380C787,384 783.3,388.3 782,390L782,390 L775,391 L768,391 L764,394 L764,410 L760,420L760,420C758,422.2 752.2,428.5 748,433C743.8,437.5 740.5,442.6 735,447C729.5,451.4 722.5,455.9 715,459.5C707.5,463.1 700.8,466.1 690,468.5C679.2,470.9 663,473.1 650,473.8C637,474.5 624.5,474.3 612,472.5C599.5,470.7 587.5,466.9 575,463C562.5,459.1 549.5,453.8 537,449C524.5,444.2 512.5,439.3 500,434C487.5,428.7 474.5,423.2 462,417C449.5,410.8 437.5,404 425,397C412.5,390 397.5,382.5 387,375C376.5,367.5 368.8,359.5 362,352C355.2,344.5 350,337.8 346,330C342,322.2 340.5,313.3 338,305C335.5,296.7 332.8,289.2 331,280C329.2,270.8 328.1,259.7 327,250C325.9,240.3 324.9,226.7 324.5,222L324.5,222C324.4,220 323.9,213.2 323.9,210C323.9,206.8 323.6,205.1 324.5,202.5C325.4,199.9 326.6,198.2 329.6,194.7C332.6,191.2 336.4,187 342.7,181.6C349,176.2 359.1,168 367.3,162C375.5,156 382.3,151.3 391.8,145.6C401.3,139.9 413.6,133.3 424.5,127.6C435.4,121.9 449.1,115.2 457.3,111.3C465.5,107.4 469.5,105.5 473.6,104C477.7,102.5 480.6,102.3 482,102Z"/>
<path class="o" style="stroke-width:1.2" d="M332.9,194.7C335.9,192 343.8,184.1 350.9,178.4C358,172.7 365.9,167 375.5,160.4C385.1,153.8 397.3,145.4 408.2,139.1C419.1,132.8 433.3,126.1 440.9,122.7C448.5,119.3 451.8,119.3 454,118.6"/>
<path class="o" style="stroke-width:1.0" d="M359.1,196.4C356.9,197.1 350.1,200 346,200.5C341.9,201 336.7,200.6 334.5,199.6C332.3,198.6 333.2,195.5 332.9,194.7"/>
<path class="w" style="stroke-width:1.0" d="M574.5,365.6C580.4,366.1 599.1,368.3 610,368.5C620.9,368.7 632.1,367.8 640,367C647.9,366.2 654.6,364.5 657.5,364"/>
<path class="w" style="stroke-width:1.6" d="M378.5,289.3C382.1,290.9 388.1,293.4 400,299C411.9,304.6 433.3,315.5 450,323C466.7,330.5 483.3,337.8 500,344C516.7,350.2 537.6,356.4 550,360C562.4,363.6 570.4,364.7 574.5,365.6"/>
<path class="o" style="stroke-width:1.0" d="M336.6,266C339.3,267.3 345.5,270.4 352.6,274C359.7,277.6 371.1,283.5 379.1,287.3C387.1,291.1 388.7,291.4 400.6,297C412.5,302.6 433.9,313.5 450.6,321C467.3,328.5 483.9,335.8 500.6,342C517.3,348.2 538.2,354.4 550.6,358C563,361.6 571,362.7 575.1,363.6"/>
<path class="w" style="stroke-width:1.3" d="M383.6,225.8C386.3,227.3 388.9,229.1 400,235C411.1,240.9 433.3,252.2 450,261C466.7,269.8 485,279.8 500,288C515,296.2 525.5,302.2 540,310C554.5,317.8 579.2,330.8 587,335"/>
<path class="w" style="stroke-width:1.1" d="M587,335C591.2,337.5 603.7,345.8 612.5,350C621.3,354.2 632.5,358.2 640,360.5C647.5,362.8 649.6,363.4 657.5,364C665.4,364.6 677.9,365.5 687.5,364C697.1,362.5 706.7,359.8 715,355C723.3,350.2 730,341.2 737.5,335C745,328.8 756.2,320.4 760,317.5"/>
<path class="o" style="stroke-width:0.8" d="M325,206.5 L337,207.5 L347,207.5"/>
<path d="M763,359.5L765,356.5L769,356.3L770.3,360L771,369L764.3,375.2Z" fill="#fff"/>
<path class="o" style="stroke-width:1.1" d="M764.3,375.2 L771,369 L772,362"/>
<path class="w" style="stroke-width:0.9" d="M763,345 L763,356"/>
<path class="w" style="stroke-width:0.9" d="M750,327 L750.5,340"/>
<path class="w" style="stroke-width:1.0" d="M763,317 L766,323 L780,328"/>
<path class="w" style="stroke-width:0.9" d="M776,360 L782,380 L802,348"/>
<path class="o" style="stroke-width:1.1" d="M784.5,381 L803.5,350"/>
<path class="o" style="stroke-width:0.9" d="M779,352 L795,348"/>
<path class="w" style="stroke-width:0.9" d="M685.9,366.4C690.5,364.9 705.1,362.2 713.4,357.4C721.7,352.6 728.4,343.6 735.9,337.4C743.4,331.1 754.6,322.8 758.4,319.9"/>
<!-- 20_p06.line -->
<path class="o" style="stroke-width:1.6" d="M373.2,31.5 L378.1,36.4 L380.2,52.7 L379.2,62.5 L381.4,57.6 L382.2,48.6 L393.6,47.8 L396.9,55.2 L392,64.2 L380.5,72.4 L374,83.8 L373.2,108.4 L369.1,111.6 L349.5,109.2 L336.4,118.2 L311.8,131.3 L292.2,141.1 L279.1,146 L272.5,152.5 L264.4,154.2 L260.3,149.3 L261.1,139.5 L251.3,141.9 L245.5,134.5 L243.9,128 L248,123.9 L267.6,123.1 L279.1,114.9 L295.5,101.8 L311.8,88.7 L328.2,75.6 L344.5,64.2 L360.9,52.7 L366.6,47.8 L367.5,36.4 L370.7,32.3Z"/>
<path class="o" style="stroke-width:1.0" d="M269.3,122.8 L295.5,116.5 L320,105.1 L344.5,89.5 L364.2,74 L374,62.5 L377.3,52.7 L376.5,38"/>
<path class="o" style="stroke-width:1.0" d="M261.1,139.5 L272.5,144.4 L282.4,140.3 L285.6,136.2"/>
<path class="o" style="stroke-width:1.0" d="M349.5,109.2 L351.1,103.5 L360.9,105.1 L370.7,92 L373.7,84.6"/>
<circle class="o" style="fill:#111;stroke-width:0.8;" cx="391.7" cy="52.1" r="1.7"/>
<circle class="o" style="fill:#111;stroke-width:0.8;" cx="368.3" cy="104.3" r="1.7"/>
<circle class="o" style="fill:#111;stroke-width:0.8;" cx="267.6" cy="146.8" r="1.7"/>
<!-- 21_small_tl.line -->
<ellipse class="o" style="stroke-width:1.6;" cx="269.2" cy="171.8" rx="5.7" ry="4.4"/>
<ellipse class="o" style="stroke-width:1.36;" cx="269.2" cy="171.8" rx="2.6" ry="2"/>
<path class="o" style="stroke-width:1.6" d="M268,186.4 L269.5,185.4 L272.5,185.4 L274,186.4 L274,198.3 L268,198.3Z"/>
<path class="o" style="stroke-width:1.6" d="M265.2,199.8 L266.8,198.3 L275.2,198.3 L276.8,199.8 L276.8,204.3 L274.8,205.8 L267.2,205.8 L265.2,204.3Z"/>
<path class="o" style="stroke-width:0.9" d="M268,187.4L274,188.2"/>
<path class="o" style="stroke-width:0.9" d="M268,189.6L274,190.4"/>
<path class="o" style="stroke-width:0.9" d="M268,191.8L274,192.6"/>
<path class="o" style="stroke-width:0.9" d="M268,194L274,194.8"/>
<path class="o" style="stroke-width:0.9" d="M268,196.2L274,197"/>
<path class="o" style="stroke-width:1.7" d="M264.9,226.5 L279.6,229 L282.9,238 L284.5,242.9 L293.5,245.4 L295.7,248.6 L294.4,254.4 L268.2,275.6 L243.6,293.6 L220.7,311.6 L214.2,309.2 L192.9,281.4 L219.1,260.9 L243.6,242.9Z"/>
<path class="o" style="stroke-width:0.9" d="M198.1,279.2 L218.8,308 L220.7,311.6"/>
<path class="w" style="stroke-width:1.0" d="M198.1,279.2 L266.5,229"/>
<path class="o" style="stroke-width:0.9" d="M218.8,308 L293.5,250.3"/>
<path class="w" style="stroke-width:0.9" d="M212.5,296.9 L282.9,241.3"/>
<path class="o" style="stroke-width:0.7" d="M205.2,287.1 L276.4,233.1"/>
<ellipse class="o" style="stroke-width:1.6;" cx="212.6" cy="328.2" rx="6.3" ry="5.3"/>
<ellipse class="o" style="stroke-width:1.36;" cx="212.6" cy="328.2" rx="3.1" ry="2.6"/>
<path class="o" style="stroke-width:1.6" d="M213,339.6 L214.5,338.6 L217.5,338.6 L219,339.6 L219,353.5 L213,353.5Z"/>
<path class="o" style="stroke-width:1.6" d="M209.8,355 L211.2,353.5 L220.8,353.5 L222.2,355 L222.2,360 L220.2,361.5 L211.8,361.5 L209.8,360Z"/>
<path class="o" style="stroke-width:0.9" d="M213,340.6L219,341.4"/>
<path class="o" style="stroke-width:0.9" d="M213,342.8L219,343.6"/>
<path class="o" style="stroke-width:0.9" d="M213,345L219,345.8"/>
<path class="o" style="stroke-width:0.9" d="M213,347.2L219,348"/>
<path class="o" style="stroke-width:0.9" d="M213,349.4L219,350.2"/>
<path class="o" style="stroke-width:0.9" d="M213,351.6L219,352.4"/>
<!-- 22_small_tr.line -->
<path class="o" style="stroke-width:1.2" d="M774.4,128 L802.2,138.8 L803.5,144.8 L800.2,149.7 L775.2,139.4Z"/>
<path class="o" style="stroke-width:1.6" d="M763.7,129.3 L768.6,122.7 L774.4,126.3 L775.7,137.5 L770.8,141.1 L764.5,137.8Z"/>
<path class="o" style="stroke-width:0.7" d="M778.5,130.1L778,139.9"/>
<path class="o" style="stroke-width:0.7" d="M782.5,131.7L782.1,141.5"/>
<path class="o" style="stroke-width:0.7" d="M786.6,133.4L786.1,143.2"/>
<path class="o" style="stroke-width:0.7" d="M790.7,135L790.2,144.8"/>
<path class="o" style="stroke-width:0.7" d="M794.8,136.6L794.3,146.5"/>
<path class="o" style="stroke-width:0.7" d="M798.9,138.3L798.4,148.1"/>
<ellipse class="o" style="stroke-width:1.6;" cx="814.5" cy="148.6" rx="4.6" ry="8.2" transform="rotate(18 814.5 148.6)"/>
<ellipse class="o" style="stroke-width:1.36;" cx="814.5" cy="148.6" rx="2.3" ry="4.1" transform="rotate(18 814.5 148.6)"/>
<path class="o" style="stroke-width:1.6" d="M848.8,139.1 L852.9,137.5 L857.8,139.1 L860.3,152.2 L859.5,165.3 L855.4,183.3 L839.8,179.2 L834.1,178.4 L830.8,160.4 L838.2,157.1 L840.6,166.9 L846.4,160.4 L849.6,153.8Z"/>
<path class="o" style="stroke-width:0.9" d="M838.2,157.1 L839.8,179.2"/>
<path class="o" style="stroke-width:0.9" d="M852.9,137.5 L854.5,153.8 L844.7,175.1"/>
<path class="o" style="stroke-width:0.8" d="M840.6,166.9 L844.7,175.1 L855.4,183.3"/>
<path class="o" style="stroke-width:1.6" d="M881.5,166.9C882,166 882.6,162.5 884,161.2C885.4,159.8 887.8,158.9 889.7,158.7C891.6,158.6 893.9,159 895.5,160.4C897,161.7 898.5,165.8 899.1,166.9L899.1,166.9 L899.5,188.2 L882.4,196.4 L880.7,175.1 L881.5,166.9Z"/>
<circle class="o" style="stroke-width:1.0;" cx="889.7" cy="169.4" r="2.6"/>
<path class="o" style="stroke-width:0.7" d="M884,162 L883.7,194.7"/>
<!-- 23_small_rm.line -->
<path class="o" style="stroke-width:1.7" d="M824.4,394.5 L830.9,390 L836.6,392.1 L853.8,417.5 L866.9,440.4 L877.5,458.4 L875.1,466.5 L870.2,468.2 L864.5,463.3 L860.4,456.7 L852.2,443.6 L870.2,476.4 L869.4,482.9 L864.5,487.5 L859.5,484.5 L837.5,446.9 L822.7,422.4 L817.8,417.5 L817,410.9 L821.1,406Z"/>
<path class="o" style="stroke-width:1.0" d="M828.5,394.5 L844,419.1 L852.2,443.6"/>
<path class="w" style="stroke-width:0.9" d="M832.5,396.2 L848.9,430.5 L871.8,466.5"/>
<path class="w" style="stroke-width:0.9" d="M825.2,407.6 L844,435.5 L864.5,484.5"/>
<path class="o" style="stroke-width:0.9" d="M822.7,422.4 L832.5,419.1"/>
<path class="o" style="stroke-width:0.9" d="M837.5,446.9 L844.8,442.8"/>
<path class="o" style="stroke-width:0.9" d="M848.9,430.5 L857.1,427.3"/>
<circle class="o" style="fill:#ddd;stroke-width:0.9;" cx="821.9" cy="415" r="2.6"/>
<path class="o" style="stroke-width:1.7" d="M875.1,394.5 L880,392.6 L885.7,397 L896.4,415.8 L907.8,435.5 L915.2,447.7 L915.2,451.8 L911.9,460.8 L907,461.6 L894.7,450.2 L880.8,438.7 L876.7,432.2 L870.2,410.9 L871,402.7Z"/>
<path class="o" style="stroke-width:0.8" d="M871,405.2 L878.4,401.1 L885.7,397"/>
<ellipse class="o" style="stroke-width:0.9;" cx="910.3" cy="448.5" rx="3.2" ry="2.4" transform="rotate(30 910.3 448.5)"/>
<path class="o" style="stroke-width:1.0" d="M857,495.3 L859.6,496.6 L846.6,524.4 L844,523.2Z"/>
<!-- 30_frame.line -->
<path class="o" style="stroke-width:1.7" d="M376.8,672.7 L377.7,662.7 L382.3,659.1 L391.4,654.5 L400.5,650 L410.6,645.2 L433.5,634.5 L469.5,630.5 L502.3,628.8 L535,630.5 L552.7,634.4 L585.5,644.2 L610,653.4 L626.4,662 L637.8,670.7 L642.7,682.2 L644.4,695.3 L641.1,701.8 L637.8,711.6 L644.4,718.2 L650.9,726.4 L652.5,734.5 L647.6,741.1 L657.5,757.5 L655.8,762.4 L650.9,764 L644.4,759.3 L641.1,767.5 L634.5,767.5 L618.2,764.2 L603.5,765.8 L596.9,774 L585.5,778.1 L572.4,774 L569.1,765.8 L564.2,747.8 L560.9,744.5 L535,742.5 L502.3,737.6 L469.5,727.8 L455,722.7 L436.8,715.5 L423.2,710 L411.4,702.7 L403.2,697.3 L398.6,698.2 L394.1,706.4 L389.5,718.2 L385,728.2 L378.6,733.6 L371.4,735.5 L366.8,731.8 L365.9,724.5 L366.4,713.6 L365,706.4 L366.8,699.1 L371.4,692.7 L374.1,684.5 L377.7,678.2Z"/>
<path d="M416,650C415.8,651.5 414.5,656.3 414.5,659.1C414.5,661.9 414.9,664.6 416,667C417.1,669.4 418.8,671.6 421,673.5C423.2,675.4 424.8,676.8 429,678.5C433.2,680.2 440.7,682.4 446,684C451.3,685.6 458.5,687.3 461,688" fill="none" stroke="#fff" stroke-width="4"/>
<path class="o" style="stroke-width:1.2" d="M414,648C413.7,648.7 412.7,650.1 412.3,652C411.9,653.9 411.2,656.4 411.4,659.1C411.5,661.8 412,665.5 413.2,668.2C414.4,670.9 416.2,673.4 418.6,675.5C421,677.6 423.1,679.1 427.7,680.9C432.2,682.7 440.3,684.9 445.9,686.4C451.4,687.9 458.5,689.4 461,690"/>
<path class="o" style="stroke-width:1.3" d="M416.5,660C417.4,658.6 419.4,652.8 422,651.5C424.6,650.2 429,652.3 432,652C435,651.7 435.3,650.6 440,649.5C444.7,648.4 454,646.5 460,645.5C466,644.5 466,643.3 476,643.5C486,643.7 509.3,645.8 520,646.5C530.7,647.2 533.3,647.1 540,648C546.7,648.9 553.3,650.3 560,652C566.7,653.7 574.7,656 580,658C585.3,660 588.7,662.2 592,664C595.3,665.8 597,667.2 600,669C603,670.8 608,673.2 610,675C612,676.8 611.7,679.2 612,680L610,682C606.7,681.7 595.7,680 590,680C584.3,680 581,680.5 576,682C571,683.5 566,687 560,689C554,691 545,692.5 540,694C535,695.5 533.3,696.8 530,698C526.7,699.2 523.3,700.7 520,701C516.7,701.3 513.3,700.9 510,700C506.7,699.1 505,696.5 500,695.5C495,694.5 486.7,694.9 480,694C473.3,693.1 466.7,692 460,690C453.3,688 445.7,684.5 440,682C434.3,679.5 429.7,677.5 426,675C422.3,672.5 419.3,668.3 418,667Z"/>
<path class="o" style="stroke-width:1.1" d="M476,643.5 L476.5,662 L477.5,681 L482,684 L491,682 L520,646.5Z"/>
<path class="o" style="stroke-width:0.9" d="M384,668C385.8,666.7 390,663.2 395,660C400,656.8 407.2,652.5 414,649C420.8,645.5 426.7,641.3 436,639C445.3,636.7 459,635.9 470,635C481,634.1 491.2,633.5 502,633.5C512.8,633.5 525.3,633.9 535,635C544.7,636.1 550.8,637.5 560,640C569.2,642.5 581.7,646.7 590,650C598.3,653.3 606.7,658.3 610,660"/>
<path class="o" style="stroke-width:0.9" d="M402.5,699.2C404.1,697.7 409.8,693.5 412,690C414.2,686.5 415.3,680 416,678"/>
<path class="o" style="stroke-width:0.9" d="M412,682C416.1,683.7 428.6,689.2 436.8,692C445,694.8 450.5,697 461.4,699C472.3,701 490.9,702.8 502.3,704C513.7,705.2 520.4,706 530,706C539.6,706 555,704.3 560,704"/>
<path class="w" style="stroke-width:0.9" d="M420,697C425,698.8 438.3,704.3 450,708C461.7,711.7 475.8,715.7 490,719C504.2,722.3 522.5,725.8 535,728C547.5,730.2 560,731.3 565,732"/>
<path class="o" style="stroke-width:0.9" d="M377,675.5C379.2,676.2 385.8,677.6 390,680C394.2,682.4 400.4,688.3 402.5,690"/>
<path class="o" style="stroke-width:1.6" d="M377.5,696 L377,720"/>
<path class="w" style="stroke-width:0.9" d="M372,700 L373,726"/>
<path class="o" style="stroke-width:1.4" d="M383,682 L398,691 L403,697"/>
<path class="w" style="stroke-width:1.2" d="M383,686 L396,694"/>
<path class="o" style="stroke-width:1.0" d="M564.2,747.8C566,745.7 570.7,738.3 575,735C579.3,731.7 584.2,728.8 590,728C595.8,727.2 604.2,728.3 610,730C615.8,731.7 619.8,734.3 625,738C630.2,741.7 638.3,749.7 641,752"/>
<path class="w" style="stroke-width:0.9" d="M575,745C576.7,744.2 580.8,740.5 585,740C589.2,739.5 595.5,740.3 600,742C604.5,743.7 609,746.3 612,750C615,753.7 617,761.7 618,764"/>
<path class="o" style="stroke-width:0.9" d="M610.8,677.3C612.7,679.4 618.5,685.2 622,690C625.5,694.8 630.3,703.3 632,706"/>
<path class="o" style="stroke-width:0.9" d="M572,748 L576,772"/>
<path class="o" style="stroke-width:2.2" d="M585,756 L594,754"/>
<path class="o" style="stroke-width:2.0" d="M598,752 L602,760"/>
<path class="o" style="stroke-width:2.2" d="M646,740 L652,745"/>
<rect x="637.5" y="757" width="4" height="10" rx="2" fill="#fff" stroke="#111" stroke-width="0.8"/>
<ellipse class="o" style="stroke-width:0.9;" cx="583" cy="771" rx="5" ry="2.4"/>
<path class="o" style="stroke-width:1.0" d="M560,743.5 L562,746 L533,766.5 L529,767 L527.5,764 L530,761Z"/>
<ellipse class="o" style="stroke-width:0.9;" cx="530.6" cy="764.6" rx="3.2" ry="2.2" transform="rotate(-35 530.6 764.6)"/>
<!-- 31_frame_hw.line -->
<path class="o" style="stroke-width:1.6" d="M425,615.2 L420.9,621.3 L412.7,621.3 L408.6,615.2 L412.7,609.1 L420.9,609.1Z"/>
<ellipse class="o" style="stroke-width:1.2800000000000002;" cx="416.8" cy="614.7" rx="3.4" ry="2.5"/>
<path class="o" style="stroke-width:0.8" d="M412.7,621.2L413.1,617.7"/>
<path class="o" style="stroke-width:0.8" d="M420.9,621.2L420.5,617.7"/>
<path class="o" style="stroke-width:1.0" d="M414.2,762.5 L419.4,762.5 L419.4,771.5 L414.2,771.5Z"/>
<path class="o" style="stroke-width:0.7" d="M414.2,764L419.4,764.6"/>
<path class="o" style="stroke-width:0.7" d="M414.2,766L419.4,766.6"/>
<path class="o" style="stroke-width:0.7" d="M414.2,768L419.4,768.6"/>
<path class="o" style="stroke-width:0.7" d="M414.2,770L419.4,770.6"/>
<path class="o" style="stroke-width:1.0" d="M414.2,791 L419.4,791 L419.4,802.5 L414.2,802.5Z"/>
<path class="o" style="stroke-width:0.7" d="M414.2,792.5L419.4,793.1"/>
<path class="o" style="stroke-width:0.7" d="M414.2,794.5L419.4,795.1"/>
<path class="o" style="stroke-width:0.7" d="M414.2,796.5L419.4,797.1"/>
<path class="o" style="stroke-width:0.7" d="M414.2,798.5L419.4,799.1"/>
<path class="o" style="stroke-width:0.7" d="M414.2,800.5L419.4,801.1"/>
<path class="o" style="stroke-width:1.3" d="M407.3,773.5 L409.3,771.5 L424.3,771.5 L426.3,773.5 L426.3,789 L423.8,791 L409.8,791 L407.3,789Z"/>
<ellipse class="o" style="stroke-width:0.8;" cx="416.8" cy="773.7" rx="8.9" ry="2"/>
<path class="o" style="stroke-width:1.6" d="M425.3,820.8 L421.3,826.9 L413.3,826.9 L409.3,820.8 L413.3,814.7 L421.3,814.7Z"/>
<ellipse class="o" style="stroke-width:1.2800000000000002;" cx="417.3" cy="820.3" rx="3.4" ry="2.5"/>
<path class="o" style="stroke-width:0.8" d="M413.3,826.8L413.7,823.2"/>
<path class="o" style="stroke-width:0.8" d="M421.3,826.8L420.9,823.2"/>
<path class="o" style="stroke-width:1.3" d="M630.5,638 L632.9,633.1 L639.5,631.1 L645.2,633.1 L647.6,640.5 L647.3,649.5 L642.7,652.7 L634.5,652.7 L630,648.6Z"/>
<path class="o" style="stroke-width:1.0" d="M636.2,652.7 L641.9,652.7 L641.9,660.1 L636.2,660.1Z"/>
<path class="o" style="stroke-width:0.9" d="M630.5,640.5 L638.6,642.9 L647.6,640.5"/>
<path class="o" style="stroke-width:0.8" d="M634.5,633.9 L634.5,638 L642.7,638 L642.7,633.9"/>
<path class="dash" style="stroke-width:2.8;stroke-dasharray:10 3.5" d="M637.8,664L637.8,735"/>
<path class="dash" style="stroke-width:2.4;stroke-dasharray:6 4.5" d="M668.9,740.3C676,738 681,740 684,745.5C686,749 687,753 687,756"/>
<path d="M687,755.5L687,763.5" stroke="#111" stroke-width="2.6" fill="none"/>
<ellipse class="o" style="stroke-width:1.4;" cx="689.4" cy="763.4" rx="8" ry="6.6"/>
<ellipse class="o" style="stroke-width:1.1;" cx="689.4" cy="762" rx="4.8" ry="3.5"/>
<path class="o" style="stroke-width:1.6" d="M697.2,785.8 L693.7,791.4 L686.7,791.4 L683.2,785.8 L686.7,780.2 L693.7,780.2Z"/>
<ellipse class="o" style="stroke-width:1.2800000000000002;" cx="690.2" cy="785.3" rx="2.9" ry="2.3"/>
<path class="o" style="stroke-width:0.8" d="M686.7,791.3L687.1,788.1"/>
<path class="o" style="stroke-width:0.8" d="M693.7,791.3L693.4,788.1"/>
<path class="o" style="stroke-width:1.6" d="M624.2,790.1 L630.4,790.1 L630.4,802.6 L628.8,803.6 L625.8,803.6 L624.2,802.6Z"/>
<path class="o" style="stroke-width:1.6" d="M621.5,786.1 L623.5,784.6 L631,784.6 L633,786.1 L633,788.6 L631.5,790.1 L623,790.1 L621.5,788.6Z"/>
<path class="o" style="stroke-width:0.9" d="M624.2,792.1L630.4,792.9"/>
<path class="o" style="stroke-width:0.9" d="M624.2,794.3L630.4,795.1"/>
<path class="o" style="stroke-width:0.9" d="M624.2,796.5L630.4,797.3"/>
<path class="o" style="stroke-width:0.9" d="M624.2,798.7L630.4,799.5"/>
<path class="o" style="stroke-width:0.9" d="M624.2,800.9L630.4,801.7"/>
<ellipse class="o" style="stroke-width:1.5;" cx="627.3" cy="817.4" rx="8.2" ry="5.2"/>
<ellipse class="o" style="fill:#fff;stroke-width:1.1;" cx="627.3" cy="817.2" rx="4.8" ry="2.6"/>
<path class="dash" style="stroke-width:3.2;stroke-dasharray:9 4" d="M605.9,765L605.9,838C606.5,841.5 611,843.5 614,843.5C620,843.5 626.4,838 626.4,832L626.4,826"/>
<!-- 40_bracket.line -->
<path class="o" style="stroke-width:1.3" d="M311.5,968 L324,966.5 L324.5,975.5 L312.5,978Z"/>
<path class="o" style="stroke-width:1.3" d="M372,980 L389,984 L390,1000 L372,996Z"/>
<path class="o" style="stroke-width:1.3" d="M352.5,1023 L369,1024 L369,1042 L353,1040Z"/>
<path class="o" style="stroke-width:1.8" d="M251.5,977.5 L255,968 L264.5,961 L276,955.5 L288.2,952.6 L311.8,952 L335.5,952.6 L354.4,947.4 L366.2,955 L392.2,958.5 L396.9,968 L396.9,979.8 L402.8,989.3 L400.5,1001 L396.9,1003.5 L396.9,1024.7 L401.2,1027 L398.1,1031.8 L398.1,1035.5 L394.6,1059.1 L382.7,1078 L366.2,1099.3 L349.6,1111.1 L326,1113.5 L313,1110 L313,1104 L326,1104 L328.4,1094.5 L330.7,1078 L329.5,1059.1 L323.6,1035.5 L316.5,1022.4 L302.4,996.4 L292.9,979.8 L283.5,976.3 L271.6,984.5 L269.3,1008.2 L269.3,1030.7 L264.5,1047.3 L256.3,1059.1 L256.3,1094.5 L262.2,1108.7 L262.2,1137.1 L251.5,1146.5 L249.2,1144.2 L248,1137.1 L239.7,1131.2 L240.9,1126.5 L249.2,1122.9 L250.4,1106.4 L249.2,1070.9 L249.2,1035.5 L250.4,1008.2Z"/>
<path class="w" style="stroke-width:1.1" d="M354.4,947.4 L350,975 L338,1010 L328,1040"/>
<path class="o" style="stroke-width:0.9" d="M357,950 L356,1000 L355,1021"/>
<path class="o" style="stroke-width:0.9" d="M366.2,955 L366,1021"/>
<path class="w" style="stroke-width:0.8" d="M361,958 L361,1018"/>
<path class="o" style="stroke-width:0.9" d="M290,960 L312,958 L335.5,957 L352,952"/>
<path class="o" style="stroke-width:0.9" d="M266,975 L262,990 L260,1040 L252,1046"/>
<path class="o" style="stroke-width:0.9" d="M372,1000 L372,1050 L380,1062 L392,1058"/>
<path class="o" style="stroke-width:0.8" d="M330,1078 L345,1082 L368,1068 L380,1062"/>
<path class="o" style="stroke-width:0.8" d="M369.7,1041.3 L372,1050"/>
<path class="w" style="stroke-width:0.8" d="M253,1060 L253,1104"/>
<path class="o" style="stroke-width:0.8" d="M253,1110 L259,1110 L259,1134 L253,1138"/>
<path class="o" style="stroke-width:0.8" d="M253,1000 L262,997 L263,1020 L255,1024 L253,1000"/>
<path class="o" style="stroke-width:0.8" d="M333,1090 L343,1086 L348,1094 L338,1100"/>
<!-- 41_bracket_hw.line -->
<path class="o" style="stroke-width:1.2" d="M242.1,912.5 L264.5,920.3 L266,924.3 L264.1,927.8 L242.1,920.7Z"/>
<path class="o" style="stroke-width:1.3" d="M234.3,914.8 L237.4,910.1 L241.6,911.7 L243.3,917.9 L240.4,922.1 L235.7,920.3Z"/>
<path class="o" style="stroke-width:0.7" d="M246.1,914.1L245.6,921.7"/>
<path class="o" style="stroke-width:0.7" d="M250.1,915.5L249.7,923.1"/>
<path class="o" style="stroke-width:0.7" d="M254.1,916.9L253.7,924.5"/>
<path class="o" style="stroke-width:0.7" d="M258.2,918.4L257.7,925.9"/>
<path class="o" style="stroke-width:0.7" d="M262.2,919.8L261.7,927.3"/>
<ellipse class="o" style="stroke-width:2.0;" cx="278.3" cy="929" rx="5" ry="8" transform="rotate(12 278.3 929)"/>
<ellipse class="o" style="fill:#fff;stroke-width:0.8;" cx="278.6" cy="929" rx="2.6" ry="5.4" transform="rotate(12 278.6 929)"/>
<path d="M277.3,922l5,-2" stroke="#fff" stroke-width="1.6" fill="none"/>
<path class="o" style="stroke-width:1.3" d="M199.5,997.5 L203.1,992.8 L207.8,991.6 L213.7,994 L216.8,998.7 L216.8,1005.8 L213.7,1009.4 L201.9,1009.4 L198.8,1005.8Z"/>
<path class="o" style="stroke-width:1.1" d="M203.1,1009.4 L213,1009.4 L212.5,1017.6 L209,1020 L204.3,1017.6Z"/>
<path class="o" style="stroke-width:0.9" d="M199.5,999.9 L207.8,1002.3 L216.8,999.9"/>
<path class="o" style="stroke-width:0.8" d="M203.6,1012.9 L212.8,1013.4"/>
<path class="o" style="stroke-width:0.8" d="M203.8,1015.7 L212.5,1016.2"/>
<ellipse class="o" style="stroke-width:1.5;" cx="207.8" cy="1033.9" rx="9" ry="6.6"/>
<ellipse class="o" style="fill:#fff;stroke-width:1.1;" cx="207.8" cy="1033.5" rx="5.6" ry="3.6"/>
<path class="o" style="stroke-width:1.6" d="M215.8,1056.4 L211.8,1062.6 L203.8,1062.6 L199.8,1056.4 L203.8,1050.2 L211.8,1050.2Z"/>
<ellipse class="o" style="stroke-width:1.2800000000000002;" cx="207.8" cy="1055.9" rx="3.4" ry="2.6"/>
<path class="o" style="stroke-width:0.8" d="M203.8,1062.5L204.2,1058.9"/>
<path class="o" style="stroke-width:0.8" d="M211.8,1062.5L211.4,1058.9"/>
<path class="o" style="stroke-width:1.6" d="M218.1,1091.1 L224.7,1091.1 L224.7,1103.2 L223.1,1104.2 L219.8,1104.2 L218.1,1103.2Z"/>
<path class="o" style="stroke-width:1.6" d="M215.4,1085.1 L217.4,1083.6 L225.4,1083.6 L227.4,1085.1 L227.4,1089.6 L225.9,1091.1 L216.9,1091.1 L215.4,1089.6Z"/>
<path class="o" style="stroke-width:0.9" d="M218.1,1093.1L224.7,1093.9"/>
<path class="o" style="stroke-width:0.9" d="M218.1,1095.3L224.7,1096.1"/>
<path class="o" style="stroke-width:0.9" d="M218.1,1097.5L224.7,1098.3"/>
<path class="o" style="stroke-width:0.9" d="M218.1,1099.7L224.7,1100.5"/>
<path class="o" style="stroke-width:0.9" d="M218.1,1101.9L224.7,1102.7"/>
<ellipse class="o" style="stroke-width:1.5;" cx="221.5" cy="1117.7" rx="8.4" ry="5.2"/>
<ellipse class="o" style="fill:#fff;stroke-width:1.0;" cx="221.5" cy="1117.4" rx="5.2" ry="2.8"/>
<!-- 50_housing.line -->
<path class="o" style="stroke-width:1.6" d="M540.4,1098C540.7,1095.6 540.8,1087.6 542.1,1083.8C543.4,1080.1 545.8,1077.3 548,1075.5C550.2,1073.8 553.9,1073.6 555.1,1073.2L564.5,1075.5 L579.9,1079.1L578.7,1170.9 L577.5,1238.3 L574,1237.1 L566.9,1244.2 L559.8,1244.2 L557.5,1237.1 L558.6,1222.9 L545.6,1220.5 L540.4,1213.5Z"/>
<path class="o" style="stroke-width:1.6" d="M562.2,1066.1 L633.1,1043.6L633.1,1043.6C634.2,1043 637.4,1040.6 639.5,1039.8C641.6,1039 643.8,1038.8 646,1038.7C648.2,1038.6 649.8,1038.2 652.6,1039.1C655.4,1040 659.8,1042.3 663,1044.3C666.2,1046.2 668.8,1048.4 672,1050.8C675.2,1053.2 679.9,1055.7 682.5,1058.7C685.1,1061.7 686.6,1064.6 687.7,1069C688.8,1073.4 688.8,1082.3 689,1085L688.6,1196.1 L675.6,1200.8 L659.1,1194.9 L656.7,1190.2 L654.4,1063.7 L647.3,1059.7 L602.4,1081.9 L590.5,1091.4 L587,1102.7 L587,1170.9 L588.2,1227.6 L600,1228.8 L598.8,1232.4 L590.5,1238.3 L577.5,1238.3 L578.7,1114.5 L579.9,1079.1 L564.5,1075.5 L563.4,1070.8Z"/>
<path class="o" style="stroke-width:0.9" d="M583.5,1237C583.5,1214.6 582.9,1127.3 583.5,1102.7C584,1078.2 584.2,1093.7 587,1089.7C589.8,1085.8 589.6,1084.8 600,1079.1C610.4,1073.4 639.4,1059.4 649.6,1055.5C659.9,1051.5 656.7,1053.5 661.5,1055.5C666.2,1057.4 674.7,1062.9 678,1067.3C681.3,1071.6 680.6,1060.2 681.5,1081.5C682.5,1102.7 683.5,1176 683.9,1194.9"/>
<path class="w" style="stroke-width:0.9" d="M580.6,1237C580.7,1214.2 580.4,1125.5 581.1,1100.4C581.8,1075.2 581.9,1090.2 584.6,1086.2C587.4,1082.2 587.2,1081.8 597.6,1076.3C608.1,1070.7 636.2,1057.1 647.3,1053.1C658.3,1049 658.1,1049.9 663.8,1051.9C669.5,1053.9 677.9,1060 681.5,1064.9C685.2,1069.8 684.7,1059.6 685.6,1081.5C686.4,1103.3 686.4,1177 686.5,1196.1"/>
<path class="o" style="stroke-width:0.9" d="M563.4,1070.8 L574,1076.7 L635.5,1053.1 L633.1,1043.6"/>
<path class="o" style="stroke-width:0.9" d="M574,1076.7 L581.1,1081.5"/>
<path class="o" style="stroke-width:0.9" d="M635.5,1053.1 L649.6,1055.5"/>
<path class="o" style="stroke-width:1.5" d="M663,1066 L663,1173"/>
<path class="w" style="stroke-width:0.8" d="M660.3,1064.9 L661,1191.4"/>
<ellipse class="o" style="fill:#fff;stroke-width:1.5;" cx="646" cy="1049.6" rx="5.2" ry="3.6" transform="rotate(-18 646 1049.6)"/>
<ellipse class="o" style="fill:#333;stroke-width:0.8;" cx="646.3" cy="1049.8" rx="2.4" ry="1.6" transform="rotate(-18 646.3 1049.8)"/>
<ellipse class="o" style="fill:#fff;stroke-width:1.4;" cx="583" cy="1074.8" rx="4.2" ry="3" transform="rotate(-18 583 1074.8)"/>
<ellipse class="o" style="fill:#333;stroke-width:0.8;" cx="583.3" cy="1075" rx="1.8" ry="1.3" transform="rotate(-18 583.3 1075)"/>
<path class="o" style="stroke-width:1.0" d="M665,1077.9L678,1085"/>
<path class="o" style="stroke-width:0.8" d="M665,1081.4L677,1088"/>
<path class="o" style="stroke-width:1.0" d="M665,1111L676.8,1121.6"/>
<path class="o" style="stroke-width:0.8" d="M665,1114.5L675.8,1124.6"/>
<path class="o" style="stroke-width:1.0" d="M665,1166.5L679.2,1176"/>
<path class="o" style="stroke-width:0.8" d="M665,1170L678.2,1179"/>
<ellipse class="o" style="fill:#bbb;stroke-width:1.0;" cx="676.1" cy="1122.8" rx="2.6" ry="3.4"/>
<path class="o" style="stroke-width:1.1" d="M587.5,1148.8 L598.8,1156.6 L602.4,1161.3 L599.5,1167 L595.3,1167 L587.5,1163Z"/>
<ellipse class="o" style="fill:#ccc;stroke-width:1.0;" cx="598.8" cy="1161.8" rx="2.8" ry="3.8" transform="rotate(10 598.8 1161.8)"/>
<path class="o" style="stroke-width:0.9" d="M558.6,1222.9 L566.9,1221.7 L574,1227.6 L577.5,1228.8"/>
<ellipse class="o" style="stroke-width:0.9;" cx="564.1" cy="1232.4" rx="3.4" ry="2.4" transform="rotate(-30 564.1 1232.4)"/>
<!-- 51_housing_hw.line -->
<path class="o" style="stroke-width:1.6" d="M513.7,1200.4 L520.3,1200.4 L520.3,1210.6 L518.6,1211.6 L515.4,1211.6 L513.7,1210.6Z"/>
<path class="o" style="stroke-width:1.6" d="M510.8,1193.9 L512.8,1192.4 L521.2,1192.4 L523.2,1193.9 L523.2,1198.9 L521.8,1200.4 L512.2,1200.4 L510.8,1198.9Z"/>
<path class="o" style="stroke-width:0.9" d="M513.7,1202.4L520.3,1203.2"/>
<path class="o" style="stroke-width:0.9" d="M513.7,1204.6L520.3,1205.4"/>
<path class="o" style="stroke-width:0.9" d="M513.7,1206.8L520.3,1207.6"/>
<path class="o" style="stroke-width:0.9" d="M513.7,1209L520.3,1209.8"/>
<ellipse class="o" style="stroke-width:1.5;" cx="517.3" cy="1225.6" rx="8.4" ry="5.2"/>
<ellipse class="o" style="fill:#fff;stroke-width:1.0;" cx="517.3" cy="1225.3" rx="5.2" ry="2.6"/>
<path d="M714.5,1274L714.5,1131Q715,1126 718,1122L724,1114Q726,1112 729,1110.5L782,1090.3Q792,1087.5 800,1090.5Q806,1094 807.5,1103L808.3,1112L808.3,1228" fill="none" stroke="#111" stroke-width="4.3" stroke-linejoin="round"/>
<path d="M714.5,1274L714.5,1131Q715,1126 718,1122L724,1114Q726,1112 729,1110.5L782,1090.3Q792,1087.5 800,1090.5Q806,1094 807.5,1103L808.3,1112L808.3,1228" fill="none" stroke="#e4e4e4" stroke-width="1.7" stroke-linejoin="round" stroke-dasharray="2.2 1"/>
<path class="o" style="stroke-width:1.1" d="M978,1215.6 L981,1213.6 L990,1218 L989,1223.6 L979,1220Z"/>
<ellipse class="o" style="stroke-width:1.3;" cx="993.2" cy="1222.4" rx="5.2" ry="6.4" transform="rotate(15 993.2 1222.4)"/>
<!-- 52_cover.line -->
<path class="o" style="stroke-width:1.7" d="M837,1184 L839,1172 L846,1160 L860,1152 L880,1144 L900,1134 L920,1124 L932,1120 L944,1122 L952,1127 L953.6,1140 L953,1180 L952.4,1191 L949,1194 L944.7,1196.4 L943.6,1202 L943.6,1216 L949,1218.5 L951.3,1221 L951.3,1240 L951.5,1274 L953.5,1277 L953.5,1280.5 L950.2,1284.7 L938.2,1293.5 L930,1300 L900,1316 L870,1328 L846,1335 L837,1334 L835,1328 L836,1280 L836,1220Z"/>
<path class="o" style="stroke-width:0.8" d="M894,1151 L918,1144.4 L920,1158 L896.4,1167 L894,1151"/>
<path class="w" style="stroke-width:1.0" d="M896.4,1167 L915,1160"/>
<path class="w" style="stroke-width:0.9" d="M914,1161 L914,1196"/>
<path class="o" style="stroke-width:2.2" d="M897,1204.4 L921,1195.6"/>
<path class="w" style="stroke-width:0.9" d="M897,1202 L921,1193.2"/>
<ellipse class="o" style="stroke-width:1.0;" cx="860.5" cy="1243.4" rx="10" ry="14" transform="rotate(22 860.5 1243.4)"/>
<ellipse class="o" style="stroke-width:1.4;" cx="859" cy="1241.4" rx="6" ry="10" transform="rotate(22 859 1241.4)"/>
<ellipse class="w" style="stroke-width:0.9;" cx="862" cy="1245.4" rx="12.5" ry="16.5" transform="rotate(22 862 1245.4)"/>
<path class="o" style="stroke-width:0.9" d="M898,1302 L912,1297.6 L913,1308 L899.4,1312.4Z"/>
<path class="o" style="stroke-width:1.2" d="M947.5,1199C947.2,1199.7 946.2,1200.8 946,1203C945.8,1205.2 945.7,1210 946,1212C946.3,1214 947.7,1214.5 948,1215"/>
<path class="o" style="stroke-width:1.2" d="M932,1260 L940,1258"/>
<!-- 90_specks.line -->
<circle cx="837.5" cy="288.5" r="0.6" fill="#333"/>
<path d="M840,301.3h3.2" stroke="#222" stroke-width="1.4" fill="none"/>
<circle cx="907.5" cy="324" r="0.5" fill="#333"/>
<circle cx="956" cy="358" r="0.5" fill="#333"/>
<circle cx="988.5" cy="170" r="0.4" fill="#333"/>
<circle cx="1087.5" cy="170" r="0.4" fill="#333"/>
<circle cx="481.5" cy="11" r="0.6" fill="#333"/>
<circle cx="355" cy="131.5" r="0.6" fill="#333"/>
<circle cx="119" cy="443.5" r="0.5" fill="#333"/>
<circle cx="477.5" cy="472.5" r="0.6" fill="#333"/>
<circle cx="537.5" cy="467.5" r="0.5" fill="#333"/>
<circle cx="495.5" cy="513" r="0.8" fill="#333"/>
<circle cx="149" cy="581.5" r="0.5" fill="#333"/>
<circle cx="104" cy="643.5" r="0.5" fill="#333"/>
<circle cx="476" cy="760" r="0.5" fill="#333"/>
<circle cx="870" cy="681.5" r="0.6" fill="#333"/>
<circle cx="935" cy="751.5" r="0.5" fill="#333"/>
<circle cx="689" cy="718.5" r="0.4" fill="#333"/>
<circle cx="139" cy="1016.5" r="0.5" fill="#333"/>
<circle cx="370" cy="1111.5" r="0.5" fill="#333"/>
<circle cx="525" cy="990" r="0.4" fill="#333"/>
<circle cx="100" cy="1214" r="0.5" fill="#333"/>
<circle cx="277.5" cy="1244" r="0.5" fill="#333"/>
<circle cx="300" cy="1292.5" r="0.6" fill="#333"/>
<circle cx="305" cy="1291" r="0.5" fill="#333"/>
<circle cx="681.5" cy="1019" r="0.5" fill="#333"/>
<circle cx="771.5" cy="1054" r="0.7" fill="#333"/>
<circle cx="610" cy="1236" r="0.6" fill="#333"/>
<circle cx="768.5" cy="1251" r="0.5" fill="#333"/>
</g>
<g id="leaders">
<polyline class="ld" points="74,113.2 262,113.2"/>
<polyline class="ld" points="74,153.6 203.5,153.6 258.4,168.3"/>
<polyline class="ld" points="74,194.4 258.4,194.4"/>
<polyline class="ld" points="74,289 186,289"/>
<polyline class="ld" points="74,329 199,329"/>
<polyline class="ld" points="74,369 171,369 205,357.4"/>
<polyline class="ld" points="74,615.8 400.8,615.8"/>
<polyline class="ld" points="74,783.5 398,783.5"/>
<polyline class="ld" points="74,821.7 404,821.7"/>
<polyline class="ld" points="74,876 258,876 274,913.6"/>
<polyline class="ld" points="74,915.2 225.5,915.2"/>
<polyline class="ld" points="73,960.6 254,960.6"/>
<polyline class="ld" points="73,1001.8 188.8,1001.8"/>
<polyline class="ld" points="73,1041.8 137.8,1041.8 189.4,1034.7"/>
<polyline class="ld" points="73,1081.6 142.8,1081.6 192.5,1059"/>
<polyline class="ld" points="73,1127.5 140.8,1127.5 207.7,1095.7"/>
<polyline class="ld" points="73,1167.5 147.9,1167.5 210.7,1126.1"/>
<polyline class="ld" points="436,1146 529.7,1146"/>
<polyline class="ld" points="436,1201.3 505.2,1201.3"/>
<polyline class="ld" points="436,1241.4 475.7,1241.4 502.7,1230.3"/>
<polyline class="ld" points="1036,52.6 850,52.6 792.5,125"/>
<polyline class="ld" points="1036,92.8 866.8,92.8 822.6,139.3"/>
<polyline class="ld" points="1036,133 902,133 865.2,142.7"/>
<polyline class="ld" points="1036,173.7 907.3,173.7"/>
<polyline class="ld" points="1037,312.2 825.5,312.2"/>
<polyline class="ld" points="1037,451.2 921.3,451.2"/>
<polyline class="ld" points="1037,491.8 927.4,491.8 882.5,464.6"/>
<polyline class="ld" points="1037,531.8 922.3,531.8 862,507.5"/>
<polyline class="ld" points="1036,646.3 653.4,646.3"/>
<polyline class="ld" points="1036,694.6 650,694.6"/>
<polyline class="ld" points="1036,762.7 705,762.7"/>
<polyline class="ld" points="1036,801.5 767,801.5 701.5,790"/>
<polyline class="ld" points="1036,853.9 765,853.9 636.2,799.4"/>
<polyline class="ld" points="1036,892.6 760,892.6 639.5,822.3"/>
<polyline class="ld" points="1035,1096.2 814,1096.2"/>
<polyline class="ld" points="1035,1150.9 961.1,1150.9"/>
<polyline class="ld" points="1035,1220 1001.4,1220"/>
</g>
<g id="callouts" style="opacity:0.999">
<circle class="cc" cx="53.4" cy="113.2" r="19.8"/><text class="cn" transform="translate(53.7 122.4) scale(0.655 1)" x="0" y="0">6</text>
<circle class="cc" cx="53.4" cy="154" r="19.8"/><text class="cn" transform="translate(53.7 163.2) scale(0.655 1)" x="0" y="0">8</text>
<circle class="cc" cx="53.4" cy="195" r="19.8"/><text class="cn" transform="translate(53.7 204.2) scale(0.655 1)" x="0" y="0">7</text>
<circle class="cc" cx="53.4" cy="288.6" r="19.8"/><text class="cn" transform="translate(53.7 297.8) scale(0.655 1)" x="0" y="0">12</text>
<circle class="cc" cx="53.4" cy="329" r="19.8"/><text class="cn" transform="translate(53.7 338.2) scale(0.655 1)" x="0" y="0">13</text>
<circle class="cc" cx="53.4" cy="369.6" r="19.8"/><text class="cn" transform="translate(53.7 378.8) scale(0.655 1)" x="0" y="0">14</text>
<circle class="cc" cx="53.2" cy="616.6" r="19.8"/><text class="cn" transform="translate(53.5 625.8) scale(0.655 1)" x="0" y="0">22</text>
<circle class="cc" cx="53.2" cy="783" r="19.8"/><text class="cn" transform="translate(53.5 792.2) scale(0.655 1)" x="0" y="0">21</text>
<circle class="cc" cx="53.2" cy="823.9" r="19.8"/><text class="cn" transform="translate(53.5 833.1) scale(0.655 1)" x="0" y="0">23</text>
<circle class="cc" cx="53.2" cy="876" r="19.8"/><text class="cn" transform="translate(53.5 885.2) scale(0.655 1)" x="0" y="0">29</text>
<circle class="cc" cx="53.2" cy="916.2" r="19.8"/><text class="cn" transform="translate(53.5 925.4) scale(0.655 1)" x="0" y="0">28</text>
<circle class="cc" cx="52.8" cy="961.7" r="19.8"/><text class="cn" transform="translate(53.1 970.9) scale(0.655 1)" x="0" y="0">24</text>
<circle class="cc" cx="52.8" cy="1001.7" r="19.8"/><text class="cn" transform="translate(53.1 1010.9) scale(0.655 1)" x="0" y="0">25</text>
<circle class="cc" cx="52.8" cy="1042" r="19.8"/><text class="cn" transform="translate(53.1 1051.2) scale(0.655 1)" x="0" y="0">26</text>
<circle class="cc" cx="52.8" cy="1082.2" r="19.8"/><text class="cn" transform="translate(53.1 1091.4) scale(0.655 1)" x="0" y="0">27</text>
<circle class="cc" cx="52.8" cy="1127.8" r="19.8"/><text class="cn" transform="translate(53.1 1137) scale(0.655 1)" x="0" y="0">30</text>
<circle class="cc" cx="52.8" cy="1168" r="19.8"/><text class="cn" transform="translate(53.1 1177.2) scale(0.655 1)" x="0" y="0">31</text>
<circle class="cc" cx="415.2" cy="1146.9" r="19.8"/><text class="cn" transform="translate(415.5 1156.1) scale(0.655 1)" x="0" y="0">32</text>
<circle class="cc" cx="415.2" cy="1201.9" r="19.8"/><text class="cn" transform="translate(415.5 1211.1) scale(0.655 1)" x="0" y="0">33</text>
<circle class="cc" cx="415.2" cy="1242.5" r="19.8"/><text class="cn" transform="translate(415.5 1251.7) scale(0.655 1)" x="0" y="0">34</text>
<circle class="cc" cx="1056.6" cy="51.3" r="19.8"/><text class="cn" transform="translate(1056.9 60.5) scale(0.655 1)" x="0" y="0">4</text>
<circle class="cc" cx="1056.6" cy="91.8" r="19.8"/><text class="cn" transform="translate(1056.9 101) scale(0.655 1)" x="0" y="0">5</text>
<circle class="cc" cx="1056.6" cy="132.4" r="19.8"/><text class="cn" transform="translate(1056.9 141.6) scale(0.655 1)" x="0" y="0">3</text>
<circle class="cc" cx="1056.8" cy="172.9" r="19.8"/><text class="cn" transform="translate(1057.1 182.1) scale(0.655 1)" x="0" y="0">2</text>
<circle class="cc" cx="1057.9" cy="310.9" r="19.8"/><text class="cn" transform="translate(1058.2 320.1) scale(0.655 1)" x="0" y="0">1</text>
<circle class="cc" cx="1058" cy="450.6" r="19.8"/><text class="cn" transform="translate(1058.3 459.8) scale(0.655 1)" x="0" y="0">10</text>
<circle class="cc" cx="1058" cy="491.3" r="19.8"/><text class="cn" transform="translate(1058.3 500.5) scale(0.655 1)" x="0" y="0">9</text>
<circle class="cc" cx="1058" cy="531.5" r="19.8"/><text class="cn" transform="translate(1058.3 540.7) scale(0.655 1)" x="0" y="0">11</text>
<circle class="cc" cx="1057" cy="645" r="19.8"/><text class="cn" transform="translate(1057.3 654.2) scale(0.655 1)" x="0" y="0">16</text>
<circle class="cc" cx="1057" cy="693.5" r="19.8"/><text class="cn" transform="translate(1057.3 702.7) scale(0.655 1)" x="0" y="0">15</text>
<circle class="cc" cx="1057" cy="761.5" r="19.8"/><text class="cn" transform="translate(1057.3 770.7) scale(0.655 1)" x="0" y="0">17</text>
<circle class="cc" cx="1057" cy="801.9" r="19.8"/><text class="cn" transform="translate(1057.3 811.1) scale(0.655 1)" x="0" y="0">18</text>
<circle class="cc" cx="1057" cy="851.9" r="19.8"/><text class="cn" transform="translate(1057.3 861.1) scale(0.655 1)" x="0" y="0">19</text>
<circle class="cc" cx="1057" cy="892" r="19.8"/><text class="cn" transform="translate(1057.3 901.2) scale(0.655 1)" x="0" y="0">20</text>
<circle class="cc" cx="1056" cy="1095.9" r="19.8"/><text class="cn" transform="translate(1056.3 1105.1) scale(0.655 1)" x="0" y="0">36</text>
<circle class="cc" cx="1056" cy="1150.7" r="19.8"/><text class="cn" transform="translate(1056.3 1159.9) scale(0.655 1)" x="0" y="0">35</text>
<circle class="cc" cx="1056" cy="1219.9" r="19.8"/><text class="cn" transform="translate(1056.3 1229.1) scale(0.655 1)" x="0" y="0">37</text>
</g>
</svg>
</body>
</html>
